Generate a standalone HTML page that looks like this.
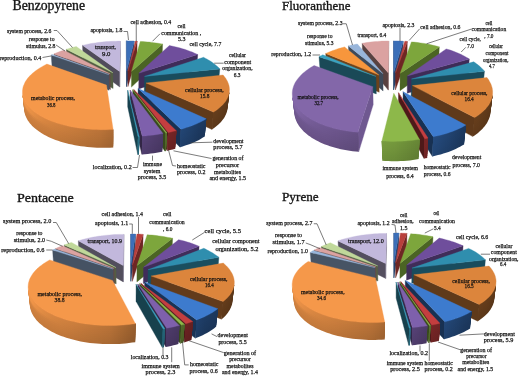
<!DOCTYPE html>
<html><head><meta charset="utf-8"><style>
html,body{margin:0;padding:0;background:#fff;width:520px;height:377px;overflow:hidden}
svg{display:block;filter:blur(0.4px)}
text{font-family:"Liberation Serif",serif;fill:#111}
.lbl text{stroke:#111;stroke-width:0.25px}
.t{font-family:"Liberation Sans",sans-serif}
</style></head><body>
<svg width="520" height="377" viewBox="0 0 520 377">
<rect width="520" height="377" fill="#fff"/>
<polygon points="126.5,71.0 126.4,40.8 126.4,55.0 126.5,86.6" fill="#182c4a" stroke="#182c4a" stroke-width="0.35"/>
<polygon points="126.5,71.0 134.2,41.0 134.0,55.2 126.5,86.6" fill="#24436e" stroke="#24436e" stroke-width="0.35"/>
<polygon points="126.5,71.0 126.4,40.8 128.3,40.9 130.3,40.9 132.2,40.9 134.2,41.0" fill="#3c6fb8" stroke="#3c6fb8" stroke-width="0.35"/>
<polygon points="127.9,71.1 137.1,41.1 137.0,55.3 127.9,86.7" fill="#6e2624" stroke="#6e2624" stroke-width="0.35"/>
<polygon points="127.9,71.1 135.4,41.1 136.3,41.1 137.1,41.1" fill="#b8403c" stroke="#b8403c" stroke-width="0.35"/>
<polygon points="119.6,71.4 82.5,45.3 83.1,59.7 119.7,87.0" fill="#504c5b" stroke="#504c5b" stroke-width="0.35"/>
<polygon points="119.6,71.4 120.3,41.1 120.4,55.3 119.7,87.0" fill="#746e84" stroke="#746e84" stroke-width="0.35"/>
<polygon points="119.6,71.4 82.5,45.3 84.6,44.9 86.7,44.4 88.8,44.0 91.0,43.6 93.2,43.2 95.4,42.9 97.6,42.6 99.8,42.3 102.0,42.1 104.3,41.8 106.6,41.6 108.8,41.5 111.1,41.3 113.4,41.2 115.7,41.2 118.0,41.1 120.3,41.1" fill="#c2b8dc" stroke="#c2b8dc" stroke-width="0.35"/>
<polygon points="131.5,71.4 162.6,44.1 162.1,58.4 131.4,87.1" fill="#4b6424" stroke="#4b6424" stroke-width="0.35"/>
<polygon points="131.5,71.4 140.3,41.4 142.6,41.5 144.9,41.7 147.1,41.9 149.4,42.1 151.7,42.4 153.9,42.7 156.1,43.0 158.3,43.3 160.5,43.7 162.6,44.1" fill="#7da63c" stroke="#7da63c" stroke-width="0.35"/>
<polygon points="112.9,72.8 66.3,49.3 67.2,63.9 113.1,88.5" fill="#525d42" stroke="#525d42" stroke-width="0.35"/>
<polygon points="112.9,72.8 66.3,49.3 68.3,48.7 70.2,48.1 72.2,47.5 74.2,47.0 76.3,46.5" fill="#c0d89a" stroke="#c0d89a" stroke-width="0.35"/>
<polygon points="138.9,73.2 197.7,54.5 196.7,69.4 138.7,88.9" fill="#3f2c59" stroke="#3f2c59" stroke-width="0.35"/>
<polygon points="138.9,73.2 169.4,45.5 171.6,46.0 173.9,46.5 176.0,47.0 178.2,47.5 180.3,48.1 182.4,48.7 184.5,49.3 186.5,50.0 188.5,50.7 190.4,51.4 192.3,52.1 194.1,52.9 195.9,53.7 197.7,54.5" fill="#6f4e9c" stroke="#6f4e9c" stroke-width="0.35"/>
<polygon points="110.2,73.9 54.0,53.9 55.0,68.7 110.5,89.6" fill="#624848" stroke="#624848" stroke-width="0.35"/>
<polygon points="110.2,73.9 54.0,53.9 55.5,53.2 57.1,52.6 58.7,51.9 60.4,51.3 62.1,50.7 63.8,50.2" fill="#dba2a1" stroke="#dba2a1" stroke-width="0.35"/>
<polygon points="108.8,74.6 51.2,55.1 52.3,70.0 109.1,90.3" fill="#445162" stroke="#445162" stroke-width="0.35"/>
<polygon points="108.8,74.6 51.2,55.1 51.9,54.8 52.5,54.5" fill="#98b5da" stroke="#98b5da" stroke-width="0.35"/>
<polygon points="144.5,76.4 219.8,68.9 218.3,84.4 144.2,92.3" fill="#194c5d" stroke="#194c5d" stroke-width="0.35"/>
<polygon points="144.5,76.4 203.6,57.3 205.2,58.2 206.8,59.0 208.4,59.9 209.9,60.8 211.4,61.8 212.7,62.7 214.1,63.7 215.3,64.7 216.5,65.7 217.7,66.7 218.8,67.8 219.8,68.9" fill="#2f8eae" stroke="#2f8eae" stroke-width="0.35"/>
<polygon points="146.0,83.0 213.5,112.1 212.0,129.5 145.7,99.1" fill="#603a1a" stroke="#603a1a" stroke-width="0.35"/>
<linearGradient id="benzo1" gradientUnits="userSpaceOnUse" x1="213.5" y1="0" x2="229.3" y2="0"><stop offset="0.00" stop-color="#5d3819"/><stop offset="0.41" stop-color="#5b3719"/><stop offset="0.72" stop-color="#583518"/><stop offset="0.91" stop-color="#563417"/><stop offset="1.00" stop-color="#543317"/></linearGradient>
<polygon points="229.3,91.6 229.1,93.0 228.8,94.3 228.4,95.6 227.9,97.0 227.3,98.3 226.6,99.6 225.8,101.0 224.9,102.3 223.8,103.6 222.7,104.8 221.4,106.1 220.0,107.3 218.6,108.6 217.0,109.8 215.3,110.9 213.5,112.1 212.0,129.5 213.7,128.3 215.4,127.1 216.9,125.8 218.4,124.5 219.7,123.2 221.0,121.9 222.1,120.6 223.1,119.2 224.1,117.9 224.9,116.5 225.6,115.1 226.2,113.7 226.7,112.3 227.1,110.9 227.4,109.6 227.6,108.2" fill="url(#benzo1)"/>
<linearGradient id="benzo2" gradientUnits="userSpaceOnUse" x1="213.5" y1="0" x2="229.3" y2="0"><stop offset="0.00" stop-color="#5e391a"/><stop offset="0.41" stop-color="#5c3719"/><stop offset="0.72" stop-color="#593618"/><stop offset="0.91" stop-color="#573418"/><stop offset="1.00" stop-color="#553317"/></linearGradient>
<polygon points="229.3,91.6 229.1,93.0 228.8,94.3 228.4,95.6 227.9,97.0 227.3,98.3 226.6,99.6 225.8,101.0 224.9,102.3 223.8,103.6 222.7,104.8 221.4,106.1 220.0,107.3 218.6,108.6 217.0,109.8 215.3,110.9 213.5,112.1 212.1,127.8 213.9,126.6 215.5,125.4 217.1,124.1 218.6,122.8 219.9,121.6 221.1,120.2 222.3,118.9 223.3,117.6 224.2,116.2 225.1,114.8 225.8,113.5 226.4,112.1 226.9,110.7 227.3,109.3 227.6,107.9 227.8,106.5" fill="url(#benzo2)"/>
<linearGradient id="benzo3" gradientUnits="userSpaceOnUse" x1="213.5" y1="0" x2="229.3" y2="0"><stop offset="0.00" stop-color="#5f391a"/><stop offset="0.41" stop-color="#5c3819"/><stop offset="0.72" stop-color="#5a3619"/><stop offset="0.91" stop-color="#583518"/><stop offset="1.00" stop-color="#553417"/></linearGradient>
<polygon points="229.3,91.6 229.1,93.0 228.8,94.3 228.4,95.6 227.9,97.0 227.3,98.3 226.6,99.6 225.8,101.0 224.9,102.3 223.8,103.6 222.7,104.8 221.4,106.1 220.0,107.3 218.6,108.6 217.0,109.8 215.3,110.9 213.5,112.1 212.3,126.1 214.0,124.9 215.7,123.7 217.3,122.4 218.7,121.1 220.1,119.9 221.3,118.6 222.5,117.2 223.5,115.9 224.4,114.5 225.2,113.2 225.9,111.8 226.5,110.4 227.1,109.0 227.5,107.7 227.7,106.3 227.9,104.9" fill="url(#benzo3)"/>
<linearGradient id="benzo4" gradientUnits="userSpaceOnUse" x1="213.5" y1="0" x2="229.3" y2="0"><stop offset="0.00" stop-color="#603a1a"/><stop offset="0.41" stop-color="#5d3819"/><stop offset="0.72" stop-color="#5b3719"/><stop offset="0.91" stop-color="#593618"/><stop offset="1.00" stop-color="#563418"/></linearGradient>
<polygon points="229.3,91.6 229.1,93.0 228.8,94.3 228.4,95.6 227.9,97.0 227.3,98.3 226.6,99.6 225.8,101.0 224.9,102.3 223.8,103.6 222.7,104.8 221.4,106.1 220.0,107.3 218.6,108.6 217.0,109.8 215.3,110.9 213.5,112.1 212.4,124.3 214.2,123.1 215.9,121.9 217.4,120.7 218.9,119.4 220.2,118.2 221.5,116.9 222.6,115.5 223.7,114.2 224.6,112.9 225.4,111.5 226.1,110.1 226.7,108.8 227.2,107.4 227.6,106.0 227.9,104.6 228.1,103.3" fill="url(#benzo4)"/>
<linearGradient id="benzo5" gradientUnits="userSpaceOnUse" x1="213.5" y1="0" x2="229.3" y2="0"><stop offset="0.00" stop-color="#613a1a"/><stop offset="0.41" stop-color="#5e391a"/><stop offset="0.72" stop-color="#5c3819"/><stop offset="0.91" stop-color="#5a3618"/><stop offset="1.00" stop-color="#573518"/></linearGradient>
<polygon points="229.3,91.6 229.1,93.0 228.8,94.3 228.4,95.6 227.9,97.0 227.3,98.3 226.6,99.6 225.8,101.0 224.9,102.3 223.8,103.6 222.7,104.8 221.4,106.1 220.0,107.3 218.6,108.6 217.0,109.8 215.3,110.9 213.5,112.1 212.6,122.6 214.4,121.4 216.0,120.2 217.6,119.0 219.0,117.7 220.4,116.5 221.6,115.2 222.8,113.8 223.8,112.5 224.7,111.2 225.6,109.8 226.3,108.5 226.9,107.1 227.4,105.7 227.8,104.4 228.1,103.0 228.3,101.6" fill="url(#benzo5)"/>
<linearGradient id="benzo6" gradientUnits="userSpaceOnUse" x1="213.5" y1="0" x2="229.3" y2="0"><stop offset="0.00" stop-color="#623b1b"/><stop offset="0.41" stop-color="#5f3a1a"/><stop offset="0.72" stop-color="#5d3819"/><stop offset="0.91" stop-color="#5a3719"/><stop offset="1.00" stop-color="#583518"/></linearGradient>
<polygon points="229.3,91.6 229.1,93.0 228.8,94.3 228.4,95.6 227.9,97.0 227.3,98.3 226.6,99.6 225.8,101.0 224.9,102.3 223.8,103.6 222.7,104.8 221.4,106.1 220.0,107.3 218.6,108.6 217.0,109.8 215.3,110.9 213.5,112.1 212.7,120.9 214.5,119.7 216.2,118.5 217.8,117.3 219.2,116.0 220.6,114.7 221.8,113.5 223.0,112.1 224.0,110.8 224.9,109.5 225.7,108.1 226.5,106.8 227.1,105.4 227.6,104.1 228.0,102.7 228.3,101.3 228.5,100.0" fill="url(#benzo6)"/>
<linearGradient id="benzo7" gradientUnits="userSpaceOnUse" x1="213.5" y1="0" x2="229.3" y2="0"><stop offset="0.00" stop-color="#633c1b"/><stop offset="0.41" stop-color="#603a1a"/><stop offset="0.72" stop-color="#5e391a"/><stop offset="0.91" stop-color="#5b3719"/><stop offset="1.00" stop-color="#593618"/></linearGradient>
<polygon points="229.3,91.6 229.1,93.0 228.8,94.3 228.4,95.6 227.9,97.0 227.3,98.3 226.6,99.6 225.8,101.0 224.9,102.3 223.8,103.6 222.7,104.8 221.4,106.1 220.0,107.3 218.6,108.6 217.0,109.8 215.3,110.9 213.5,112.1 212.9,119.1 214.7,118.0 216.3,116.8 217.9,115.5 219.4,114.3 220.7,113.0 222.0,111.7 223.1,110.4 224.2,109.1 225.1,107.8 225.9,106.5 226.6,105.1 227.2,103.8 227.7,102.4 228.1,101.0 228.4,99.7 228.6,98.3" fill="url(#benzo7)"/>
<linearGradient id="benzo8" gradientUnits="userSpaceOnUse" x1="213.5" y1="0" x2="229.3" y2="0"><stop offset="0.00" stop-color="#643c1b"/><stop offset="0.41" stop-color="#613b1b"/><stop offset="0.72" stop-color="#5f391a"/><stop offset="0.91" stop-color="#5c3819"/><stop offset="1.00" stop-color="#5a3618"/></linearGradient>
<polygon points="229.3,91.6 229.1,93.0 228.8,94.3 228.4,95.6 227.9,97.0 227.3,98.3 226.6,99.6 225.8,101.0 224.9,102.3 223.8,103.6 222.7,104.8 221.4,106.1 220.0,107.3 218.6,108.6 217.0,109.8 215.3,110.9 213.5,112.1 213.1,117.4 214.8,116.2 216.5,115.0 218.1,113.8 219.5,112.6 220.9,111.3 222.2,110.0 223.3,108.7 224.3,107.4 225.3,106.1 226.1,104.8 226.8,103.4 227.4,102.1 227.9,100.7 228.3,99.4 228.6,98.0 228.8,96.6" fill="url(#benzo8)"/>
<linearGradient id="benzo9" gradientUnits="userSpaceOnUse" x1="213.5" y1="0" x2="229.3" y2="0"><stop offset="0.00" stop-color="#653d1b"/><stop offset="0.41" stop-color="#623b1b"/><stop offset="0.72" stop-color="#603a1a"/><stop offset="0.91" stop-color="#5d3819"/><stop offset="1.00" stop-color="#5b3719"/></linearGradient>
<polygon points="229.3,91.6 229.1,93.0 228.8,94.3 228.4,95.6 227.9,97.0 227.3,98.3 226.6,99.6 225.8,101.0 224.9,102.3 223.8,103.6 222.7,104.8 221.4,106.1 220.0,107.3 218.6,108.6 217.0,109.8 215.3,110.9 213.5,112.1 213.2,115.6 215.0,114.5 216.7,113.3 218.2,112.1 219.7,110.8 221.1,109.6 222.3,108.3 223.5,107.0 224.5,105.7 225.4,104.4 226.3,103.1 227.0,101.7 227.6,100.4 228.1,99.0 228.5,97.7 228.8,96.3 229.0,95.0" fill="url(#benzo9)"/>
<linearGradient id="benzo10" gradientUnits="userSpaceOnUse" x1="213.5" y1="0" x2="229.3" y2="0"><stop offset="0.00" stop-color="#663d1c"/><stop offset="0.41" stop-color="#633c1b"/><stop offset="0.72" stop-color="#613a1a"/><stop offset="0.91" stop-color="#5e391a"/><stop offset="1.00" stop-color="#5c3719"/></linearGradient>
<polygon points="229.3,91.6 229.1,93.0 228.8,94.3 228.4,95.6 227.9,97.0 227.3,98.3 226.6,99.6 225.8,101.0 224.9,102.3 223.8,103.6 222.7,104.8 221.4,106.1 220.0,107.3 218.6,108.6 217.0,109.8 215.3,110.9 213.5,112.1 213.4,113.9 215.2,112.7 216.8,111.5 218.4,110.3 219.9,109.1 221.2,107.8 222.5,106.6 223.6,105.3 224.7,104.0 225.6,102.7 226.4,101.3 227.2,100.0 227.8,98.7 228.3,97.3 228.7,96.0 229.0,94.6 229.1,93.3" fill="url(#benzo10)"/>
<polygon points="146.0,83.0 223.1,75.0 224.1,76.2 225.0,77.4 225.9,78.6 226.6,79.9 227.3,81.1 227.9,82.4 228.4,83.7 228.8,85.0 229.1,86.3 229.3,87.6 229.4,89.0 229.4,90.3 229.3,91.6 229.1,93.0 228.8,94.3 228.4,95.6 227.9,97.0 227.3,98.3 226.6,99.6 225.8,101.0 224.9,102.3 223.8,103.6 222.7,104.8 221.4,106.1 220.0,107.3 218.6,108.6 217.0,109.8 215.3,110.9 213.5,112.1" fill="#dc853c" stroke="#dc853c" stroke-width="0.35"/>
<linearGradient id="benzo11" gradientUnits="userSpaceOnUse" x1="22.5" y1="0" x2="113.1" y2="0"><stop offset="0.00" stop-color="#cb7e3d"/><stop offset="0.01" stop-color="#c97d3d"/><stop offset="0.05" stop-color="#c77c3c"/><stop offset="0.10" stop-color="#c67b3c"/><stop offset="0.16" stop-color="#c47a3b"/><stop offset="0.25" stop-color="#c2783b"/><stop offset="0.35" stop-color="#c0773a"/><stop offset="0.46" stop-color="#bc7439"/><stop offset="0.59" stop-color="#b67137"/><stop offset="0.72" stop-color="#b06d35"/><stop offset="0.86" stop-color="#aa6933"/><stop offset="1.00" stop-color="#9e6230"/></linearGradient>
<polygon points="113.1,129.5 109.7,129.6 106.4,129.7 103.1,129.7 99.7,129.7 96.4,129.6 93.1,129.5 89.8,129.2 86.6,128.9 83.4,128.6 80.2,128.2 77.0,127.7 74.0,127.2 70.9,126.7 68.0,126.0 65.1,125.3 62.2,124.6 59.5,123.8 56.8,123.0 54.2,122.1 51.7,121.2 49.3,120.2 47.0,119.2 44.7,118.2 42.6,117.1 40.6,116.0 38.6,114.8 36.8,113.6 35.1,112.4 33.5,111.2 32.0,109.9 30.6,108.7 29.3,107.4 28.1,106.1 27.1,104.7 26.1,103.4 25.3,102.0 24.6,100.7 23.9,99.3 23.4,97.9 23.0,96.6 22.7,95.2 22.5,93.8 24.2,110.4 24.4,111.9 24.7,113.3 25.1,114.7 25.7,116.2 26.3,117.6 27.0,119.0 27.8,120.4 28.8,121.8 29.8,123.2 31.0,124.6 32.2,125.9 33.6,127.2 35.1,128.6 36.7,129.8 38.4,131.1 40.2,132.3 42.1,133.5 44.1,134.7 46.2,135.8 48.4,136.9 50.7,137.9 53.1,138.9 55.5,139.9 58.1,140.8 60.7,141.7 63.4,142.5 66.2,143.3 69.0,144.0 72.0,144.6 74.9,145.2 78.0,145.7 81.0,146.2 84.1,146.6 87.3,147.0 90.5,147.3 93.7,147.5 97.0,147.7 100.2,147.8 103.5,147.8 106.8,147.8 110.0,147.7 113.3,147.6" fill="url(#benzo11)"/>
<linearGradient id="benzo12" gradientUnits="userSpaceOnUse" x1="22.5" y1="0" x2="113.1" y2="0"><stop offset="0.00" stop-color="#cd7f3e"/><stop offset="0.01" stop-color="#cb7e3d"/><stop offset="0.05" stop-color="#c97d3d"/><stop offset="0.10" stop-color="#c87c3c"/><stop offset="0.16" stop-color="#c67b3c"/><stop offset="0.25" stop-color="#c47a3b"/><stop offset="0.35" stop-color="#c2793b"/><stop offset="0.46" stop-color="#bd7639"/><stop offset="0.59" stop-color="#b87237"/><stop offset="0.72" stop-color="#b26e36"/><stop offset="0.86" stop-color="#ac6a34"/><stop offset="1.00" stop-color="#9f6330"/></linearGradient>
<polygon points="113.1,129.5 109.7,129.6 106.4,129.7 103.1,129.7 99.7,129.7 96.4,129.6 93.1,129.5 89.8,129.2 86.6,128.9 83.4,128.6 80.2,128.2 77.0,127.7 74.0,127.2 70.9,126.7 68.0,126.0 65.1,125.3 62.2,124.6 59.5,123.8 56.8,123.0 54.2,122.1 51.7,121.2 49.3,120.2 47.0,119.2 44.7,118.2 42.6,117.1 40.6,116.0 38.6,114.8 36.8,113.6 35.1,112.4 33.5,111.2 32.0,109.9 30.6,108.7 29.3,107.4 28.1,106.1 27.1,104.7 26.1,103.4 25.3,102.0 24.6,100.7 23.9,99.3 23.4,97.9 23.0,96.6 22.7,95.2 22.5,93.8 24.1,108.8 24.3,110.2 24.6,111.7 25.0,113.1 25.5,114.5 26.1,115.9 26.8,117.3 27.7,118.7 28.6,120.1 29.7,121.5 30.8,122.9 32.1,124.2 33.5,125.5 34.9,126.8 36.5,128.1 38.2,129.4 40.0,130.6 41.9,131.8 43.9,132.9 46.0,134.1 48.2,135.2 50.5,136.2 52.9,137.2 55.4,138.2 57.9,139.1 60.6,139.9 63.3,140.7 66.1,141.5 68.9,142.2 71.9,142.8 74.8,143.4 77.9,144.0 80.9,144.5 84.1,144.9 87.2,145.2 90.4,145.5 93.7,145.7 96.9,145.9 100.2,146.0 103.4,146.0 106.7,146.0 110.0,145.9 113.3,145.8" fill="url(#benzo12)"/>
<linearGradient id="benzo13" gradientUnits="userSpaceOnUse" x1="22.5" y1="0" x2="113.1" y2="0"><stop offset="0.00" stop-color="#cf813f"/><stop offset="0.01" stop-color="#cd7f3e"/><stop offset="0.05" stop-color="#cc7e3d"/><stop offset="0.10" stop-color="#ca7d3d"/><stop offset="0.16" stop-color="#c87c3c"/><stop offset="0.25" stop-color="#c67b3c"/><stop offset="0.35" stop-color="#c47a3b"/><stop offset="0.46" stop-color="#bf773a"/><stop offset="0.59" stop-color="#b97338"/><stop offset="0.72" stop-color="#b36f36"/><stop offset="0.86" stop-color="#ad6c34"/><stop offset="1.00" stop-color="#a16431"/></linearGradient>
<polygon points="113.1,129.5 109.7,129.6 106.4,129.7 103.1,129.7 99.7,129.7 96.4,129.6 93.1,129.5 89.8,129.2 86.6,128.9 83.4,128.6 80.2,128.2 77.0,127.7 74.0,127.2 70.9,126.7 68.0,126.0 65.1,125.3 62.2,124.6 59.5,123.8 56.8,123.0 54.2,122.1 51.7,121.2 49.3,120.2 47.0,119.2 44.7,118.2 42.6,117.1 40.6,116.0 38.6,114.8 36.8,113.6 35.1,112.4 33.5,111.2 32.0,109.9 30.6,108.7 29.3,107.4 28.1,106.1 27.1,104.7 26.1,103.4 25.3,102.0 24.6,100.7 23.9,99.3 23.4,97.9 23.0,96.6 22.7,95.2 22.5,93.8 23.9,107.2 24.1,108.6 24.4,110.0 24.8,111.4 25.3,112.8 25.9,114.3 26.7,115.7 27.5,117.1 28.4,118.4 29.5,119.8 30.7,121.2 31.9,122.5 33.3,123.8 34.8,125.1 36.4,126.4 38.1,127.7 39.9,128.9 41.8,130.1 43.8,131.2 45.9,132.3 48.1,133.4 50.4,134.4 52.8,135.4 55.3,136.4 57.8,137.3 60.5,138.2 63.2,139.0 66.0,139.7 68.8,140.4 71.8,141.1 74.7,141.7 77.8,142.2 80.9,142.7 84.0,143.1 87.2,143.4 90.4,143.7 93.6,144.0 96.8,144.1 100.1,144.2 103.4,144.3 106.7,144.2 110.0,144.1 113.2,144.0" fill="url(#benzo13)"/>
<linearGradient id="benzo14" gradientUnits="userSpaceOnUse" x1="22.5" y1="0" x2="113.1" y2="0"><stop offset="0.00" stop-color="#d1823f"/><stop offset="0.01" stop-color="#cf813f"/><stop offset="0.05" stop-color="#ce803e"/><stop offset="0.10" stop-color="#cc7e3e"/><stop offset="0.16" stop-color="#ca7d3d"/><stop offset="0.25" stop-color="#c87c3c"/><stop offset="0.35" stop-color="#c67b3c"/><stop offset="0.46" stop-color="#c1783a"/><stop offset="0.59" stop-color="#bb7439"/><stop offset="0.72" stop-color="#b57037"/><stop offset="0.86" stop-color="#af6d35"/><stop offset="1.00" stop-color="#a36531"/></linearGradient>
<polygon points="113.1,129.5 109.7,129.6 106.4,129.7 103.1,129.7 99.7,129.7 96.4,129.6 93.1,129.5 89.8,129.2 86.6,128.9 83.4,128.6 80.2,128.2 77.0,127.7 74.0,127.2 70.9,126.7 68.0,126.0 65.1,125.3 62.2,124.6 59.5,123.8 56.8,123.0 54.2,122.1 51.7,121.2 49.3,120.2 47.0,119.2 44.7,118.2 42.6,117.1 40.6,116.0 38.6,114.8 36.8,113.6 35.1,112.4 33.5,111.2 32.0,109.9 30.6,108.7 29.3,107.4 28.1,106.1 27.1,104.7 26.1,103.4 25.3,102.0 24.6,100.7 23.9,99.3 23.4,97.9 23.0,96.6 22.7,95.2 22.5,93.8 23.7,105.5 23.9,106.9 24.2,108.3 24.6,109.8 25.1,111.2 25.8,112.6 26.5,114.0 27.3,115.4 28.3,116.8 29.3,118.1 30.5,119.5 31.8,120.8 33.1,122.1 34.6,123.4 36.2,124.7 37.9,125.9 39.7,127.1 41.6,128.3 43.7,129.5 45.8,130.6 48.0,131.7 50.3,132.7 52.7,133.7 55.1,134.6 57.7,135.5 60.3,136.4 63.1,137.2 65.9,138.0 68.7,138.7 71.7,139.3 74.6,139.9 77.7,140.4 80.8,140.9 83.9,141.3 87.1,141.7 90.3,141.9 93.5,142.2 96.8,142.3 100.1,142.4 103.4,142.5 106.6,142.4 109.9,142.4 113.2,142.2" fill="url(#benzo14)"/>
<linearGradient id="benzo15" gradientUnits="userSpaceOnUse" x1="22.5" y1="0" x2="113.1" y2="0"><stop offset="0.00" stop-color="#d38340"/><stop offset="0.01" stop-color="#d2823f"/><stop offset="0.05" stop-color="#d0813f"/><stop offset="0.10" stop-color="#ce803e"/><stop offset="0.16" stop-color="#cc7f3e"/><stop offset="0.25" stop-color="#ca7d3d"/><stop offset="0.35" stop-color="#c87c3d"/><stop offset="0.46" stop-color="#c3793b"/><stop offset="0.59" stop-color="#bd7539"/><stop offset="0.72" stop-color="#b77237"/><stop offset="0.86" stop-color="#b16e35"/><stop offset="1.00" stop-color="#a46632"/></linearGradient>
<polygon points="113.1,129.5 109.7,129.6 106.4,129.7 103.1,129.7 99.7,129.7 96.4,129.6 93.1,129.5 89.8,129.2 86.6,128.9 83.4,128.6 80.2,128.2 77.0,127.7 74.0,127.2 70.9,126.7 68.0,126.0 65.1,125.3 62.2,124.6 59.5,123.8 56.8,123.0 54.2,122.1 51.7,121.2 49.3,120.2 47.0,119.2 44.7,118.2 42.6,117.1 40.6,116.0 38.6,114.8 36.8,113.6 35.1,112.4 33.5,111.2 32.0,109.9 30.6,108.7 29.3,107.4 28.1,106.1 27.1,104.7 26.1,103.4 25.3,102.0 24.6,100.7 23.9,99.3 23.4,97.9 23.0,96.6 22.7,95.2 22.5,93.8 23.6,103.9 23.8,105.3 24.1,106.7 24.5,108.1 25.0,109.5 25.6,110.9 26.3,112.3 27.2,113.7 28.1,115.1 29.2,116.4 30.3,117.8 31.6,119.1 33.0,120.4 34.5,121.7 36.1,123.0 37.8,124.2 39.6,125.4 41.5,126.6 43.5,127.7 45.6,128.8 47.8,129.9 50.1,130.9 52.5,131.9 55.0,132.9 57.6,133.8 60.2,134.6 63.0,135.4 65.8,136.2 68.6,136.9 71.6,137.5 74.5,138.1 77.6,138.6 80.7,139.1 83.8,139.5 87.0,139.9 90.2,140.1 93.5,140.4 96.7,140.5 100.0,140.6 103.3,140.7 106.6,140.7 109.9,140.6 113.2,140.4" fill="url(#benzo15)"/>
<linearGradient id="benzo16" gradientUnits="userSpaceOnUse" x1="22.5" y1="0" x2="113.1" y2="0"><stop offset="0.00" stop-color="#d88641"/><stop offset="0.01" stop-color="#d68541"/><stop offset="0.05" stop-color="#d48440"/><stop offset="0.10" stop-color="#d2823f"/><stop offset="0.16" stop-color="#cf813f"/><stop offset="0.25" stop-color="#cd7f3e"/><stop offset="0.35" stop-color="#ca7e3d"/><stop offset="0.46" stop-color="#c57a3c"/><stop offset="0.59" stop-color="#bf773a"/><stop offset="0.72" stop-color="#b97338"/><stop offset="0.86" stop-color="#b36f36"/><stop offset="1.00" stop-color="#a66732"/></linearGradient>
<polygon points="113.1,129.5 109.7,129.6 106.4,129.7 103.1,129.7 99.7,129.7 96.4,129.6 93.1,129.5 89.8,129.2 86.6,128.9 83.4,128.6 80.2,128.2 77.0,127.7 74.0,127.2 70.9,126.7 68.0,126.0 65.1,125.3 62.2,124.6 59.5,123.8 56.8,123.0 54.2,122.1 51.7,121.2 49.3,120.2 47.0,119.2 44.7,118.2 42.6,117.1 40.6,116.0 38.6,114.8 36.8,113.6 35.1,112.4 33.5,111.2 32.0,109.9 30.6,108.7 29.3,107.4 28.1,106.1 27.1,104.7 26.1,103.4 25.3,102.0 24.6,100.7 23.9,99.3 23.4,97.9 23.0,96.6 22.7,95.2 22.5,93.8 23.4,102.2 23.6,103.6 23.9,105.0 24.3,106.4 24.8,107.8 25.4,109.2 26.1,110.6 27.0,112.0 27.9,113.3 29.0,114.7 30.1,116.0 31.4,117.4 32.8,118.7 34.3,120.0 35.9,121.2 37.6,122.4 39.4,123.7 41.3,124.8 43.4,126.0 45.5,127.1 47.7,128.1 50.0,129.2 52.4,130.1 54.9,131.1 57.4,132.0 60.1,132.8 62.8,133.6 65.6,134.4 68.5,135.1 71.5,135.7 74.5,136.3 77.5,136.8 80.6,137.3 83.8,137.7 86.9,138.1 90.2,138.3 93.4,138.6 96.7,138.7 100.0,138.8 103.3,138.9 106.6,138.8 109.9,138.8 113.2,138.6" fill="url(#benzo16)"/>
<linearGradient id="benzo17" gradientUnits="userSpaceOnUse" x1="22.5" y1="0" x2="113.1" y2="0"><stop offset="0.00" stop-color="#e58e45"/><stop offset="0.01" stop-color="#e48e45"/><stop offset="0.05" stop-color="#e28c44"/><stop offset="0.10" stop-color="#dd8943"/><stop offset="0.16" stop-color="#d78541"/><stop offset="0.25" stop-color="#d1823f"/><stop offset="0.35" stop-color="#cc7f3e"/><stop offset="0.46" stop-color="#c77c3c"/><stop offset="0.59" stop-color="#c1783a"/><stop offset="0.72" stop-color="#bb7438"/><stop offset="0.86" stop-color="#b57037"/><stop offset="1.00" stop-color="#a86833"/></linearGradient>
<polygon points="113.1,129.5 109.7,129.6 106.4,129.7 103.1,129.7 99.7,129.7 96.4,129.6 93.1,129.5 89.8,129.2 86.6,128.9 83.4,128.6 80.2,128.2 77.0,127.7 74.0,127.2 70.9,126.7 68.0,126.0 65.1,125.3 62.2,124.6 59.5,123.8 56.8,123.0 54.2,122.1 51.7,121.2 49.3,120.2 47.0,119.2 44.7,118.2 42.6,117.1 40.6,116.0 38.6,114.8 36.8,113.6 35.1,112.4 33.5,111.2 32.0,109.9 30.6,108.7 29.3,107.4 28.1,106.1 27.1,104.7 26.1,103.4 25.3,102.0 24.6,100.7 23.9,99.3 23.4,97.9 23.0,96.6 22.7,95.2 22.5,93.8 23.2,100.5 23.4,101.9 23.7,103.3 24.1,104.7 24.6,106.1 25.2,107.5 26.0,108.9 26.8,110.3 27.8,111.6 28.8,113.0 30.0,114.3 31.3,115.6 32.6,116.9 34.1,118.2 35.7,119.5 37.5,120.7 39.3,121.9 41.2,123.1 43.2,124.2 45.3,125.3 47.5,126.4 49.9,127.4 52.3,128.4 54.7,129.3 57.3,130.2 60.0,131.0 62.7,131.8 65.5,132.6 68.4,133.3 71.4,133.9 74.4,134.5 77.4,135.0 80.5,135.5 83.7,135.9 86.9,136.3 90.1,136.5 93.4,136.8 96.6,136.9 99.9,137.0 103.2,137.1 106.5,137.0 109.8,136.9 113.1,136.8" fill="url(#benzo17)"/>
<linearGradient id="benzo18" gradientUnits="userSpaceOnUse" x1="22.5" y1="0" x2="113.1" y2="0"><stop offset="0.00" stop-color="#f09549"/><stop offset="0.01" stop-color="#f09548"/><stop offset="0.05" stop-color="#ed9348"/><stop offset="0.10" stop-color="#e68f45"/><stop offset="0.16" stop-color="#de8a43"/><stop offset="0.25" stop-color="#d58440"/><stop offset="0.35" stop-color="#ce803e"/><stop offset="0.46" stop-color="#c97d3d"/><stop offset="0.59" stop-color="#c3793b"/><stop offset="0.72" stop-color="#bd7539"/><stop offset="0.86" stop-color="#b67137"/><stop offset="1.00" stop-color="#a96933"/></linearGradient>
<polygon points="113.1,129.5 109.7,129.6 106.4,129.7 103.1,129.7 99.7,129.7 96.4,129.6 93.1,129.5 89.8,129.2 86.6,128.9 83.4,128.6 80.2,128.2 77.0,127.7 74.0,127.2 70.9,126.7 68.0,126.0 65.1,125.3 62.2,124.6 59.5,123.8 56.8,123.0 54.2,122.1 51.7,121.2 49.3,120.2 47.0,119.2 44.7,118.2 42.6,117.1 40.6,116.0 38.6,114.8 36.8,113.6 35.1,112.4 33.5,111.2 32.0,109.9 30.6,108.7 29.3,107.4 28.1,106.1 27.1,104.7 26.1,103.4 25.3,102.0 24.6,100.7 23.9,99.3 23.4,97.9 23.0,96.6 22.7,95.2 22.5,93.8 23.1,98.9 23.2,100.3 23.5,101.7 23.9,103.0 24.5,104.4 25.1,105.8 25.8,107.2 26.6,108.6 27.6,109.9 28.6,111.3 29.8,112.6 31.1,113.9 32.5,115.2 34.0,116.5 35.6,117.7 37.3,118.9 39.1,120.1 41.0,121.3 43.1,122.4 45.2,123.5 47.4,124.6 49.7,125.6 52.1,126.6 54.6,127.5 57.2,128.4 59.9,129.3 62.6,130.0 65.4,130.8 68.3,131.5 71.2,132.1 74.3,132.7 77.3,133.2 80.4,133.7 83.6,134.1 86.8,134.4 90.0,134.7 93.3,134.9 96.6,135.1 99.9,135.2 103.2,135.2 106.5,135.2 109.8,135.1 113.1,135.0" fill="url(#benzo18)"/>
<linearGradient id="benzo19" gradientUnits="userSpaceOnUse" x1="22.5" y1="0" x2="113.1" y2="0"><stop offset="0.00" stop-color="#f19649"/><stop offset="0.01" stop-color="#f19549"/><stop offset="0.05" stop-color="#ee9448"/><stop offset="0.10" stop-color="#e79046"/><stop offset="0.16" stop-color="#df8b43"/><stop offset="0.25" stop-color="#d78541"/><stop offset="0.35" stop-color="#d0813f"/><stop offset="0.46" stop-color="#cb7e3d"/><stop offset="0.59" stop-color="#c57a3b"/><stop offset="0.72" stop-color="#be763a"/><stop offset="0.86" stop-color="#b87238"/><stop offset="1.00" stop-color="#ab6a34"/></linearGradient>
<polygon points="113.1,129.5 109.7,129.6 106.4,129.7 103.1,129.7 99.7,129.7 96.4,129.6 93.1,129.5 89.8,129.2 86.6,128.9 83.4,128.6 80.2,128.2 77.0,127.7 74.0,127.2 70.9,126.7 68.0,126.0 65.1,125.3 62.2,124.6 59.5,123.8 56.8,123.0 54.2,122.1 51.7,121.2 49.3,120.2 47.0,119.2 44.7,118.2 42.6,117.1 40.6,116.0 38.6,114.8 36.8,113.6 35.1,112.4 33.5,111.2 32.0,109.9 30.6,108.7 29.3,107.4 28.1,106.1 27.1,104.7 26.1,103.4 25.3,102.0 24.6,100.7 23.9,99.3 23.4,97.9 23.0,96.6 22.7,95.2 22.5,93.8 22.9,97.2 23.1,98.6 23.4,100.0 23.8,101.3 24.3,102.7 24.9,104.1 25.6,105.5 26.5,106.8 27.4,108.2 28.5,109.5 29.6,110.9 30.9,112.2 32.3,113.5 33.8,114.7 35.4,116.0 37.1,117.2 39.0,118.4 40.9,119.5 42.9,120.7 45.0,121.8 47.3,122.8 49.6,123.8 52.0,124.8 54.5,125.7 57.1,126.6 59.7,127.5 62.5,128.2 65.3,129.0 68.2,129.7 71.1,130.3 74.2,130.9 77.2,131.4 80.4,131.9 83.5,132.3 86.7,132.6 90.0,132.9 93.2,133.1 96.5,133.3 99.8,133.4 103.1,133.4 106.5,133.4 109.8,133.3 113.1,133.2" fill="url(#benzo19)"/>
<linearGradient id="benzo20" gradientUnits="userSpaceOnUse" x1="22.5" y1="0" x2="113.1" y2="0"><stop offset="0.00" stop-color="#f29649"/><stop offset="0.01" stop-color="#f19649"/><stop offset="0.05" stop-color="#ef9448"/><stop offset="0.10" stop-color="#e89046"/><stop offset="0.16" stop-color="#e18b44"/><stop offset="0.25" stop-color="#d98641"/><stop offset="0.35" stop-color="#d28340"/><stop offset="0.46" stop-color="#cd7f3e"/><stop offset="0.59" stop-color="#c77b3c"/><stop offset="0.72" stop-color="#c0773a"/><stop offset="0.86" stop-color="#ba7338"/><stop offset="1.00" stop-color="#ad6b34"/></linearGradient>
<polygon points="113.1,129.5 109.7,129.6 106.4,129.7 103.1,129.7 99.7,129.7 96.4,129.6 93.1,129.5 89.8,129.2 86.6,128.9 83.4,128.6 80.2,128.2 77.0,127.7 74.0,127.2 70.9,126.7 68.0,126.0 65.1,125.3 62.2,124.6 59.5,123.8 56.8,123.0 54.2,122.1 51.7,121.2 49.3,120.2 47.0,119.2 44.7,118.2 42.6,117.1 40.6,116.0 38.6,114.8 36.8,113.6 35.1,112.4 33.5,111.2 32.0,109.9 30.6,108.7 29.3,107.4 28.1,106.1 27.1,104.7 26.1,103.4 25.3,102.0 24.6,100.7 23.9,99.3 23.4,97.9 23.0,96.6 22.7,95.2 22.5,93.8 22.7,95.5 22.9,96.9 23.2,98.3 23.6,99.6 24.1,101.0 24.7,102.4 25.5,103.8 26.3,105.1 27.2,106.5 28.3,107.8 29.5,109.1 30.8,110.4 32.1,111.7 33.6,113.0 35.3,114.2 37.0,115.4 38.8,116.6 40.7,117.8 42.8,118.9 44.9,120.0 47.1,121.0 49.4,122.0 51.8,123.0 54.4,123.9 56.9,124.8 59.6,125.6 62.4,126.4 65.2,127.2 68.1,127.8 71.0,128.5 74.1,129.1 77.1,129.6 80.3,130.0 83.4,130.4 86.7,130.8 89.9,131.1 93.2,131.3 96.5,131.5 99.8,131.5 103.1,131.6 106.4,131.6 109.8,131.5 113.1,131.3" fill="url(#benzo20)"/>
<polygon points="106.5,85.1 113.1,129.5 109.7,129.6 106.4,129.7 103.1,129.7 99.7,129.7 96.4,129.6 93.1,129.5 89.8,129.2 86.6,128.9 83.4,128.6 80.2,128.2 77.0,127.7 74.0,127.2 70.9,126.7 68.0,126.0 65.1,125.3 62.2,124.6 59.5,123.8 56.8,123.0 54.2,122.1 51.7,121.2 49.3,120.2 47.0,119.2 44.7,118.2 42.6,117.1 40.6,116.0 38.6,114.8 36.8,113.6 35.1,112.4 33.5,111.2 32.0,109.9 30.6,108.7 29.3,107.4 28.1,106.1 27.1,104.7 26.1,103.4 25.3,102.0 24.6,100.7 23.9,99.3 23.4,97.9 23.0,96.6 22.7,95.2 22.5,93.8 22.5,92.5 22.5,91.1 22.6,89.7 22.8,88.4 23.1,87.0 23.5,85.7 24.1,84.4 24.7,83.1 25.3,81.8 26.1,80.5 27.0,79.3 27.9,78.0 29.0,76.8 30.1,75.6 31.3,74.4 32.5,73.3 33.9,72.2 35.3,71.1 36.8,70.0 38.3,68.9 39.9,67.9 41.6,66.9 43.3,65.9 45.1,65.0 46.9,64.1" fill="#f5984a" stroke="#f5984a" stroke-width="0.35"/>
<polygon points="138.1,88.4 181.0,129.2 180.0,147.2 137.9,104.8" fill="#183152" stroke="#183152" stroke-width="0.35"/>
<linearGradient id="benzo21" gradientUnits="userSpaceOnUse" x1="181.0" y1="0" x2="206.2" y2="0"><stop offset="0.00" stop-color="#1f3f6a"/><stop offset="0.38" stop-color="#1d3a62"/><stop offset="0.71" stop-color="#1b365a"/><stop offset="1.00" stop-color="#1a3457"/></linearGradient>
<polygon points="206.2,118.8 204.4,119.9 202.4,121.0 200.4,122.1 198.2,123.1 196.0,124.1 193.7,125.0 191.3,125.9 188.9,126.8 186.3,127.6 183.7,128.4 181.0,129.2 180.0,147.2 182.6,146.5 185.2,145.6 187.7,144.8 190.1,143.9 192.5,142.9 194.7,141.9 196.9,140.9 199.0,139.9 201.0,138.8 202.9,137.6 204.8,136.5" fill="url(#benzo21)"/>
<linearGradient id="benzo22" gradientUnits="userSpaceOnUse" x1="181.0" y1="0" x2="206.2" y2="0"><stop offset="0.00" stop-color="#20406b"/><stop offset="0.38" stop-color="#1d3b63"/><stop offset="0.71" stop-color="#1b365b"/><stop offset="1.00" stop-color="#1a3458"/></linearGradient>
<polygon points="206.2,118.8 204.4,119.9 202.4,121.0 200.4,122.1 198.2,123.1 196.0,124.1 193.7,125.0 191.3,125.9 188.9,126.8 186.3,127.6 183.7,128.4 181.0,129.2 180.1,145.5 182.7,144.7 185.3,143.9 187.8,143.0 190.2,142.1 192.6,141.2 194.8,140.2 197.0,139.2 199.1,138.1 201.1,137.0 203.1,135.9 204.9,134.7" fill="url(#benzo22)"/>
<linearGradient id="benzo23" gradientUnits="userSpaceOnUse" x1="181.0" y1="0" x2="206.2" y2="0"><stop offset="0.00" stop-color="#20416c"/><stop offset="0.38" stop-color="#1e3c64"/><stop offset="0.71" stop-color="#1b375c"/><stop offset="1.00" stop-color="#1a3559"/></linearGradient>
<polygon points="206.2,118.8 204.4,119.9 202.4,121.0 200.4,122.1 198.2,123.1 196.0,124.1 193.7,125.0 191.3,125.9 188.9,126.8 186.3,127.6 183.7,128.4 181.0,129.2 180.2,143.7 182.8,142.9 185.4,142.1 187.9,141.2 190.4,140.3 192.7,139.4 195.0,138.4 197.2,137.4 199.3,136.3 201.3,135.3 203.2,134.1 205.1,133.0" fill="url(#benzo23)"/>
<linearGradient id="benzo24" gradientUnits="userSpaceOnUse" x1="181.0" y1="0" x2="206.2" y2="0"><stop offset="0.00" stop-color="#20416d"/><stop offset="0.38" stop-color="#1e3c65"/><stop offset="0.71" stop-color="#1b375d"/><stop offset="1.00" stop-color="#1b365a"/></linearGradient>
<polygon points="206.2,118.8 204.4,119.9 202.4,121.0 200.4,122.1 198.2,123.1 196.0,124.1 193.7,125.0 191.3,125.9 188.9,126.8 186.3,127.6 183.7,128.4 181.0,129.2 180.3,141.9 183.0,141.1 185.5,140.3 188.0,139.5 190.5,138.6 192.8,137.6 195.1,136.7 197.3,135.6 199.4,134.6 201.4,133.5 203.4,132.4 205.2,131.2" fill="url(#benzo24)"/>
<linearGradient id="benzo25" gradientUnits="userSpaceOnUse" x1="181.0" y1="0" x2="206.2" y2="0"><stop offset="0.00" stop-color="#21426e"/><stop offset="0.38" stop-color="#1e3d66"/><stop offset="0.71" stop-color="#1c385e"/><stop offset="1.00" stop-color="#1b365b"/></linearGradient>
<polygon points="206.2,118.8 204.4,119.9 202.4,121.0 200.4,122.1 198.2,123.1 196.0,124.1 193.7,125.0 191.3,125.9 188.9,126.8 186.3,127.6 183.7,128.4 181.0,129.2 180.4,140.1 183.1,139.3 185.6,138.5 188.2,137.7 190.6,136.8 193.0,135.9 195.2,134.9 197.4,133.9 199.5,132.8 201.6,131.7 203.5,130.6 205.3,129.5" fill="url(#benzo25)"/>
<linearGradient id="benzo26" gradientUnits="userSpaceOnUse" x1="181.0" y1="0" x2="206.2" y2="0"><stop offset="0.00" stop-color="#214370"/><stop offset="0.38" stop-color="#1f3e67"/><stop offset="0.71" stop-color="#1c385f"/><stop offset="1.00" stop-color="#1b375c"/></linearGradient>
<polygon points="206.2,118.8 204.4,119.9 202.4,121.0 200.4,122.1 198.2,123.1 196.0,124.1 193.7,125.0 191.3,125.9 188.9,126.8 186.3,127.6 183.7,128.4 181.0,129.2 180.5,138.3 183.2,137.5 185.8,136.7 188.3,135.9 190.7,135.0 193.1,134.1 195.4,133.1 197.6,132.1 199.7,131.0 201.7,130.0 203.6,128.9 205.5,127.7" fill="url(#benzo26)"/>
<linearGradient id="benzo27" gradientUnits="userSpaceOnUse" x1="181.0" y1="0" x2="206.2" y2="0"><stop offset="0.00" stop-color="#214371"/><stop offset="0.38" stop-color="#1f3e68"/><stop offset="0.71" stop-color="#1c395f"/><stop offset="1.00" stop-color="#1b375c"/></linearGradient>
<polygon points="206.2,118.8 204.4,119.9 202.4,121.0 200.4,122.1 198.2,123.1 196.0,124.1 193.7,125.0 191.3,125.9 188.9,126.8 186.3,127.6 183.7,128.4 181.0,129.2 180.6,136.5 183.3,135.7 185.9,134.9 188.4,134.1 190.8,133.2 193.2,132.3 195.5,131.3 197.7,130.3 199.8,129.3 201.9,128.2 203.8,127.1 205.6,126.0" fill="url(#benzo27)"/>
<linearGradient id="benzo28" gradientUnits="userSpaceOnUse" x1="181.0" y1="0" x2="206.2" y2="0"><stop offset="0.00" stop-color="#224472"/><stop offset="0.38" stop-color="#1f3f69"/><stop offset="0.71" stop-color="#1d3a60"/><stop offset="1.00" stop-color="#1c385d"/></linearGradient>
<polygon points="206.2,118.8 204.4,119.9 202.4,121.0 200.4,122.1 198.2,123.1 196.0,124.1 193.7,125.0 191.3,125.9 188.9,126.8 186.3,127.6 183.7,128.4 181.0,129.2 180.7,134.7 183.4,133.9 186.0,133.1 188.5,132.3 191.0,131.4 193.3,130.5 195.6,129.5 197.8,128.5 200.0,127.5 202.0,126.4 203.9,125.3 205.8,124.2" fill="url(#benzo28)"/>
<linearGradient id="benzo29" gradientUnits="userSpaceOnUse" x1="181.0" y1="0" x2="206.2" y2="0"><stop offset="0.00" stop-color="#224573"/><stop offset="0.38" stop-color="#1f3f6a"/><stop offset="0.71" stop-color="#1d3a61"/><stop offset="1.00" stop-color="#1c385e"/></linearGradient>
<polygon points="206.2,118.8 204.4,119.9 202.4,121.0 200.4,122.1 198.2,123.1 196.0,124.1 193.7,125.0 191.3,125.9 188.9,126.8 186.3,127.6 183.7,128.4 181.0,129.2 180.8,132.8 183.5,132.1 186.1,131.3 188.6,130.5 191.1,129.6 193.5,128.7 195.8,127.7 198.0,126.7 200.1,125.7 202.1,124.6 204.1,123.5 205.9,122.4" fill="url(#benzo29)"/>
<linearGradient id="benzo30" gradientUnits="userSpaceOnUse" x1="181.0" y1="0" x2="206.2" y2="0"><stop offset="0.00" stop-color="#224574"/><stop offset="0.38" stop-color="#20406b"/><stop offset="0.71" stop-color="#1d3b62"/><stop offset="1.00" stop-color="#1c395f"/></linearGradient>
<polygon points="206.2,118.8 204.4,119.9 202.4,121.0 200.4,122.1 198.2,123.1 196.0,124.1 193.7,125.0 191.3,125.9 188.9,126.8 186.3,127.6 183.7,128.4 181.0,129.2 180.9,131.0 183.6,130.3 186.2,129.5 188.8,128.6 191.2,127.8 193.6,126.9 195.9,125.9 198.1,124.9 200.2,123.9 202.3,122.8 204.2,121.7 206.1,120.6" fill="url(#benzo30)"/>
<polygon points="138.1,88.4 206.2,118.8 204.4,119.9 202.4,121.0 200.4,122.1 198.2,123.1 196.0,124.1 193.7,125.0 191.3,125.9 188.9,126.8 186.3,127.6 183.7,128.4 181.0,129.2" fill="#3d7bce" stroke="#3d7bce" stroke-width="0.35"/>
<polygon points="133.8,89.5 168.1,132.6 167.3,150.8 133.6,106.0" fill="#4e1919" stroke="#4e1919" stroke-width="0.35"/>
<linearGradient id="benzo31" gradientUnits="userSpaceOnUse" x1="168.1" y1="0" x2="176.3" y2="0"><stop offset="0.00" stop-color="#6b2222"/><stop offset="1.00" stop-color="#652020"/></linearGradient>
<polygon points="176.3,130.7 173.6,131.3 170.9,132.0 168.1,132.6 167.3,150.8 170.1,150.1 172.7,149.5 175.3,148.8" fill="url(#benzo31)"/>
<linearGradient id="benzo32" gradientUnits="userSpaceOnUse" x1="168.1" y1="0" x2="176.3" y2="0"><stop offset="0.00" stop-color="#6c2223"/><stop offset="1.00" stop-color="#662021"/></linearGradient>
<polygon points="176.3,130.7 173.6,131.3 170.9,132.0 168.1,132.6 167.4,149.0 170.1,148.4 172.8,147.7 175.4,147.0" fill="url(#benzo32)"/>
<linearGradient id="benzo33" gradientUnits="userSpaceOnUse" x1="168.1" y1="0" x2="176.3" y2="0"><stop offset="0.00" stop-color="#6d2323"/><stop offset="1.00" stop-color="#672121"/></linearGradient>
<polygon points="176.3,130.7 173.6,131.3 170.9,132.0 168.1,132.6 167.5,147.2 170.2,146.6 172.9,145.9 175.5,145.2" fill="url(#benzo33)"/>
<linearGradient id="benzo34" gradientUnits="userSpaceOnUse" x1="168.1" y1="0" x2="176.3" y2="0"><stop offset="0.00" stop-color="#6e2323"/><stop offset="1.00" stop-color="#682121"/></linearGradient>
<polygon points="176.3,130.7 173.6,131.3 170.9,132.0 168.1,132.6 167.6,145.4 170.3,144.8 173.0,144.1 175.6,143.4" fill="url(#benzo34)"/>
<linearGradient id="benzo35" gradientUnits="userSpaceOnUse" x1="168.1" y1="0" x2="176.3" y2="0"><stop offset="0.00" stop-color="#6f2324"/><stop offset="1.00" stop-color="#692122"/></linearGradient>
<polygon points="176.3,130.7 173.6,131.3 170.9,132.0 168.1,132.6 167.6,143.6 170.4,143.0 173.1,142.3 175.7,141.6" fill="url(#benzo35)"/>
<linearGradient id="benzo36" gradientUnits="userSpaceOnUse" x1="168.1" y1="0" x2="176.3" y2="0"><stop offset="0.00" stop-color="#712424"/><stop offset="1.00" stop-color="#6a2222"/></linearGradient>
<polygon points="176.3,130.7 173.6,131.3 170.9,132.0 168.1,132.6 167.7,141.8 170.5,141.2 173.2,140.5 175.8,139.8" fill="url(#benzo36)"/>
<linearGradient id="benzo37" gradientUnits="userSpaceOnUse" x1="168.1" y1="0" x2="176.3" y2="0"><stop offset="0.00" stop-color="#722425"/><stop offset="1.00" stop-color="#6b2222"/></linearGradient>
<polygon points="176.3,130.7 173.6,131.3 170.9,132.0 168.1,132.6 167.8,139.9 170.6,139.3 173.3,138.7 175.9,138.0" fill="url(#benzo37)"/>
<linearGradient id="benzo38" gradientUnits="userSpaceOnUse" x1="168.1" y1="0" x2="176.3" y2="0"><stop offset="0.00" stop-color="#732425"/><stop offset="1.00" stop-color="#6c2223"/></linearGradient>
<polygon points="176.3,130.7 173.6,131.3 170.9,132.0 168.1,132.6 167.9,138.1 170.7,137.5 173.4,136.9 176.0,136.2" fill="url(#benzo38)"/>
<linearGradient id="benzo39" gradientUnits="userSpaceOnUse" x1="168.1" y1="0" x2="176.3" y2="0"><stop offset="0.00" stop-color="#742525"/><stop offset="1.00" stop-color="#6d2323"/></linearGradient>
<polygon points="176.3,130.7 173.6,131.3 170.9,132.0 168.1,132.6 168.0,136.3 170.7,135.7 173.5,135.0 176.1,134.3" fill="url(#benzo39)"/>
<linearGradient id="benzo40" gradientUnits="userSpaceOnUse" x1="168.1" y1="0" x2="176.3" y2="0"><stop offset="0.00" stop-color="#752526"/><stop offset="1.00" stop-color="#6e2323"/></linearGradient>
<polygon points="176.3,130.7 173.6,131.3 170.9,132.0 168.1,132.6 168.1,134.4 170.8,133.8 173.5,133.2 176.2,132.5" fill="url(#benzo40)"/>
<polygon points="133.8,89.5 176.3,130.7 173.6,131.3 170.9,132.0 168.1,132.6" fill="#c43e3f" stroke="#c43e3f" stroke-width="0.35"/>
<polygon points="132.7,89.7 165.8,133.1 165.0,151.3 132.6,106.2" fill="#384a1e" stroke="#384a1e" stroke-width="0.35"/>
<linearGradient id="benzo41" gradientUnits="userSpaceOnUse" x1="165.8" y1="0" x2="166.9" y2="0"><stop offset="0.00" stop-color="#4d6529"/><stop offset="1.00" stop-color="#4d6428"/></linearGradient>
<polygon points="166.9,132.8 166.3,132.9 165.8,133.1 165.0,151.3 165.6,151.1 166.1,151.0" fill="url(#benzo41)"/>
<linearGradient id="benzo42" gradientUnits="userSpaceOnUse" x1="165.8" y1="0" x2="166.9" y2="0"><stop offset="0.00" stop-color="#4e6629"/><stop offset="1.00" stop-color="#4e6529"/></linearGradient>
<polygon points="166.9,132.8 166.3,132.9 165.8,133.1 165.1,149.5 165.6,149.4 166.2,149.2" fill="url(#benzo42)"/>
<linearGradient id="benzo43" gradientUnits="userSpaceOnUse" x1="165.8" y1="0" x2="166.9" y2="0"><stop offset="0.00" stop-color="#4f672a"/><stop offset="1.00" stop-color="#4f6629"/></linearGradient>
<polygon points="166.9,132.8 166.3,132.9 165.8,133.1 165.2,147.7 165.7,147.6 166.3,147.4" fill="url(#benzo43)"/>
<linearGradient id="benzo44" gradientUnits="userSpaceOnUse" x1="165.8" y1="0" x2="166.9" y2="0"><stop offset="0.00" stop-color="#50682a"/><stop offset="1.00" stop-color="#4f682a"/></linearGradient>
<polygon points="166.9,132.8 166.3,132.9 165.8,133.1 165.2,145.9 165.8,145.8 166.3,145.6" fill="url(#benzo44)"/>
<linearGradient id="benzo45" gradientUnits="userSpaceOnUse" x1="165.8" y1="0" x2="166.9" y2="0"><stop offset="0.00" stop-color="#51692a"/><stop offset="1.00" stop-color="#50692a"/></linearGradient>
<polygon points="166.9,132.8 166.3,132.9 165.8,133.1 165.3,144.1 165.9,144.0 166.4,143.8" fill="url(#benzo45)"/>
<linearGradient id="benzo46" gradientUnits="userSpaceOnUse" x1="165.8" y1="0" x2="166.9" y2="0"><stop offset="0.00" stop-color="#526a2b"/><stop offset="1.00" stop-color="#516a2a"/></linearGradient>
<polygon points="166.9,132.8 166.3,132.9 165.8,133.1 165.4,142.2 165.9,142.1 166.5,142.0" fill="url(#benzo46)"/>
<linearGradient id="benzo47" gradientUnits="userSpaceOnUse" x1="165.8" y1="0" x2="166.9" y2="0"><stop offset="0.00" stop-color="#526b2b"/><stop offset="1.00" stop-color="#526b2b"/></linearGradient>
<polygon points="166.9,132.8 166.3,132.9 165.8,133.1 165.5,140.4 166.0,140.3 166.6,140.2" fill="url(#benzo47)"/>
<linearGradient id="benzo48" gradientUnits="userSpaceOnUse" x1="165.8" y1="0" x2="166.9" y2="0"><stop offset="0.00" stop-color="#536d2c"/><stop offset="1.00" stop-color="#536c2b"/></linearGradient>
<polygon points="166.9,132.8 166.3,132.9 165.8,133.1 165.5,138.6 166.1,138.5 166.7,138.4" fill="url(#benzo48)"/>
<linearGradient id="benzo49" gradientUnits="userSpaceOnUse" x1="165.8" y1="0" x2="166.9" y2="0"><stop offset="0.00" stop-color="#546e2c"/><stop offset="1.00" stop-color="#536d2c"/></linearGradient>
<polygon points="166.9,132.8 166.3,132.9 165.8,133.1 165.6,136.8 166.2,136.6 166.7,136.5" fill="url(#benzo49)"/>
<linearGradient id="benzo50" gradientUnits="userSpaceOnUse" x1="165.8" y1="0" x2="166.9" y2="0"><stop offset="0.00" stop-color="#556f2d"/><stop offset="1.00" stop-color="#546e2c"/></linearGradient>
<polygon points="166.9,132.8 166.3,132.9 165.8,133.1 165.7,134.9 166.3,134.8 166.8,134.7" fill="url(#benzo50)"/>
<polygon points="132.7,89.7 166.9,132.8 166.3,132.9 165.8,133.1" fill="#8db84a" stroke="#8db84a" stroke-width="0.35"/>
<polygon points="130.2,90.1 142.2,136.1 141.9,154.4 130.1,106.5" fill="#322645" stroke="#322645" stroke-width="0.35"/>
<linearGradient id="benzo51" gradientUnits="userSpaceOnUse" x1="142.2" y1="0" x2="163.0" y2="0"><stop offset="0.00" stop-color="#503d6e"/><stop offset="0.51" stop-color="#4a3965"/><stop offset="1.00" stop-color="#45355f"/></linearGradient>
<polygon points="163.0,133.5 160.1,134.0 157.2,134.5 154.3,134.9 151.3,135.3 148.3,135.6 145.2,135.9 142.2,136.1 141.9,154.4 144.9,154.2 147.8,153.9 150.8,153.6 153.7,153.2 156.6,152.8 159.4,152.3 162.3,151.7" fill="url(#benzo51)"/>
<linearGradient id="benzo52" gradientUnits="userSpaceOnUse" x1="142.2" y1="0" x2="163.0" y2="0"><stop offset="0.00" stop-color="#513e6f"/><stop offset="0.51" stop-color="#4b3967"/><stop offset="1.00" stop-color="#463560"/></linearGradient>
<polygon points="163.0,133.5 160.1,134.0 157.2,134.5 154.3,134.9 151.3,135.3 148.3,135.6 145.2,135.9 142.2,136.1 141.9,152.6 144.9,152.4 147.9,152.1 150.8,151.8 153.8,151.4 156.7,151.0 159.5,150.5 162.3,149.9" fill="url(#benzo52)"/>
<linearGradient id="benzo53" gradientUnits="userSpaceOnUse" x1="142.2" y1="0" x2="163.0" y2="0"><stop offset="0.00" stop-color="#523f70"/><stop offset="0.51" stop-color="#4c3a68"/><stop offset="1.00" stop-color="#473661"/></linearGradient>
<polygon points="163.0,133.5 160.1,134.0 157.2,134.5 154.3,134.9 151.3,135.3 148.3,135.6 145.2,135.9 142.2,136.1 141.9,150.8 144.9,150.6 147.9,150.3 150.9,150.0 153.8,149.6 156.7,149.2 159.6,148.7 162.4,148.1" fill="url(#benzo53)"/>
<linearGradient id="benzo54" gradientUnits="userSpaceOnUse" x1="142.2" y1="0" x2="163.0" y2="0"><stop offset="0.00" stop-color="#533f71"/><stop offset="0.51" stop-color="#4d3a69"/><stop offset="1.00" stop-color="#473662"/></linearGradient>
<polygon points="163.0,133.5 160.1,134.0 157.2,134.5 154.3,134.9 151.3,135.3 148.3,135.6 145.2,135.9 142.2,136.1 142.0,149.0 145.0,148.8 148.0,148.5 150.9,148.2 153.9,147.8 156.8,147.4 159.6,146.9 162.5,146.3" fill="url(#benzo54)"/>
<linearGradient id="benzo55" gradientUnits="userSpaceOnUse" x1="142.2" y1="0" x2="163.0" y2="0"><stop offset="0.00" stop-color="#544072"/><stop offset="0.51" stop-color="#4d3b6a"/><stop offset="1.00" stop-color="#483762"/></linearGradient>
<polygon points="163.0,133.5 160.1,134.0 157.2,134.5 154.3,134.9 151.3,135.3 148.3,135.6 145.2,135.9 142.2,136.1 142.0,147.2 145.0,147.0 148.0,146.7 151.0,146.4 153.9,146.0 156.8,145.5 159.7,145.1 162.5,144.5" fill="url(#benzo55)"/>
<linearGradient id="benzo56" gradientUnits="userSpaceOnUse" x1="142.2" y1="0" x2="163.0" y2="0"><stop offset="0.00" stop-color="#554073"/><stop offset="0.51" stop-color="#4e3c6b"/><stop offset="1.00" stop-color="#493863"/></linearGradient>
<polygon points="163.0,133.5 160.1,134.0 157.2,134.5 154.3,134.9 151.3,135.3 148.3,135.6 145.2,135.9 142.2,136.1 142.0,145.4 145.0,145.1 148.1,144.9 151.0,144.5 154.0,144.2 156.9,143.7 159.8,143.2 162.6,142.7" fill="url(#benzo56)"/>
<linearGradient id="benzo57" gradientUnits="userSpaceOnUse" x1="142.2" y1="0" x2="163.0" y2="0"><stop offset="0.00" stop-color="#554175"/><stop offset="0.51" stop-color="#4f3c6c"/><stop offset="1.00" stop-color="#4a3864"/></linearGradient>
<polygon points="163.0,133.5 160.1,134.0 157.2,134.5 154.3,134.9 151.3,135.3 148.3,135.6 145.2,135.9 142.2,136.1 142.1,143.5 145.1,143.3 148.1,143.0 151.1,142.7 154.0,142.3 157.0,141.9 159.8,141.4 162.7,140.9" fill="url(#benzo57)"/>
<linearGradient id="benzo58" gradientUnits="userSpaceOnUse" x1="142.2" y1="0" x2="163.0" y2="0"><stop offset="0.00" stop-color="#564276"/><stop offset="0.51" stop-color="#503d6d"/><stop offset="1.00" stop-color="#4a3965"/></linearGradient>
<polygon points="163.0,133.5 160.1,134.0 157.2,134.5 154.3,134.9 151.3,135.3 148.3,135.6 145.2,135.9 142.2,136.1 142.1,141.7 145.1,141.5 148.1,141.2 151.1,140.9 154.1,140.5 157.0,140.1 159.9,139.6 162.8,139.0" fill="url(#benzo58)"/>
<linearGradient id="benzo59" gradientUnits="userSpaceOnUse" x1="142.2" y1="0" x2="163.0" y2="0"><stop offset="0.00" stop-color="#574277"/><stop offset="0.51" stop-color="#513d6e"/><stop offset="1.00" stop-color="#4b3966"/></linearGradient>
<polygon points="163.0,133.5 160.1,134.0 157.2,134.5 154.3,134.9 151.3,135.3 148.3,135.6 145.2,135.9 142.2,136.1 142.1,139.8 145.2,139.6 148.2,139.3 151.2,139.0 154.2,138.6 157.1,138.2 160.0,137.7 162.8,137.2" fill="url(#benzo59)"/>
<linearGradient id="benzo60" gradientUnits="userSpaceOnUse" x1="142.2" y1="0" x2="163.0" y2="0"><stop offset="0.00" stop-color="#584378"/><stop offset="0.51" stop-color="#513e6f"/><stop offset="1.00" stop-color="#4c3a67"/></linearGradient>
<polygon points="163.0,133.5 160.1,134.0 157.2,134.5 154.3,134.9 151.3,135.3 148.3,135.6 145.2,135.9 142.2,136.1 142.2,138.0 145.2,137.8 148.2,137.5 151.2,137.2 154.2,136.8 157.1,136.4 160.0,135.9 162.9,135.4" fill="url(#benzo60)"/>
<polygon points="130.2,90.1 163.0,133.5 160.1,134.0 157.2,134.5 154.3,134.9 151.3,135.3 148.3,135.6 145.2,135.9 142.2,136.1" fill="#7e60ac" stroke="#7e60ac" stroke-width="0.35"/>
<polygon points="127.7,90.2 138.0,136.5 137.8,154.8 127.7,106.7" fill="#17414d" stroke="#17414d" stroke-width="0.35"/>
<linearGradient id="benzo61" gradientUnits="userSpaceOnUse" x1="138.0" y1="0" x2="139.2" y2="0"><stop offset="0.00" stop-color="#25687c"/><stop offset="1.00" stop-color="#25677b"/></linearGradient>
<polygon points="139.2,136.4 138.6,136.4 138.0,136.5 137.8,154.8 138.4,154.8 139.0,154.7" fill="url(#benzo61)"/>
<linearGradient id="benzo62" gradientUnits="userSpaceOnUse" x1="138.0" y1="0" x2="139.2" y2="0"><stop offset="0.00" stop-color="#26697d"/><stop offset="1.00" stop-color="#25687c"/></linearGradient>
<polygon points="139.2,136.4 138.6,136.4 138.0,136.5 137.8,153.0 138.4,153.0 139.0,152.9" fill="url(#benzo62)"/>
<linearGradient id="benzo63" gradientUnits="userSpaceOnUse" x1="138.0" y1="0" x2="139.2" y2="0"><stop offset="0.00" stop-color="#266a7e"/><stop offset="1.00" stop-color="#266a7d"/></linearGradient>
<polygon points="139.2,136.4 138.6,136.4 138.0,136.5 137.8,151.2 138.4,151.1 139.0,151.1" fill="url(#benzo63)"/>
<linearGradient id="benzo64" gradientUnits="userSpaceOnUse" x1="138.0" y1="0" x2="139.2" y2="0"><stop offset="0.00" stop-color="#276c7f"/><stop offset="1.00" stop-color="#266b7e"/></linearGradient>
<polygon points="139.2,136.4 138.6,136.4 138.0,136.5 137.8,149.4 138.4,149.3 139.1,149.3" fill="url(#benzo64)"/>
<linearGradient id="benzo65" gradientUnits="userSpaceOnUse" x1="138.0" y1="0" x2="139.2" y2="0"><stop offset="0.00" stop-color="#276d81"/><stop offset="1.00" stop-color="#276c80"/></linearGradient>
<polygon points="139.2,136.4 138.6,136.4 138.0,136.5 137.9,147.5 138.5,147.5 139.1,147.5" fill="url(#benzo65)"/>
<linearGradient id="benzo66" gradientUnits="userSpaceOnUse" x1="138.0" y1="0" x2="139.2" y2="0"><stop offset="0.00" stop-color="#276e82"/><stop offset="1.00" stop-color="#276d81"/></linearGradient>
<polygon points="139.2,136.4 138.6,136.4 138.0,136.5 137.9,145.7 138.5,145.7 139.1,145.6" fill="url(#benzo66)"/>
<linearGradient id="benzo67" gradientUnits="userSpaceOnUse" x1="138.0" y1="0" x2="139.2" y2="0"><stop offset="0.00" stop-color="#286f83"/><stop offset="1.00" stop-color="#276e82"/></linearGradient>
<polygon points="139.2,136.4 138.6,136.4 138.0,136.5 137.9,143.9 138.5,143.8 139.1,143.8" fill="url(#benzo67)"/>
<linearGradient id="benzo68" gradientUnits="userSpaceOnUse" x1="138.0" y1="0" x2="139.2" y2="0"><stop offset="0.00" stop-color="#287085"/><stop offset="1.00" stop-color="#286f83"/></linearGradient>
<polygon points="139.2,136.4 138.6,136.4 138.0,136.5 137.9,142.0 138.5,142.0 139.2,142.0" fill="url(#benzo68)"/>
<linearGradient id="benzo69" gradientUnits="userSpaceOnUse" x1="138.0" y1="0" x2="139.2" y2="0"><stop offset="0.00" stop-color="#287186"/><stop offset="1.00" stop-color="#287085"/></linearGradient>
<polygon points="139.2,136.4 138.6,136.4 138.0,136.5 138.0,140.2 138.6,140.1 139.2,140.1" fill="url(#benzo69)"/>
<linearGradient id="benzo70" gradientUnits="userSpaceOnUse" x1="138.0" y1="0" x2="139.2" y2="0"><stop offset="0.00" stop-color="#297287"/><stop offset="1.00" stop-color="#287186"/></linearGradient>
<polygon points="139.2,136.4 138.6,136.4 138.0,136.5 138.0,138.3 138.6,138.3 139.2,138.3" fill="url(#benzo70)"/>
<polygon points="127.7,90.2 139.2,136.4 138.6,136.4 138.0,136.5" fill="#3aa2c0" stroke="#3aa2c0" stroke-width="0.35"/>
<polygon points="393.7,72.6 393.5,40.9 393.5,56.7 393.6,89.9" fill="#182c4a" stroke="#182c4a" stroke-width="0.35"/>
<polygon points="393.7,72.6 403.2,41.2 403.0,57.0 393.6,89.9" fill="#24436e" stroke="#24436e" stroke-width="0.35"/>
<polygon points="393.7,72.6 393.5,40.9 395.4,40.9 397.4,40.9 399.3,41.0 401.2,41.1 403.2,41.2" fill="#3c6fb8" stroke="#3c6fb8" stroke-width="0.35"/>
<polygon points="395.5,72.7 407.3,41.4 407.0,57.3 395.4,90.0" fill="#6e2624" stroke="#6e2624" stroke-width="0.35"/>
<polygon points="395.5,72.7 404.8,41.2 406.0,41.3 407.3,41.4" fill="#b8403c" stroke="#b8403c" stroke-width="0.35"/>
<polygon points="388.2,72.8 362.2,43.3 362.7,59.2 388.3,90.1" fill="#584140" stroke="#584140" stroke-width="0.35"/>
<polygon points="388.2,72.8 388.7,41.0 388.7,56.9 388.3,90.1" fill="#836161" stroke="#836161" stroke-width="0.35"/>
<polygon points="388.2,72.8 362.2,43.3 364.3,42.9 366.5,42.6 368.6,42.3 370.8,42.0 373.0,41.8 375.2,41.6 377.5,41.4 379.7,41.3 381.9,41.1 384.2,41.1 386.4,41.0 388.7,41.0" fill="#dba2a1" stroke="#dba2a1" stroke-width="0.35"/>
<polygon points="400.1,73.4 439.3,46.9 438.5,63.0 400.0,90.7" fill="#4b6424" stroke="#4b6424" stroke-width="0.35"/>
<polygon points="400.1,73.4 411.4,41.9 413.7,42.1 415.9,42.3 418.1,42.6 420.3,42.9 422.5,43.2 424.7,43.5 426.9,43.9 429.0,44.3 431.1,44.8 433.2,45.3 435.3,45.8 437.3,46.3 439.3,46.9" fill="#7da63c" stroke="#7da63c" stroke-width="0.35"/>
<polygon points="383.0,73.7 348.4,45.9 349.2,62.0 383.1,91.0" fill="#3e4a5a" stroke="#3e4a5a" stroke-width="0.35"/>
<polygon points="383.0,73.7 348.4,45.9 350.2,45.5 352.0,45.1 353.8,44.7 355.6,44.3 357.4,44.0" fill="#98b5da" stroke="#98b5da" stroke-width="0.35"/>
<polygon points="378.9,75.0 325.7,53.5 326.9,70.0 379.2,92.3" fill="#6d421b" stroke="#6d421b" stroke-width="0.35"/>
<polygon points="378.9,75.0 325.7,53.5 327.5,52.7 329.2,52.0 331.0,51.2 332.9,50.5 334.7,49.9 336.7,49.2 338.6,48.6 340.6,48.0 342.6,47.5 344.6,46.9" fill="#f7963c" stroke="#f7963c" stroke-width="0.35"/>
<polygon points="407.4,75.9 469.3,59.1 467.9,75.8 407.2,93.3" fill="#3e2c57" stroke="#3e2c57" stroke-width="0.35"/>
<polygon points="407.4,75.9 446.2,48.9 448.2,49.5 450.2,50.1 452.2,50.8 454.1,51.5 455.9,52.2 457.8,53.0 459.6,53.8 461.3,54.6 463.0,55.4 464.6,56.3 466.2,57.2 467.8,58.1 469.3,59.1" fill="#6f4e9c" stroke="#6f4e9c" stroke-width="0.35"/>
<polygon points="376.0,76.4 319.0,56.7 320.3,73.2 376.3,93.9" fill="#1a4957" stroke="#1a4957" stroke-width="0.35"/>
<polygon points="376.0,76.4 319.0,56.7 320.2,56.0 321.5,55.4 322.8,54.8" fill="#3aa2c0" stroke="#3aa2c0" stroke-width="0.35"/>
<polygon points="411.5,79.0 484.5,71.3 482.7,88.5 411.1,96.5" fill="#194b5c" stroke="#194b5c" stroke-width="0.35"/>
<polygon points="411.5,79.0 473.7,61.8 475.2,62.8 476.5,63.8 477.9,64.8 479.1,65.8 480.3,66.8 481.4,67.9 482.5,69.0 483.5,70.1 484.5,71.3" fill="#2f8eae" stroke="#2f8eae" stroke-width="0.35"/>
<polygon points="412.4,85.6 474.6,117.6 472.8,136.6 412.0,103.5" fill="#5f391a" stroke="#5f391a" stroke-width="0.35"/>
<linearGradient id="fluor1" gradientUnits="userSpaceOnUse" x1="474.6" y1="0" x2="492.5" y2="0"><stop offset="0.00" stop-color="#5e391a"/><stop offset="0.33" stop-color="#5c3719"/><stop offset="0.60" stop-color="#5a3618"/><stop offset="0.80" stop-color="#583518"/><stop offset="0.93" stop-color="#563417"/><stop offset="1.00" stop-color="#543317"/></linearGradient>
<polygon points="492.5,95.1 492.2,96.5 491.9,97.9 491.5,99.3 490.9,100.7 490.3,102.1 489.6,103.5 488.7,104.9 487.8,106.2 486.7,107.6 485.6,108.9 484.3,110.2 482.9,111.5 481.5,112.8 479.9,114.0 478.2,115.3 476.5,116.4 474.6,117.6 472.8,136.6 474.6,135.4 476.3,134.2 478.0,132.9 479.5,131.6 480.9,130.3 482.3,129.0 483.5,127.6 484.7,126.2 485.7,124.8 486.7,123.4 487.5,122.0 488.2,120.6 488.9,119.1 489.4,117.7 489.8,116.2 490.2,114.8 490.4,113.3" fill="url(#fluor1)"/>
<linearGradient id="fluor2" gradientUnits="userSpaceOnUse" x1="474.6" y1="0" x2="492.5" y2="0"><stop offset="0.00" stop-color="#5f391a"/><stop offset="0.33" stop-color="#5d3819"/><stop offset="0.60" stop-color="#5b3719"/><stop offset="0.80" stop-color="#593618"/><stop offset="0.93" stop-color="#573418"/><stop offset="1.00" stop-color="#553317"/></linearGradient>
<polygon points="492.5,95.1 492.2,96.5 491.9,97.9 491.5,99.3 490.9,100.7 490.3,102.1 489.6,103.5 488.7,104.9 487.8,106.2 486.7,107.6 485.6,108.9 484.3,110.2 482.9,111.5 481.5,112.8 479.9,114.0 478.2,115.3 476.5,116.4 474.6,117.6 472.9,134.8 474.8,133.6 476.5,132.3 478.2,131.1 479.7,129.8 481.1,128.5 482.5,127.1 483.7,125.8 484.9,124.4 485.9,123.0 486.9,121.6 487.7,120.2 488.4,118.8 489.1,117.3 489.6,115.9 490.0,114.4 490.4,113.0 490.6,111.5" fill="url(#fluor2)"/>
<linearGradient id="fluor3" gradientUnits="userSpaceOnUse" x1="474.6" y1="0" x2="492.5" y2="0"><stop offset="0.00" stop-color="#603a1a"/><stop offset="0.33" stop-color="#5e391a"/><stop offset="0.60" stop-color="#5c3719"/><stop offset="0.80" stop-color="#5a3618"/><stop offset="0.93" stop-color="#583518"/><stop offset="1.00" stop-color="#563417"/></linearGradient>
<polygon points="492.5,95.1 492.2,96.5 491.9,97.9 491.5,99.3 490.9,100.7 490.3,102.1 489.6,103.5 488.7,104.9 487.8,106.2 486.7,107.6 485.6,108.9 484.3,110.2 482.9,111.5 481.5,112.8 479.9,114.0 478.2,115.3 476.5,116.4 474.6,117.6 473.1,132.9 475.0,131.7 476.7,130.5 478.3,129.2 479.9,127.9 481.3,126.6 482.7,125.3 483.9,123.9 485.1,122.6 486.1,121.2 487.1,119.8 487.9,118.4 488.6,116.9 489.3,115.5 489.8,114.1 490.2,112.6 490.6,111.2 490.8,109.7" fill="url(#fluor3)"/>
<linearGradient id="fluor4" gradientUnits="userSpaceOnUse" x1="474.6" y1="0" x2="492.5" y2="0"><stop offset="0.00" stop-color="#613a1a"/><stop offset="0.33" stop-color="#5f391a"/><stop offset="0.60" stop-color="#5d3819"/><stop offset="0.80" stop-color="#5a3719"/><stop offset="0.93" stop-color="#583518"/><stop offset="1.00" stop-color="#563418"/></linearGradient>
<polygon points="492.5,95.1 492.2,96.5 491.9,97.9 491.5,99.3 490.9,100.7 490.3,102.1 489.6,103.5 488.7,104.9 487.8,106.2 486.7,107.6 485.6,108.9 484.3,110.2 482.9,111.5 481.5,112.8 479.9,114.0 478.2,115.3 476.5,116.4 474.6,117.6 473.3,131.0 475.1,129.8 476.9,128.6 478.5,127.4 480.1,126.1 481.5,124.8 482.9,123.4 484.1,122.1 485.3,120.7 486.3,119.3 487.3,117.9 488.1,116.5 488.8,115.1 489.5,113.7 490.0,112.2 490.4,110.8 490.8,109.4 491.0,107.9" fill="url(#fluor4)"/>
<linearGradient id="fluor5" gradientUnits="userSpaceOnUse" x1="474.6" y1="0" x2="492.5" y2="0"><stop offset="0.00" stop-color="#623b1b"/><stop offset="0.33" stop-color="#603a1a"/><stop offset="0.60" stop-color="#5d3919"/><stop offset="0.80" stop-color="#5b3719"/><stop offset="0.93" stop-color="#593618"/><stop offset="1.00" stop-color="#573518"/></linearGradient>
<polygon points="492.5,95.1 492.2,96.5 491.9,97.9 491.5,99.3 490.9,100.7 490.3,102.1 489.6,103.5 488.7,104.9 487.8,106.2 486.7,107.6 485.6,108.9 484.3,110.2 482.9,111.5 481.5,112.8 479.9,114.0 478.2,115.3 476.5,116.4 474.6,117.6 473.5,129.1 475.3,127.9 477.1,126.7 478.7,125.5 480.3,124.2 481.7,122.9 483.1,121.6 484.3,120.2 485.5,118.9 486.5,117.5 487.5,116.1 488.3,114.7 489.1,113.3 489.7,111.9 490.2,110.4 490.7,109.0 491.0,107.5 491.2,106.1" fill="url(#fluor5)"/>
<linearGradient id="fluor6" gradientUnits="userSpaceOnUse" x1="474.6" y1="0" x2="492.5" y2="0"><stop offset="0.00" stop-color="#633c1b"/><stop offset="0.33" stop-color="#603a1a"/><stop offset="0.60" stop-color="#5e391a"/><stop offset="0.80" stop-color="#5c3819"/><stop offset="0.93" stop-color="#5a3719"/><stop offset="1.00" stop-color="#583518"/></linearGradient>
<polygon points="492.5,95.1 492.2,96.5 491.9,97.9 491.5,99.3 490.9,100.7 490.3,102.1 489.6,103.5 488.7,104.9 487.8,106.2 486.7,107.6 485.6,108.9 484.3,110.2 482.9,111.5 481.5,112.8 479.9,114.0 478.2,115.3 476.5,116.4 474.6,117.6 473.7,127.2 475.5,126.0 477.3,124.8 478.9,123.6 480.5,122.3 481.9,121.0 483.3,119.7 484.5,118.4 485.7,117.0 486.7,115.6 487.7,114.2 488.5,112.8 489.3,111.4 489.9,110.0 490.4,108.6 490.9,107.2 491.2,105.7 491.4,104.3" fill="url(#fluor6)"/>
<linearGradient id="fluor7" gradientUnits="userSpaceOnUse" x1="474.6" y1="0" x2="492.5" y2="0"><stop offset="0.00" stop-color="#643c1b"/><stop offset="0.33" stop-color="#613b1b"/><stop offset="0.60" stop-color="#5f3a1a"/><stop offset="0.80" stop-color="#5d3819"/><stop offset="0.93" stop-color="#5b3719"/><stop offset="1.00" stop-color="#593618"/></linearGradient>
<polygon points="492.5,95.1 492.2,96.5 491.9,97.9 491.5,99.3 490.9,100.7 490.3,102.1 489.6,103.5 488.7,104.9 487.8,106.2 486.7,107.6 485.6,108.9 484.3,110.2 482.9,111.5 481.5,112.8 479.9,114.0 478.2,115.3 476.5,116.4 474.6,117.6 473.8,125.3 475.7,124.1 477.5,122.9 479.1,121.7 480.7,120.4 482.1,119.1 483.5,117.8 484.7,116.5 485.9,115.1 486.9,113.8 487.9,112.4 488.7,111.0 489.5,109.6 490.1,108.2 490.6,106.8 491.1,105.3 491.4,103.9 491.6,102.5" fill="url(#fluor7)"/>
<linearGradient id="fluor8" gradientUnits="userSpaceOnUse" x1="474.6" y1="0" x2="492.5" y2="0"><stop offset="0.00" stop-color="#653d1b"/><stop offset="0.33" stop-color="#623b1b"/><stop offset="0.60" stop-color="#603a1a"/><stop offset="0.80" stop-color="#5e391a"/><stop offset="0.93" stop-color="#5c3819"/><stop offset="1.00" stop-color="#5a3619"/></linearGradient>
<polygon points="492.5,95.1 492.2,96.5 491.9,97.9 491.5,99.3 490.9,100.7 490.3,102.1 489.6,103.5 488.7,104.9 487.8,106.2 486.7,107.6 485.6,108.9 484.3,110.2 482.9,111.5 481.5,112.8 479.9,114.0 478.2,115.3 476.5,116.4 474.6,117.6 474.0,123.4 475.9,122.2 477.6,121.0 479.3,119.8 480.9,118.5 482.3,117.2 483.7,115.9 484.9,114.6 486.1,113.3 487.1,111.9 488.1,110.5 488.9,109.1 489.7,107.7 490.3,106.3 490.8,104.9 491.3,103.5 491.6,102.1 491.8,100.6" fill="url(#fluor8)"/>
<linearGradient id="fluor9" gradientUnits="userSpaceOnUse" x1="474.6" y1="0" x2="492.5" y2="0"><stop offset="0.00" stop-color="#653d1c"/><stop offset="0.33" stop-color="#633c1b"/><stop offset="0.60" stop-color="#613b1b"/><stop offset="0.80" stop-color="#5f391a"/><stop offset="0.93" stop-color="#5d3819"/><stop offset="1.00" stop-color="#5b3719"/></linearGradient>
<polygon points="492.5,95.1 492.2,96.5 491.9,97.9 491.5,99.3 490.9,100.7 490.3,102.1 489.6,103.5 488.7,104.9 487.8,106.2 486.7,107.6 485.6,108.9 484.3,110.2 482.9,111.5 481.5,112.8 479.9,114.0 478.2,115.3 476.5,116.4 474.6,117.6 474.2,121.5 476.1,120.3 477.8,119.1 479.5,117.9 481.1,116.6 482.5,115.3 483.9,114.0 485.1,112.7 486.3,111.4 487.4,110.0 488.3,108.6 489.1,107.3 489.9,105.9 490.5,104.5 491.1,103.0 491.5,101.6 491.8,100.2 492.1,98.8" fill="url(#fluor9)"/>
<linearGradient id="fluor10" gradientUnits="userSpaceOnUse" x1="474.6" y1="0" x2="492.5" y2="0"><stop offset="0.00" stop-color="#663e1c"/><stop offset="0.33" stop-color="#643d1b"/><stop offset="0.60" stop-color="#623b1b"/><stop offset="0.80" stop-color="#603a1a"/><stop offset="0.93" stop-color="#5e391a"/><stop offset="1.00" stop-color="#5c3719"/></linearGradient>
<polygon points="492.5,95.1 492.2,96.5 491.9,97.9 491.5,99.3 490.9,100.7 490.3,102.1 489.6,103.5 488.7,104.9 487.8,106.2 486.7,107.6 485.6,108.9 484.3,110.2 482.9,111.5 481.5,112.8 479.9,114.0 478.2,115.3 476.5,116.4 474.6,117.6 474.4,119.5 476.3,118.4 478.0,117.2 479.7,116.0 481.3,114.7 482.7,113.4 484.1,112.1 485.3,110.8 486.5,109.5 487.6,108.1 488.5,106.8 489.4,105.4 490.1,104.0 490.7,102.6 491.3,101.2 491.7,99.8 492.0,98.4 492.3,97.0" fill="url(#fluor10)"/>
<polygon points="412.4,85.6 487.0,77.6 487.9,78.8 488.8,80.1 489.5,81.4 490.2,82.7 490.9,84.1 491.4,85.4 491.8,86.8 492.2,88.1 492.4,89.5 492.6,90.9 492.6,92.3 492.6,93.7 492.5,95.1 492.2,96.5 491.9,97.9 491.5,99.3 490.9,100.7 490.3,102.1 489.6,103.5 488.7,104.9 487.8,106.2 486.7,107.6 485.6,108.9 484.3,110.2 482.9,111.5 481.5,112.8 479.9,114.0 478.2,115.3 476.5,116.4 474.6,117.6" fill="#dc853c" stroke="#dc853c" stroke-width="0.35"/>
<polygon points="372.8,86.7 357.9,132.3 358.7,151.8 373.2,104.6" fill="#6f5890" stroke="#6f5890" stroke-width="0.35"/>
<linearGradient id="fluor11" gradientUnits="userSpaceOnUse" x1="292.4" y1="0" x2="357.9" y2="0"><stop offset="0.00" stop-color="#6d558c"/><stop offset="0.02" stop-color="#6c558b"/><stop offset="0.07" stop-color="#6b5489"/><stop offset="0.14" stop-color="#6a5388"/><stop offset="0.23" stop-color="#695287"/><stop offset="0.35" stop-color="#685186"/><stop offset="0.49" stop-color="#675184"/><stop offset="0.64" stop-color="#644e81"/><stop offset="0.82" stop-color="#604c7c"/><stop offset="1.00" stop-color="#5d4978"/></linearGradient>
<polygon points="357.9,132.3 354.8,132.0 351.7,131.7 348.6,131.3 345.6,130.8 342.6,130.3 339.7,129.7 336.8,129.1 334.0,128.4 331.3,127.6 328.6,126.8 326.0,126.0 323.5,125.1 321.0,124.1 318.7,123.2 316.4,122.1 314.2,121.0 312.1,119.9 310.2,118.8 308.3,117.6 306.5,116.4 304.8,115.1 303.2,113.8 301.7,112.5 300.4,111.2 299.1,109.9 297.9,108.5 296.9,107.1 296.0,105.7 295.1,104.3 294.4,102.9 293.8,101.5 293.3,100.0 292.9,98.6 292.6,97.2 292.4,95.7 294.4,113.9 294.6,115.4 294.9,116.9 295.3,118.4 295.9,119.9 296.5,121.4 297.2,122.9 298.0,124.3 298.9,125.8 300.0,127.2 301.1,128.6 302.4,130.0 303.7,131.4 305.2,132.7 306.7,134.1 308.4,135.4 310.1,136.6 312.0,137.9 313.9,139.0 316.0,140.2 318.1,141.3 320.3,142.4 322.6,143.4 325.0,144.4 327.5,145.3 330.0,146.2 332.7,147.0 335.3,147.8 338.1,148.5 340.9,149.2 343.8,149.8 346.7,150.3 349.6,150.8 352.6,151.2 355.7,151.5 358.7,151.8" fill="url(#fluor11)"/>
<linearGradient id="fluor12" gradientUnits="userSpaceOnUse" x1="292.4" y1="0" x2="357.9" y2="0"><stop offset="0.00" stop-color="#6e568d"/><stop offset="0.02" stop-color="#6d558c"/><stop offset="0.07" stop-color="#6c558b"/><stop offset="0.14" stop-color="#6b548a"/><stop offset="0.23" stop-color="#6a5388"/><stop offset="0.35" stop-color="#695287"/><stop offset="0.49" stop-color="#685286"/><stop offset="0.64" stop-color="#654f82"/><stop offset="0.82" stop-color="#614d7e"/><stop offset="1.00" stop-color="#5e4a79"/></linearGradient>
<polygon points="357.9,132.3 354.8,132.0 351.7,131.7 348.6,131.3 345.6,130.8 342.6,130.3 339.7,129.7 336.8,129.1 334.0,128.4 331.3,127.6 328.6,126.8 326.0,126.0 323.5,125.1 321.0,124.1 318.7,123.2 316.4,122.1 314.2,121.0 312.1,119.9 310.2,118.8 308.3,117.6 306.5,116.4 304.8,115.1 303.2,113.8 301.7,112.5 300.4,111.2 299.1,109.9 297.9,108.5 296.9,107.1 296.0,105.7 295.1,104.3 294.4,102.9 293.8,101.5 293.3,100.0 292.9,98.6 292.6,97.2 292.4,95.7 294.2,112.2 294.4,113.6 294.7,115.1 295.1,116.6 295.7,118.1 296.3,119.6 297.0,121.0 297.8,122.5 298.7,123.9 299.8,125.4 300.9,126.8 302.2,128.2 303.5,129.5 305.0,130.9 306.5,132.2 308.2,133.5 309.9,134.8 311.8,136.0 313.8,137.2 315.8,138.3 317.9,139.4 320.2,140.5 322.5,141.5 324.9,142.5 327.3,143.4 329.9,144.3 332.5,145.1 335.2,145.9 338.0,146.6 340.8,147.3 343.7,147.9 346.6,148.4 349.5,148.9 352.6,149.3 355.6,149.6 358.7,149.9" fill="url(#fluor12)"/>
<linearGradient id="fluor13" gradientUnits="userSpaceOnUse" x1="292.4" y1="0" x2="357.9" y2="0"><stop offset="0.00" stop-color="#6f578f"/><stop offset="0.02" stop-color="#6e568e"/><stop offset="0.07" stop-color="#6d568c"/><stop offset="0.14" stop-color="#6c558b"/><stop offset="0.23" stop-color="#6b548a"/><stop offset="0.35" stop-color="#6a5389"/><stop offset="0.49" stop-color="#695287"/><stop offset="0.64" stop-color="#665083"/><stop offset="0.82" stop-color="#624d7f"/><stop offset="1.00" stop-color="#5f4b7b"/></linearGradient>
<polygon points="357.9,132.3 354.8,132.0 351.7,131.7 348.6,131.3 345.6,130.8 342.6,130.3 339.7,129.7 336.8,129.1 334.0,128.4 331.3,127.6 328.6,126.8 326.0,126.0 323.5,125.1 321.0,124.1 318.7,123.2 316.4,122.1 314.2,121.0 312.1,119.9 310.2,118.8 308.3,117.6 306.5,116.4 304.8,115.1 303.2,113.8 301.7,112.5 300.4,111.2 299.1,109.9 297.9,108.5 296.9,107.1 296.0,105.7 295.1,104.3 294.4,102.9 293.8,101.5 293.3,100.0 292.9,98.6 292.6,97.2 292.4,95.7 294.0,110.4 294.2,111.8 294.5,113.3 294.9,114.8 295.5,116.3 296.1,117.7 296.8,119.2 297.6,120.7 298.5,122.1 299.6,123.5 300.7,124.9 302.0,126.3 303.3,127.7 304.8,129.0 306.3,130.3 308.0,131.6 309.8,132.9 311.6,134.1 313.6,135.3 315.6,136.4 317.8,137.5 320.0,138.6 322.3,139.6 324.7,140.6 327.2,141.5 329.8,142.4 332.4,143.2 335.1,144.0 337.8,144.7 340.7,145.3 343.5,145.9 346.5,146.5 349.4,146.9 352.5,147.3 355.5,147.7 358.6,148.0" fill="url(#fluor13)"/>
<linearGradient id="fluor14" gradientUnits="userSpaceOnUse" x1="292.4" y1="0" x2="357.9" y2="0"><stop offset="0.00" stop-color="#705890"/><stop offset="0.02" stop-color="#6f578f"/><stop offset="0.07" stop-color="#6e568e"/><stop offset="0.14" stop-color="#6d568c"/><stop offset="0.23" stop-color="#6c558b"/><stop offset="0.35" stop-color="#6b548a"/><stop offset="0.49" stop-color="#6a5389"/><stop offset="0.64" stop-color="#675185"/><stop offset="0.82" stop-color="#634e80"/><stop offset="1.00" stop-color="#604c7c"/></linearGradient>
<polygon points="357.9,132.3 354.8,132.0 351.7,131.7 348.6,131.3 345.6,130.8 342.6,130.3 339.7,129.7 336.8,129.1 334.0,128.4 331.3,127.6 328.6,126.8 326.0,126.0 323.5,125.1 321.0,124.1 318.7,123.2 316.4,122.1 314.2,121.0 312.1,119.9 310.2,118.8 308.3,117.6 306.5,116.4 304.8,115.1 303.2,113.8 301.7,112.5 300.4,111.2 299.1,109.9 297.9,108.5 296.9,107.1 296.0,105.7 295.1,104.3 294.4,102.9 293.8,101.5 293.3,100.0 292.9,98.6 292.6,97.2 292.4,95.7 293.8,108.6 294.0,110.0 294.3,111.5 294.7,113.0 295.2,114.5 295.9,115.9 296.6,117.4 297.4,118.8 298.3,120.3 299.4,121.7 300.5,123.1 301.8,124.5 303.1,125.8 304.6,127.2 306.2,128.5 307.8,129.7 309.6,131.0 311.4,132.2 313.4,133.4 315.5,134.5 317.6,135.6 319.8,136.7 322.2,137.7 324.6,138.7 327.0,139.6 329.6,140.5 332.2,141.3 334.9,142.1 337.7,142.8 340.5,143.4 343.4,144.0 346.4,144.5 349.3,145.0 352.4,145.4 355.4,145.8 358.5,146.0" fill="url(#fluor14)"/>
<linearGradient id="fluor15" gradientUnits="userSpaceOnUse" x1="292.4" y1="0" x2="357.9" y2="0"><stop offset="0.00" stop-color="#715992"/><stop offset="0.02" stop-color="#705891"/><stop offset="0.07" stop-color="#6f578f"/><stop offset="0.14" stop-color="#6e568e"/><stop offset="0.23" stop-color="#6d568d"/><stop offset="0.35" stop-color="#6c558b"/><stop offset="0.49" stop-color="#6b548a"/><stop offset="0.64" stop-color="#685286"/><stop offset="0.82" stop-color="#644f82"/><stop offset="1.00" stop-color="#614c7d"/></linearGradient>
<polygon points="357.9,132.3 354.8,132.0 351.7,131.7 348.6,131.3 345.6,130.8 342.6,130.3 339.7,129.7 336.8,129.1 334.0,128.4 331.3,127.6 328.6,126.8 326.0,126.0 323.5,125.1 321.0,124.1 318.7,123.2 316.4,122.1 314.2,121.0 312.1,119.9 310.2,118.8 308.3,117.6 306.5,116.4 304.8,115.1 303.2,113.8 301.7,112.5 300.4,111.2 299.1,109.9 297.9,108.5 296.9,107.1 296.0,105.7 295.1,104.3 294.4,102.9 293.8,101.5 293.3,100.0 292.9,98.6 292.6,97.2 292.4,95.7 293.6,106.8 293.8,108.2 294.1,109.7 294.5,111.2 295.0,112.6 295.7,114.1 296.4,115.5 297.2,117.0 298.1,118.4 299.2,119.8 300.3,121.2 301.6,122.6 302.9,123.9 304.4,125.3 306.0,126.6 307.6,127.9 309.4,129.1 311.3,130.3 313.2,131.5 315.3,132.6 317.4,133.7 319.7,134.8 322.0,135.8 324.4,136.8 326.9,137.7 329.5,138.6 332.1,139.4 334.8,140.1 337.6,140.8 340.4,141.5 343.3,142.1 346.3,142.6 349.2,143.1 352.3,143.5 355.3,143.8 358.4,144.1" fill="url(#fluor15)"/>
<linearGradient id="fluor16" gradientUnits="userSpaceOnUse" x1="292.4" y1="0" x2="357.9" y2="0"><stop offset="0.00" stop-color="#735b95"/><stop offset="0.02" stop-color="#725a94"/><stop offset="0.07" stop-color="#715992"/><stop offset="0.14" stop-color="#705891"/><stop offset="0.23" stop-color="#6f578f"/><stop offset="0.35" stop-color="#6d568d"/><stop offset="0.49" stop-color="#6c558b"/><stop offset="0.64" stop-color="#695287"/><stop offset="0.82" stop-color="#655083"/><stop offset="1.00" stop-color="#624d7e"/></linearGradient>
<polygon points="357.9,132.3 354.8,132.0 351.7,131.7 348.6,131.3 345.6,130.8 342.6,130.3 339.7,129.7 336.8,129.1 334.0,128.4 331.3,127.6 328.6,126.8 326.0,126.0 323.5,125.1 321.0,124.1 318.7,123.2 316.4,122.1 314.2,121.0 312.1,119.9 310.2,118.8 308.3,117.6 306.5,116.4 304.8,115.1 303.2,113.8 301.7,112.5 300.4,111.2 299.1,109.9 297.9,108.5 296.9,107.1 296.0,105.7 295.1,104.3 294.4,102.9 293.8,101.5 293.3,100.0 292.9,98.6 292.6,97.2 292.4,95.7 293.4,104.9 293.6,106.4 293.9,107.9 294.3,109.3 294.8,110.8 295.4,112.2 296.2,113.7 297.0,115.1 297.9,116.5 299.0,117.9 300.1,119.3 301.4,120.7 302.7,122.1 304.2,123.4 305.8,124.7 307.4,126.0 309.2,127.2 311.1,128.4 313.0,129.6 315.1,130.7 317.3,131.8 319.5,132.9 321.8,133.9 324.3,134.9 326.7,135.8 329.3,136.6 332.0,137.4 334.7,138.2 337.5,138.9 340.3,139.5 343.2,140.1 346.1,140.7 349.1,141.1 352.2,141.5 355.2,141.9 358.4,142.1" fill="url(#fluor16)"/>
<linearGradient id="fluor17" gradientUnits="userSpaceOnUse" x1="292.4" y1="0" x2="357.9" y2="0"><stop offset="0.00" stop-color="#7b609e"/><stop offset="0.02" stop-color="#7a609e"/><stop offset="0.07" stop-color="#795f9c"/><stop offset="0.14" stop-color="#765d98"/><stop offset="0.23" stop-color="#735a94"/><stop offset="0.35" stop-color="#6f5790"/><stop offset="0.49" stop-color="#6d568d"/><stop offset="0.64" stop-color="#6a5389"/><stop offset="0.82" stop-color="#665184"/><stop offset="1.00" stop-color="#634e80"/></linearGradient>
<polygon points="357.9,132.3 354.8,132.0 351.7,131.7 348.6,131.3 345.6,130.8 342.6,130.3 339.7,129.7 336.8,129.1 334.0,128.4 331.3,127.6 328.6,126.8 326.0,126.0 323.5,125.1 321.0,124.1 318.7,123.2 316.4,122.1 314.2,121.0 312.1,119.9 310.2,118.8 308.3,117.6 306.5,116.4 304.8,115.1 303.2,113.8 301.7,112.5 300.4,111.2 299.1,109.9 297.9,108.5 296.9,107.1 296.0,105.7 295.1,104.3 294.4,102.9 293.8,101.5 293.3,100.0 292.9,98.6 292.6,97.2 292.4,95.7 293.2,103.1 293.4,104.6 293.7,106.0 294.1,107.5 294.6,108.9 295.2,110.4 296.0,111.8 296.8,113.3 297.7,114.7 298.8,116.1 299.9,117.5 301.2,118.8 302.5,120.2 304.0,121.5 305.6,122.8 307.2,124.1 309.0,125.3 310.9,126.5 312.9,127.7 314.9,128.8 317.1,129.9 319.3,131.0 321.7,132.0 324.1,132.9 326.6,133.8 329.2,134.7 331.8,135.5 334.5,136.3 337.3,137.0 340.2,137.6 343.1,138.2 346.0,138.7 349.0,139.2 352.1,139.6 355.2,139.9 358.3,140.2" fill="url(#fluor17)"/>
<linearGradient id="fluor18" gradientUnits="userSpaceOnUse" x1="292.4" y1="0" x2="357.9" y2="0"><stop offset="0.00" stop-color="#8065a6"/><stop offset="0.02" stop-color="#8065a5"/><stop offset="0.07" stop-color="#7f64a3"/><stop offset="0.14" stop-color="#7b609e"/><stop offset="0.23" stop-color="#765d98"/><stop offset="0.35" stop-color="#715992"/><stop offset="0.49" stop-color="#6e578e"/><stop offset="0.64" stop-color="#6b548a"/><stop offset="0.82" stop-color="#675185"/><stop offset="1.00" stop-color="#644f81"/></linearGradient>
<polygon points="357.9,132.3 354.8,132.0 351.7,131.7 348.6,131.3 345.6,130.8 342.6,130.3 339.7,129.7 336.8,129.1 334.0,128.4 331.3,127.6 328.6,126.8 326.0,126.0 323.5,125.1 321.0,124.1 318.7,123.2 316.4,122.1 314.2,121.0 312.1,119.9 310.2,118.8 308.3,117.6 306.5,116.4 304.8,115.1 303.2,113.8 301.7,112.5 300.4,111.2 299.1,109.9 297.9,108.5 296.9,107.1 296.0,105.7 295.1,104.3 294.4,102.9 293.8,101.5 293.3,100.0 292.9,98.6 292.6,97.2 292.4,95.7 293.0,101.3 293.2,102.7 293.5,104.2 293.9,105.6 294.4,107.1 295.0,108.5 295.8,110.0 296.6,111.4 297.5,112.8 298.6,114.2 299.7,115.6 301.0,116.9 302.3,118.3 303.8,119.6 305.4,120.9 307.1,122.2 308.8,123.4 310.7,124.6 312.7,125.8 314.8,126.9 316.9,128.0 319.2,129.0 321.5,130.0 323.9,131.0 326.4,131.9 329.0,132.7 331.7,133.5 334.4,134.3 337.2,135.0 340.1,135.6 343.0,136.2 345.9,136.7 348.9,137.2 352.0,137.6 355.1,137.9 358.2,138.2" fill="url(#fluor18)"/>
<linearGradient id="fluor19" gradientUnits="userSpaceOnUse" x1="292.4" y1="0" x2="357.9" y2="0"><stop offset="0.00" stop-color="#8165a6"/><stop offset="0.02" stop-color="#8165a6"/><stop offset="0.07" stop-color="#7f64a4"/><stop offset="0.14" stop-color="#7b619f"/><stop offset="0.23" stop-color="#775e99"/><stop offset="0.35" stop-color="#725a93"/><stop offset="0.49" stop-color="#6f5790"/><stop offset="0.64" stop-color="#6c558b"/><stop offset="0.82" stop-color="#685287"/><stop offset="1.00" stop-color="#654f82"/></linearGradient>
<polygon points="357.9,132.3 354.8,132.0 351.7,131.7 348.6,131.3 345.6,130.8 342.6,130.3 339.7,129.7 336.8,129.1 334.0,128.4 331.3,127.6 328.6,126.8 326.0,126.0 323.5,125.1 321.0,124.1 318.7,123.2 316.4,122.1 314.2,121.0 312.1,119.9 310.2,118.8 308.3,117.6 306.5,116.4 304.8,115.1 303.2,113.8 301.7,112.5 300.4,111.2 299.1,109.9 297.9,108.5 296.9,107.1 296.0,105.7 295.1,104.3 294.4,102.9 293.8,101.5 293.3,100.0 292.9,98.6 292.6,97.2 292.4,95.7 292.8,99.4 293.0,100.9 293.3,102.3 293.7,103.8 294.2,105.2 294.8,106.7 295.5,108.1 296.4,109.5 297.3,110.9 298.4,112.3 299.5,113.7 300.8,115.0 302.1,116.4 303.6,117.7 305.2,119.0 306.9,120.2 308.6,121.5 310.5,122.7 312.5,123.8 314.6,124.9 316.7,126.0 319.0,127.1 321.3,128.1 323.8,129.0 326.3,129.9 328.9,130.8 331.5,131.6 334.3,132.3 337.1,133.0 339.9,133.7 342.9,134.3 345.8,134.8 348.8,135.2 351.9,135.6 355.0,136.0 358.1,136.2" fill="url(#fluor19)"/>
<linearGradient id="fluor20" gradientUnits="userSpaceOnUse" x1="292.4" y1="0" x2="357.9" y2="0"><stop offset="0.00" stop-color="#8166a7"/><stop offset="0.02" stop-color="#8165a6"/><stop offset="0.07" stop-color="#8064a5"/><stop offset="0.14" stop-color="#7c61a0"/><stop offset="0.23" stop-color="#785e9a"/><stop offset="0.35" stop-color="#735b95"/><stop offset="0.49" stop-color="#705891"/><stop offset="0.64" stop-color="#6d568d"/><stop offset="0.82" stop-color="#695388"/><stop offset="1.00" stop-color="#665084"/></linearGradient>
<polygon points="357.9,132.3 354.8,132.0 351.7,131.7 348.6,131.3 345.6,130.8 342.6,130.3 339.7,129.7 336.8,129.1 334.0,128.4 331.3,127.6 328.6,126.8 326.0,126.0 323.5,125.1 321.0,124.1 318.7,123.2 316.4,122.1 314.2,121.0 312.1,119.9 310.2,118.8 308.3,117.6 306.5,116.4 304.8,115.1 303.2,113.8 301.7,112.5 300.4,111.2 299.1,109.9 297.9,108.5 296.9,107.1 296.0,105.7 295.1,104.3 294.4,102.9 293.8,101.5 293.3,100.0 292.9,98.6 292.6,97.2 292.4,95.7 292.6,97.6 292.8,99.0 293.1,100.5 293.5,101.9 294.0,103.3 294.6,104.8 295.3,106.2 296.2,107.6 297.1,109.0 298.2,110.4 299.3,111.8 300.6,113.1 301.9,114.5 303.4,115.8 305.0,117.1 306.7,118.3 308.5,119.5 310.3,120.7 312.3,121.9 314.4,123.0 316.6,124.1 318.8,125.1 321.2,126.1 323.6,127.1 326.1,128.0 328.7,128.8 331.4,129.6 334.1,130.4 336.9,131.1 339.8,131.7 342.7,132.3 345.7,132.8 348.7,133.2 351.8,133.6 354.9,134.0 358.0,134.2" fill="url(#fluor20)"/>
<polygon points="372.8,86.7 357.9,132.3 354.8,132.0 351.7,131.7 348.6,131.3 345.6,130.8 342.6,130.3 339.7,129.7 336.8,129.1 334.0,128.4 331.3,127.6 328.6,126.8 326.0,126.0 323.5,125.1 321.0,124.1 318.7,123.2 316.4,122.1 314.2,121.0 312.1,119.9 310.2,118.8 308.3,117.6 306.5,116.4 304.8,115.1 303.2,113.8 301.7,112.5 300.4,111.2 299.1,109.9 297.9,108.5 296.9,107.1 296.0,105.7 295.1,104.3 294.4,102.9 293.8,101.5 293.3,100.0 292.9,98.6 292.6,97.2 292.4,95.7 292.3,94.3 292.3,92.9 292.4,91.4 292.6,90.0 292.9,88.6 293.3,87.2 293.7,85.9 294.3,84.5 295.0,83.1 295.7,81.8 296.6,80.5 297.5,79.2 298.5,77.9 299.6,76.7 300.7,75.4 301.9,74.2 303.2,73.0 304.6,71.9 306.0,70.8 307.5,69.7 309.1,68.6 310.7,67.5 312.4,66.5 314.1,65.5" fill="#8367a9" stroke="#8367a9" stroke-width="0.35"/>
<polygon points="403.1,91.7 433.3,136.7 432.4,156.4 402.9,109.7" fill="#183152" stroke="#183152" stroke-width="0.35"/>
<linearGradient id="fluor21" gradientUnits="userSpaceOnUse" x1="433.3" y1="0" x2="465.8" y2="0"><stop offset="0.00" stop-color="#224473"/><stop offset="0.28" stop-color="#20406b"/><stop offset="0.55" stop-color="#1e3c64"/><stop offset="0.79" stop-color="#1b375c"/><stop offset="1.00" stop-color="#1a3458"/></linearGradient>
<polygon points="465.8,125.1 463.8,126.2 461.7,127.4 459.5,128.4 457.2,129.5 454.8,130.5 452.4,131.4 449.9,132.3 447.3,133.2 444.6,134.0 441.9,134.8 439.1,135.5 436.2,136.1 433.3,136.7 432.4,156.4 435.2,155.8 438.0,155.1 440.7,154.4 443.4,153.6 446.0,152.8 448.5,151.9 451.0,150.9 453.4,150.0 455.7,148.9 457.9,147.8 460.1,146.7 462.1,145.6 464.1,144.4" fill="url(#fluor21)"/>
<linearGradient id="fluor22" gradientUnits="userSpaceOnUse" x1="433.3" y1="0" x2="465.8" y2="0"><stop offset="0.00" stop-color="#224574"/><stop offset="0.28" stop-color="#20416c"/><stop offset="0.55" stop-color="#1e3c65"/><stop offset="0.79" stop-color="#1c385d"/><stop offset="1.00" stop-color="#1a3559"/></linearGradient>
<polygon points="465.8,125.1 463.8,126.2 461.7,127.4 459.5,128.4 457.2,129.5 454.8,130.5 452.4,131.4 449.9,132.3 447.3,133.2 444.6,134.0 441.9,134.8 439.1,135.5 436.2,136.1 433.3,136.7 432.5,154.5 435.3,153.9 438.1,153.2 440.8,152.5 443.5,151.7 446.1,150.9 448.7,150.0 451.1,149.0 453.5,148.1 455.8,147.0 458.1,145.9 460.2,144.8 462.3,143.7 464.3,142.5" fill="url(#fluor22)"/>
<linearGradient id="fluor23" gradientUnits="userSpaceOnUse" x1="433.3" y1="0" x2="465.8" y2="0"><stop offset="0.00" stop-color="#234675"/><stop offset="0.28" stop-color="#20416d"/><stop offset="0.55" stop-color="#1e3d66"/><stop offset="0.79" stop-color="#1c385e"/><stop offset="1.00" stop-color="#1b355a"/></linearGradient>
<polygon points="465.8,125.1 463.8,126.2 461.7,127.4 459.5,128.4 457.2,129.5 454.8,130.5 452.4,131.4 449.9,132.3 447.3,133.2 444.6,134.0 441.9,134.8 439.1,135.5 436.2,136.1 433.3,136.7 432.6,152.6 435.4,151.9 438.2,151.3 441.0,150.6 443.6,149.8 446.3,148.9 448.8,148.1 451.3,147.1 453.7,146.1 456.0,145.1 458.2,144.0 460.4,142.9 462.4,141.8 464.4,140.6" fill="url(#fluor23)"/>
<linearGradient id="fluor24" gradientUnits="userSpaceOnUse" x1="433.3" y1="0" x2="465.8" y2="0"><stop offset="0.00" stop-color="#234776"/><stop offset="0.28" stop-color="#21426f"/><stop offset="0.55" stop-color="#1e3d67"/><stop offset="0.79" stop-color="#1c395f"/><stop offset="1.00" stop-color="#1b365a"/></linearGradient>
<polygon points="465.8,125.1 463.8,126.2 461.7,127.4 459.5,128.4 457.2,129.5 454.8,130.5 452.4,131.4 449.9,132.3 447.3,133.2 444.6,134.0 441.9,134.8 439.1,135.5 436.2,136.1 433.3,136.7 432.7,150.6 435.5,150.0 438.3,149.3 441.1,148.6 443.8,147.8 446.4,147.0 448.9,146.1 451.4,145.2 453.8,144.2 456.1,143.2 458.4,142.1 460.5,141.0 462.6,139.9 464.6,138.7" fill="url(#fluor24)"/>
<linearGradient id="fluor25" gradientUnits="userSpaceOnUse" x1="433.3" y1="0" x2="465.8" y2="0"><stop offset="0.00" stop-color="#234777"/><stop offset="0.28" stop-color="#214370"/><stop offset="0.55" stop-color="#1f3e68"/><stop offset="0.79" stop-color="#1c3960"/><stop offset="1.00" stop-color="#1b375b"/></linearGradient>
<polygon points="465.8,125.1 463.8,126.2 461.7,127.4 459.5,128.4 457.2,129.5 454.8,130.5 452.4,131.4 449.9,132.3 447.3,133.2 444.6,134.0 441.9,134.8 439.1,135.5 436.2,136.1 433.3,136.7 432.7,148.7 435.6,148.0 438.4,147.4 441.2,146.7 443.9,145.9 446.5,145.1 449.1,144.2 451.5,143.3 454.0,142.3 456.3,141.3 458.5,140.2 460.7,139.1 462.8,137.9 464.8,136.8" fill="url(#fluor25)"/>
<linearGradient id="fluor26" gradientUnits="userSpaceOnUse" x1="433.3" y1="0" x2="465.8" y2="0"><stop offset="0.00" stop-color="#244879"/><stop offset="0.28" stop-color="#214371"/><stop offset="0.55" stop-color="#1f3f69"/><stop offset="0.79" stop-color="#1d3a61"/><stop offset="1.00" stop-color="#1b375c"/></linearGradient>
<polygon points="465.8,125.1 463.8,126.2 461.7,127.4 459.5,128.4 457.2,129.5 454.8,130.5 452.4,131.4 449.9,132.3 447.3,133.2 444.6,134.0 441.9,134.8 439.1,135.5 436.2,136.1 433.3,136.7 432.8,146.7 435.7,146.1 438.5,145.4 441.3,144.7 444.0,143.9 446.6,143.1 449.2,142.2 451.7,141.3 454.1,140.3 456.4,139.3 458.7,138.3 460.9,137.2 462.9,136.0 464.9,134.8" fill="url(#fluor26)"/>
<linearGradient id="fluor27" gradientUnits="userSpaceOnUse" x1="433.3" y1="0" x2="465.8" y2="0"><stop offset="0.00" stop-color="#24497a"/><stop offset="0.28" stop-color="#224472"/><stop offset="0.55" stop-color="#1f3f6a"/><stop offset="0.79" stop-color="#1d3b62"/><stop offset="1.00" stop-color="#1c385d"/></linearGradient>
<polygon points="465.8,125.1 463.8,126.2 461.7,127.4 459.5,128.4 457.2,129.5 454.8,130.5 452.4,131.4 449.9,132.3 447.3,133.2 444.6,134.0 441.9,134.8 439.1,135.5 436.2,136.1 433.3,136.7 432.9,144.7 435.8,144.1 438.6,143.5 441.4,142.7 444.1,142.0 446.8,141.1 449.3,140.3 451.8,139.4 454.2,138.4 456.6,137.4 458.8,136.3 461.0,135.2 463.1,134.1 465.1,132.9" fill="url(#fluor27)"/>
<linearGradient id="fluor28" gradientUnits="userSpaceOnUse" x1="433.3" y1="0" x2="465.8" y2="0"><stop offset="0.00" stop-color="#24497b"/><stop offset="0.28" stop-color="#224573"/><stop offset="0.55" stop-color="#20406b"/><stop offset="0.79" stop-color="#1d3b63"/><stop offset="1.00" stop-color="#1c385e"/></linearGradient>
<polygon points="465.8,125.1 463.8,126.2 461.7,127.4 459.5,128.4 457.2,129.5 454.8,130.5 452.4,131.4 449.9,132.3 447.3,133.2 444.6,134.0 441.9,134.8 439.1,135.5 436.2,136.1 433.3,136.7 433.0,142.7 435.9,142.1 438.8,141.5 441.5,140.8 444.2,140.0 446.9,139.2 449.5,138.3 452.0,137.4 454.4,136.4 456.7,135.4 459.0,134.4 461.2,133.3 463.3,132.1 465.3,131.0" fill="url(#fluor28)"/>
<linearGradient id="fluor29" gradientUnits="userSpaceOnUse" x1="433.3" y1="0" x2="465.8" y2="0"><stop offset="0.00" stop-color="#254a7c"/><stop offset="0.28" stop-color="#224574"/><stop offset="0.55" stop-color="#20416c"/><stop offset="0.79" stop-color="#1e3c64"/><stop offset="1.00" stop-color="#1c395f"/></linearGradient>
<polygon points="465.8,125.1 463.8,126.2 461.7,127.4 459.5,128.4 457.2,129.5 454.8,130.5 452.4,131.4 449.9,132.3 447.3,133.2 444.6,134.0 441.9,134.8 439.1,135.5 436.2,136.1 433.3,136.7 433.1,140.7 436.0,140.1 438.9,139.5 441.6,138.8 444.4,138.0 447.0,137.2 449.6,136.3 452.1,135.4 454.5,134.4 456.9,133.4 459.2,132.4 461.3,131.3 463.4,130.2 465.4,129.0" fill="url(#fluor29)"/>
<linearGradient id="fluor30" gradientUnits="userSpaceOnUse" x1="433.3" y1="0" x2="465.8" y2="0"><stop offset="0.00" stop-color="#254b7d"/><stop offset="0.28" stop-color="#234675"/><stop offset="0.55" stop-color="#20416d"/><stop offset="0.79" stop-color="#1e3c65"/><stop offset="1.00" stop-color="#1c3960"/></linearGradient>
<polygon points="465.8,125.1 463.8,126.2 461.7,127.4 459.5,128.4 457.2,129.5 454.8,130.5 452.4,131.4 449.9,132.3 447.3,133.2 444.6,134.0 441.9,134.8 439.1,135.5 436.2,136.1 433.3,136.7 433.2,138.7 436.1,138.1 439.0,137.5 441.8,136.8 444.5,136.0 447.1,135.2 449.7,134.3 452.3,133.4 454.7,132.5 457.0,131.5 459.3,130.4 461.5,129.3 463.6,128.2 465.6,127.0" fill="url(#fluor30)"/>
<polygon points="403.1,91.7 465.8,125.1 463.8,126.2 461.7,127.4 459.5,128.4 457.2,129.5 454.8,130.5 452.4,131.4 449.9,132.3 447.3,133.2 444.6,134.0 441.9,134.8 439.1,135.5 436.2,136.1 433.3,136.7" fill="#3d7bce" stroke="#3d7bce" stroke-width="0.35"/>
<polygon points="398.5,92.7 424.7,138.7 424.0,158.5 398.3,110.8" fill="#4e1919" stroke="#4e1919" stroke-width="0.35"/>
<linearGradient id="fluor31" gradientUnits="userSpaceOnUse" x1="424.7" y1="0" x2="428.0" y2="0"><stop offset="0.00" stop-color="#702324"/><stop offset="1.00" stop-color="#6d2323"/></linearGradient>
<polygon points="428.0,138.1 426.4,138.4 424.7,138.7 424.0,158.5 425.6,158.2 427.2,157.9" fill="url(#fluor31)"/>
<linearGradient id="fluor32" gradientUnits="userSpaceOnUse" x1="424.7" y1="0" x2="428.0" y2="0"><stop offset="0.00" stop-color="#712424"/><stop offset="1.00" stop-color="#6e2323"/></linearGradient>
<polygon points="428.0,138.1 426.4,138.4 424.7,138.7 424.0,156.5 425.7,156.2 427.3,155.9" fill="url(#fluor32)"/>
<linearGradient id="fluor33" gradientUnits="userSpaceOnUse" x1="424.7" y1="0" x2="428.0" y2="0"><stop offset="0.00" stop-color="#722425"/><stop offset="1.00" stop-color="#6f2324"/></linearGradient>
<polygon points="428.0,138.1 426.4,138.4 424.7,138.7 424.1,154.6 425.7,154.3 427.4,154.0" fill="url(#fluor33)"/>
<linearGradient id="fluor34" gradientUnits="userSpaceOnUse" x1="424.7" y1="0" x2="428.0" y2="0"><stop offset="0.00" stop-color="#732425"/><stop offset="1.00" stop-color="#712424"/></linearGradient>
<polygon points="428.0,138.1 426.4,138.4 424.7,138.7 424.2,152.7 425.8,152.4 427.5,152.0" fill="url(#fluor34)"/>
<linearGradient id="fluor35" gradientUnits="userSpaceOnUse" x1="424.7" y1="0" x2="428.0" y2="0"><stop offset="0.00" stop-color="#742525"/><stop offset="1.00" stop-color="#722425"/></linearGradient>
<polygon points="428.0,138.1 426.4,138.4 424.7,138.7 424.3,150.7 425.9,150.4 427.5,150.1" fill="url(#fluor35)"/>
<linearGradient id="fluor36" gradientUnits="userSpaceOnUse" x1="424.7" y1="0" x2="428.0" y2="0"><stop offset="0.00" stop-color="#752526"/><stop offset="1.00" stop-color="#732425"/></linearGradient>
<polygon points="428.0,138.1 426.4,138.4 424.7,138.7 424.3,148.7 426.0,148.4 427.6,148.1" fill="url(#fluor36)"/>
<linearGradient id="fluor37" gradientUnits="userSpaceOnUse" x1="424.7" y1="0" x2="428.0" y2="0"><stop offset="0.00" stop-color="#772626"/><stop offset="1.00" stop-color="#742525"/></linearGradient>
<polygon points="428.0,138.1 426.4,138.4 424.7,138.7 424.4,146.7 426.1,146.4 427.7,146.1" fill="url(#fluor37)"/>
<linearGradient id="fluor38" gradientUnits="userSpaceOnUse" x1="424.7" y1="0" x2="428.0" y2="0"><stop offset="0.00" stop-color="#782626"/><stop offset="1.00" stop-color="#752526"/></linearGradient>
<polygon points="428.0,138.1 426.4,138.4 424.7,138.7 424.5,144.7 426.1,144.5 427.8,144.1" fill="url(#fluor38)"/>
<linearGradient id="fluor39" gradientUnits="userSpaceOnUse" x1="424.7" y1="0" x2="428.0" y2="0"><stop offset="0.00" stop-color="#792627"/><stop offset="1.00" stop-color="#762526"/></linearGradient>
<polygon points="428.0,138.1 426.4,138.4 424.7,138.7 424.6,142.7 426.2,142.5 427.9,142.1" fill="url(#fluor39)"/>
<linearGradient id="fluor40" gradientUnits="userSpaceOnUse" x1="424.7" y1="0" x2="428.0" y2="0"><stop offset="0.00" stop-color="#7a2727"/><stop offset="1.00" stop-color="#772626"/></linearGradient>
<polygon points="428.0,138.1 426.4,138.4 424.7,138.7 424.6,140.7 426.3,140.4 428.0,140.1" fill="url(#fluor40)"/>
<polygon points="398.5,92.7 428.0,138.1 426.4,138.4 424.7,138.7" fill="#c43e3f" stroke="#c43e3f" stroke-width="0.35"/>
<linearGradient id="fluor41" gradientUnits="userSpaceOnUse" x1="381.9" y1="0" x2="419.4" y2="0"><stop offset="0.00" stop-color="#6d8e39"/><stop offset="0.34" stop-color="#6a8b38"/><stop offset="0.67" stop-color="#648234"/><stop offset="1.00" stop-color="#5e7a31"/></linearGradient>
<polygon points="419.4,139.3 416.4,139.8 413.3,140.2 410.2,140.5 407.1,140.8 404.0,141.1 400.9,141.2 397.7,141.3 394.5,141.4 391.4,141.4 388.2,141.3 385.1,141.1 381.9,140.9 382.2,160.7 385.2,161.0 388.3,161.1 391.4,161.2 394.5,161.2 397.6,161.2 400.7,161.1 403.7,160.9 406.8,160.7 409.8,160.4 412.8,160.0 415.8,159.6 418.7,159.1" fill="url(#fluor41)"/>
<linearGradient id="fluor42" gradientUnits="userSpaceOnUse" x1="381.9" y1="0" x2="419.4" y2="0"><stop offset="0.00" stop-color="#6e903a"/><stop offset="0.34" stop-color="#6b8c38"/><stop offset="0.67" stop-color="#658435"/><stop offset="1.00" stop-color="#5f7c32"/></linearGradient>
<polygon points="419.4,139.3 416.4,139.8 413.3,140.2 410.2,140.5 407.1,140.8 404.0,141.1 400.9,141.2 397.7,141.3 394.5,141.4 391.4,141.4 388.2,141.3 385.1,141.1 381.9,140.9 382.1,158.8 385.2,159.0 388.3,159.2 391.4,159.3 394.5,159.3 397.6,159.2 400.7,159.1 403.7,159.0 406.8,158.7 409.9,158.4 412.9,158.1 415.8,157.6 418.8,157.2" fill="url(#fluor42)"/>
<linearGradient id="fluor43" gradientUnits="userSpaceOnUse" x1="381.9" y1="0" x2="419.4" y2="0"><stop offset="0.00" stop-color="#6f913a"/><stop offset="0.34" stop-color="#6c8d39"/><stop offset="0.67" stop-color="#668536"/><stop offset="1.00" stop-color="#607d32"/></linearGradient>
<polygon points="419.4,139.3 416.4,139.8 413.3,140.2 410.2,140.5 407.1,140.8 404.0,141.1 400.9,141.2 397.7,141.3 394.5,141.4 391.4,141.4 388.2,141.3 385.1,141.1 381.9,140.9 382.1,156.9 385.2,157.1 388.3,157.2 391.4,157.3 394.5,157.3 397.6,157.3 400.7,157.2 403.8,157.0 406.8,156.8 409.9,156.5 412.9,156.1 415.9,155.7 418.9,155.2" fill="url(#fluor43)"/>
<linearGradient id="fluor44" gradientUnits="userSpaceOnUse" x1="381.9" y1="0" x2="419.4" y2="0"><stop offset="0.00" stop-color="#70933b"/><stop offset="0.34" stop-color="#6d8f39"/><stop offset="0.67" stop-color="#678636"/><stop offset="1.00" stop-color="#617e33"/></linearGradient>
<polygon points="419.4,139.3 416.4,139.8 413.3,140.2 410.2,140.5 407.1,140.8 404.0,141.1 400.9,141.2 397.7,141.3 394.5,141.4 391.4,141.4 388.2,141.3 385.1,141.1 381.9,140.9 382.1,154.9 385.2,155.1 388.3,155.3 391.4,155.3 394.5,155.4 397.6,155.3 400.7,155.2 403.8,155.1 406.9,154.8 409.9,154.5 413.0,154.2 416.0,153.7 418.9,153.3" fill="url(#fluor44)"/>
<linearGradient id="fluor45" gradientUnits="userSpaceOnUse" x1="381.9" y1="0" x2="419.4" y2="0"><stop offset="0.00" stop-color="#71943c"/><stop offset="0.34" stop-color="#6f903a"/><stop offset="0.67" stop-color="#688837"/><stop offset="1.00" stop-color="#628033"/></linearGradient>
<polygon points="419.4,139.3 416.4,139.8 413.3,140.2 410.2,140.5 407.1,140.8 404.0,141.1 400.9,141.2 397.7,141.3 394.5,141.4 391.4,141.4 388.2,141.3 385.1,141.1 381.9,140.9 382.1,152.9 385.2,153.1 388.3,153.3 391.4,153.4 394.5,153.4 397.6,153.4 400.7,153.3 403.8,153.1 406.9,152.8 410.0,152.6 413.0,152.2 416.0,151.8 419.0,151.3" fill="url(#fluor45)"/>
<linearGradient id="fluor46" gradientUnits="userSpaceOnUse" x1="381.9" y1="0" x2="419.4" y2="0"><stop offset="0.00" stop-color="#73963c"/><stop offset="0.34" stop-color="#70923b"/><stop offset="0.67" stop-color="#698937"/><stop offset="1.00" stop-color="#638134"/></linearGradient>
<polygon points="419.4,139.3 416.4,139.8 413.3,140.2 410.2,140.5 407.1,140.8 404.0,141.1 400.9,141.2 397.7,141.3 394.5,141.4 391.4,141.4 388.2,141.3 385.1,141.1 381.9,140.9 382.0,151.0 385.1,151.2 388.3,151.3 391.4,151.4 394.5,151.4 397.6,151.4 400.8,151.3 403.9,151.1 407.0,150.9 410.0,150.6 413.1,150.2 416.1,149.8 419.0,149.3" fill="url(#fluor46)"/>
<linearGradient id="fluor47" gradientUnits="userSpaceOnUse" x1="381.9" y1="0" x2="419.4" y2="0"><stop offset="0.00" stop-color="#74973d"/><stop offset="0.34" stop-color="#71933b"/><stop offset="0.67" stop-color="#6a8b38"/><stop offset="1.00" stop-color="#648234"/></linearGradient>
<polygon points="419.4,139.3 416.4,139.8 413.3,140.2 410.2,140.5 407.1,140.8 404.0,141.1 400.9,141.2 397.7,141.3 394.5,141.4 391.4,141.4 388.2,141.3 385.1,141.1 381.9,140.9 382.0,149.0 385.1,149.2 388.2,149.3 391.4,149.4 394.5,149.4 397.6,149.4 400.8,149.3 403.9,149.1 407.0,148.9 410.1,148.6 413.1,148.2 416.1,147.8 419.1,147.3" fill="url(#fluor47)"/>
<linearGradient id="fluor48" gradientUnits="userSpaceOnUse" x1="381.9" y1="0" x2="419.4" y2="0"><stop offset="0.00" stop-color="#75983d"/><stop offset="0.34" stop-color="#72953c"/><stop offset="0.67" stop-color="#6b8c38"/><stop offset="1.00" stop-color="#658335"/></linearGradient>
<polygon points="419.4,139.3 416.4,139.8 413.3,140.2 410.2,140.5 407.1,140.8 404.0,141.1 400.9,141.2 397.7,141.3 394.5,141.4 391.4,141.4 388.2,141.3 385.1,141.1 381.9,140.9 382.0,147.0 385.1,147.2 388.2,147.3 391.4,147.4 394.5,147.4 397.7,147.4 400.8,147.3 403.9,147.1 407.0,146.9 410.1,146.6 413.2,146.2 416.2,145.8 419.2,145.3" fill="url(#fluor48)"/>
<linearGradient id="fluor49" gradientUnits="userSpaceOnUse" x1="381.9" y1="0" x2="419.4" y2="0"><stop offset="0.00" stop-color="#769a3e"/><stop offset="0.34" stop-color="#73963c"/><stop offset="0.67" stop-color="#6c8d39"/><stop offset="1.00" stop-color="#668535"/></linearGradient>
<polygon points="419.4,139.3 416.4,139.8 413.3,140.2 410.2,140.5 407.1,140.8 404.0,141.1 400.9,141.2 397.7,141.3 394.5,141.4 391.4,141.4 388.2,141.3 385.1,141.1 381.9,140.9 382.0,145.0 385.1,145.2 388.2,145.3 391.4,145.4 394.5,145.4 397.7,145.4 400.8,145.3 403.9,145.1 407.1,144.9 410.1,144.6 413.2,144.2 416.2,143.8 419.2,143.3" fill="url(#fluor49)"/>
<linearGradient id="fluor50" gradientUnits="userSpaceOnUse" x1="381.9" y1="0" x2="419.4" y2="0"><stop offset="0.00" stop-color="#779b3f"/><stop offset="0.34" stop-color="#74983d"/><stop offset="0.67" stop-color="#6d8f39"/><stop offset="1.00" stop-color="#678636"/></linearGradient>
<polygon points="419.4,139.3 416.4,139.8 413.3,140.2 410.2,140.5 407.1,140.8 404.0,141.1 400.9,141.2 397.7,141.3 394.5,141.4 391.4,141.4 388.2,141.3 385.1,141.1 381.9,140.9 381.9,142.9 385.1,143.2 388.2,143.3 391.4,143.4 394.5,143.4 397.7,143.4 400.8,143.3 404.0,143.1 407.1,142.9 410.2,142.6 413.3,142.2 416.3,141.8 419.3,141.3" fill="url(#fluor50)"/>
<polygon points="393.8,93.2 419.4,139.3 416.4,139.8 413.3,140.2 410.2,140.5 407.1,140.8 404.0,141.1 400.9,141.2 397.7,141.3 394.5,141.4 391.4,141.4 388.2,141.3 385.1,141.1 381.9,140.9" fill="#8db84a" stroke="#8db84a" stroke-width="0.35"/>
<polygon points="130.8,265.1 130.7,234.0 130.7,248.8 130.8,281.3" fill="#182c4a" stroke="#182c4a" stroke-width="0.35"/>
<polygon points="130.8,265.1 135.5,234.0 135.4,248.9 130.8,281.3" fill="#24436e" stroke="#24436e" stroke-width="0.35"/>
<polygon points="130.8,265.1 130.7,234.0 133.1,234.0 135.5,234.0" fill="#3c6fb8" stroke="#3c6fb8" stroke-width="0.35"/>
<polygon points="132.4,265.2 143.1,234.4 142.9,249.2 132.3,281.4" fill="#6e2624" stroke="#6e2624" stroke-width="0.35"/>
<polygon points="132.4,265.2 136.9,234.1 139.0,234.1 141.0,234.2 143.1,234.4" fill="#b8403c" stroke="#b8403c" stroke-width="0.35"/>
<polygon points="123.2,265.6 78.3,240.8 79.0,255.9 123.3,281.9" fill="#524e5d" stroke="#524e5d" stroke-width="0.35"/>
<polygon points="123.2,265.6 123.9,234.4 124.0,249.2 123.3,281.9" fill="#746e84" stroke="#746e84" stroke-width="0.35"/>
<polygon points="123.2,265.6 78.3,240.8 80.4,240.2 82.5,239.6 84.6,239.0 86.7,238.5 88.9,238.0 91.1,237.5 93.4,237.1 95.6,236.7 97.9,236.3 100.2,236.0 102.5,235.7 104.9,235.4 107.2,235.2 109.6,235.0 112.0,234.8 114.4,234.6 116.7,234.5 119.1,234.4 121.5,234.4 123.9,234.4" fill="#c2b8dc" stroke="#c2b8dc" stroke-width="0.35"/>
<polygon points="137.0,265.6 172.6,238.3 172.0,253.3 136.9,281.9" fill="#4b6424" stroke="#4b6424" stroke-width="0.35"/>
<polygon points="137.0,265.6 147.2,234.7 149.6,234.9 152.0,235.1 154.3,235.3 156.7,235.6 159.0,235.9 161.3,236.2 163.6,236.6 165.9,237.0 168.1,237.4 170.4,237.8 172.6,238.3" fill="#7da63c" stroke="#7da63c" stroke-width="0.35"/>
<polygon points="143.5,267.3 199.1,246.3 198.1,261.7 143.3,283.6" fill="#402d5a" stroke="#402d5a" stroke-width="0.35"/>
<polygon points="143.5,267.3 178.6,239.7 180.8,240.2 183.0,240.7 185.1,241.3 187.2,241.9 189.3,242.6 191.4,243.3 193.4,244.0 195.3,244.7 197.2,245.5 199.1,246.3" fill="#6f4e9c" stroke="#6f4e9c" stroke-width="0.35"/>
<polygon points="116.0,267.6 64.2,244.9 65.1,260.3 116.2,283.9" fill="#545e43" stroke="#545e43" stroke-width="0.35"/>
<polygon points="116.0,267.6 64.2,244.9 66.0,244.3 67.8,243.6 69.6,243.0 71.5,242.4" fill="#c0d89a" stroke="#c0d89a" stroke-width="0.35"/>
<polygon points="114.1,268.4 55.6,248.6 56.6,264.1 114.4,284.8" fill="#624948" stroke="#624948" stroke-width="0.35"/>
<polygon points="114.1,268.4 55.6,248.6 57.2,247.8 58.9,247.1 60.6,246.4 62.3,245.7" fill="#dba2a1" stroke="#dba2a1" stroke-width="0.35"/>
<polygon points="113.1,269.0 52.6,250.1 53.7,265.6 113.3,285.4" fill="#455263" stroke="#455263" stroke-width="0.35"/>
<polygon points="113.1,269.0 52.6,250.1 53.5,249.6 54.5,249.1" fill="#98b5da" stroke="#98b5da" stroke-width="0.35"/>
<polygon points="148.1,269.7 218.9,257.3 217.6,273.2 147.8,286.1" fill="#1a4e5f" stroke="#1a4e5f" stroke-width="0.35"/>
<polygon points="148.1,269.7 203.8,248.3 205.5,249.1 207.2,250.0 208.8,250.8 210.4,251.7 212.0,252.6 213.5,253.5 214.9,254.4 216.3,255.4 217.6,256.3 218.9,257.3" fill="#2f8eae" stroke="#2f8eae" stroke-width="0.35"/>
<polygon points="151.2,276.0 223.2,301.6 221.6,319.2 150.8,292.7" fill="#623b1b" stroke="#623b1b" stroke-width="0.35"/>
<linearGradient id="penta1" gradientUnits="userSpaceOnUse" x1="223.2" y1="0" x2="234.2" y2="0"><stop offset="0.00" stop-color="#5b3719"/><stop offset="0.40" stop-color="#593618"/><stop offset="0.71" stop-color="#573518"/><stop offset="0.90" stop-color="#553417"/><stop offset="1.00" stop-color="#543317"/></linearGradient>
<polygon points="234.2,284.5 234.0,285.9 233.7,287.2 233.2,288.6 232.7,289.9 232.1,291.3 231.4,292.6 230.5,293.9 229.6,295.2 228.5,296.5 227.4,297.8 226.1,299.1 224.7,300.3 223.2,301.6 221.6,319.2 223.1,318.0 224.5,316.7 225.7,315.4 226.9,314.0 227.9,312.7 228.8,311.3 229.7,309.9 230.4,308.5 231.0,307.2 231.5,305.8 232.0,304.4 232.3,303.0 232.5,301.5" fill="url(#penta1)"/>
<linearGradient id="penta2" gradientUnits="userSpaceOnUse" x1="223.2" y1="0" x2="234.2" y2="0"><stop offset="0.00" stop-color="#5c3819"/><stop offset="0.40" stop-color="#5a3619"/><stop offset="0.71" stop-color="#583518"/><stop offset="0.90" stop-color="#563418"/><stop offset="1.00" stop-color="#543317"/></linearGradient>
<polygon points="234.2,284.5 234.0,285.9 233.7,287.2 233.2,288.6 232.7,289.9 232.1,291.3 231.4,292.6 230.5,293.9 229.6,295.2 228.5,296.5 227.4,297.8 226.1,299.1 224.7,300.3 223.2,301.6 221.8,317.5 223.3,316.2 224.6,314.9 225.9,313.6 227.0,312.3 228.1,311.0 229.0,309.6 229.8,308.2 230.6,306.8 231.2,305.5 231.7,304.1 232.1,302.7 232.4,301.3 232.6,299.9" fill="url(#penta2)"/>
<linearGradient id="penta3" gradientUnits="userSpaceOnUse" x1="223.2" y1="0" x2="234.2" y2="0"><stop offset="0.00" stop-color="#5d3819"/><stop offset="0.40" stop-color="#5b3719"/><stop offset="0.71" stop-color="#593618"/><stop offset="0.90" stop-color="#573518"/><stop offset="1.00" stop-color="#553417"/></linearGradient>
<polygon points="234.2,284.5 234.0,285.9 233.7,287.2 233.2,288.6 232.7,289.9 232.1,291.3 231.4,292.6 230.5,293.9 229.6,295.2 228.5,296.5 227.4,297.8 226.1,299.1 224.7,300.3 223.2,301.6 222.0,315.8 223.4,314.5 224.8,313.2 226.0,311.9 227.2,310.6 228.2,309.2 229.2,307.9 230.0,306.5 230.7,305.1 231.4,303.8 231.9,302.4 232.3,301.0 232.6,299.6 232.8,298.2" fill="url(#penta3)"/>
<linearGradient id="penta4" gradientUnits="userSpaceOnUse" x1="223.2" y1="0" x2="234.2" y2="0"><stop offset="0.00" stop-color="#5e391a"/><stop offset="0.40" stop-color="#5c3819"/><stop offset="0.71" stop-color="#5a3619"/><stop offset="0.90" stop-color="#583518"/><stop offset="1.00" stop-color="#563417"/></linearGradient>
<polygon points="234.2,284.5 234.0,285.9 233.7,287.2 233.2,288.6 232.7,289.9 232.1,291.3 231.4,292.6 230.5,293.9 229.6,295.2 228.5,296.5 227.4,297.8 226.1,299.1 224.7,300.3 223.2,301.6 222.1,314.0 223.6,312.7 224.9,311.5 226.2,310.2 227.4,308.8 228.4,307.5 229.3,306.2 230.2,304.8 230.9,303.4 231.5,302.0 232.0,300.7 232.5,299.3 232.8,297.9 233.0,296.5" fill="url(#penta4)"/>
<linearGradient id="penta5" gradientUnits="userSpaceOnUse" x1="223.2" y1="0" x2="234.2" y2="0"><stop offset="0.00" stop-color="#5f391a"/><stop offset="0.40" stop-color="#5d3819"/><stop offset="0.71" stop-color="#5b3719"/><stop offset="0.90" stop-color="#593618"/><stop offset="1.00" stop-color="#573518"/></linearGradient>
<polygon points="234.2,284.5 234.0,285.9 233.7,287.2 233.2,288.6 232.7,289.9 232.1,291.3 231.4,292.6 230.5,293.9 229.6,295.2 228.5,296.5 227.4,297.8 226.1,299.1 224.7,300.3 223.2,301.6 222.3,312.2 223.7,311.0 225.1,309.7 226.4,308.4 227.5,307.1 228.6,305.8 229.5,304.4 230.3,303.1 231.1,301.7 231.7,300.3 232.2,299.0 232.6,297.6 232.9,296.2 233.1,294.8" fill="url(#penta5)"/>
<linearGradient id="penta6" gradientUnits="userSpaceOnUse" x1="223.2" y1="0" x2="234.2" y2="0"><stop offset="0.00" stop-color="#603a1a"/><stop offset="0.40" stop-color="#5e391a"/><stop offset="0.71" stop-color="#5c3819"/><stop offset="0.90" stop-color="#5a3619"/><stop offset="1.00" stop-color="#583518"/></linearGradient>
<polygon points="234.2,284.5 234.0,285.9 233.7,287.2 233.2,288.6 232.7,289.9 232.1,291.3 231.4,292.6 230.5,293.9 229.6,295.2 228.5,296.5 227.4,297.8 226.1,299.1 224.7,300.3 223.2,301.6 222.4,310.5 223.9,309.2 225.3,308.0 226.5,306.7 227.7,305.4 228.7,304.0 229.7,302.7 230.5,301.3 231.2,300.0 231.9,298.6 232.4,297.2 232.8,295.9 233.1,294.5 233.3,293.1" fill="url(#penta6)"/>
<linearGradient id="penta7" gradientUnits="userSpaceOnUse" x1="223.2" y1="0" x2="234.2" y2="0"><stop offset="0.00" stop-color="#613b1a"/><stop offset="0.40" stop-color="#5f391a"/><stop offset="0.71" stop-color="#5d3819"/><stop offset="0.90" stop-color="#5b3719"/><stop offset="1.00" stop-color="#593618"/></linearGradient>
<polygon points="234.2,284.5 234.0,285.9 233.7,287.2 233.2,288.6 232.7,289.9 232.1,291.3 231.4,292.6 230.5,293.9 229.6,295.2 228.5,296.5 227.4,297.8 226.1,299.1 224.7,300.3 223.2,301.6 222.6,308.7 224.1,307.5 225.4,306.2 226.7,304.9 227.9,303.6 228.9,302.3 229.8,300.9 230.7,299.6 231.4,298.2 232.0,296.9 232.6,295.5 233.0,294.1 233.3,292.8 233.5,291.4" fill="url(#penta7)"/>
<linearGradient id="penta8" gradientUnits="userSpaceOnUse" x1="223.2" y1="0" x2="234.2" y2="0"><stop offset="0.00" stop-color="#623b1b"/><stop offset="0.40" stop-color="#603a1a"/><stop offset="0.71" stop-color="#5e391a"/><stop offset="0.90" stop-color="#5c3719"/><stop offset="1.00" stop-color="#5a3618"/></linearGradient>
<polygon points="234.2,284.5 234.0,285.9 233.7,287.2 233.2,288.6 232.7,289.9 232.1,291.3 231.4,292.6 230.5,293.9 229.6,295.2 228.5,296.5 227.4,297.8 226.1,299.1 224.7,300.3 223.2,301.6 222.8,306.9 224.2,305.7 225.6,304.4 226.9,303.1 228.0,301.8 229.1,300.5 230.0,299.2 230.8,297.9 231.6,296.5 232.2,295.2 232.7,293.8 233.1,292.4 233.4,291.1 233.7,289.7" fill="url(#penta8)"/>
<linearGradient id="penta9" gradientUnits="userSpaceOnUse" x1="223.2" y1="0" x2="234.2" y2="0"><stop offset="0.00" stop-color="#633c1b"/><stop offset="0.40" stop-color="#613a1a"/><stop offset="0.71" stop-color="#5f391a"/><stop offset="0.90" stop-color="#5d3819"/><stop offset="1.00" stop-color="#5b3719"/></linearGradient>
<polygon points="234.2,284.5 234.0,285.9 233.7,287.2 233.2,288.6 232.7,289.9 232.1,291.3 231.4,292.6 230.5,293.9 229.6,295.2 228.5,296.5 227.4,297.8 226.1,299.1 224.7,300.3 223.2,301.6 222.9,305.1 224.4,303.9 225.8,302.7 227.0,301.4 228.2,300.1 229.2,298.8 230.2,297.4 231.0,296.1 231.7,294.8 232.4,293.4 232.9,292.1 233.3,290.7 233.6,289.3 233.8,288.0" fill="url(#penta9)"/>
<linearGradient id="penta10" gradientUnits="userSpaceOnUse" x1="223.2" y1="0" x2="234.2" y2="0"><stop offset="0.00" stop-color="#643c1b"/><stop offset="0.40" stop-color="#623b1b"/><stop offset="0.71" stop-color="#603a1a"/><stop offset="0.90" stop-color="#5d3919"/><stop offset="1.00" stop-color="#5b3719"/></linearGradient>
<polygon points="234.2,284.5 234.0,285.9 233.7,287.2 233.2,288.6 232.7,289.9 232.1,291.3 231.4,292.6 230.5,293.9 229.6,295.2 228.5,296.5 227.4,297.8 226.1,299.1 224.7,300.3 223.2,301.6 223.1,303.4 224.6,302.1 225.9,300.9 227.2,299.6 228.4,298.3 229.4,297.0 230.4,295.7 231.2,294.4 231.9,293.0 232.5,291.7 233.1,290.3 233.5,289.0 233.8,287.6 234.0,286.3" fill="url(#penta10)"/>
<polygon points="151.2,276.0 223.3,263.1 224.6,264.2 225.9,265.4 227.0,266.5 228.1,267.7 229.1,268.9 230.0,270.2 230.8,271.4 231.6,272.7 232.3,273.9 232.8,275.2 233.3,276.5 233.7,277.8 234.0,279.2 234.2,280.5 234.3,281.8 234.3,283.2 234.2,284.5 234.0,285.9 233.7,287.2 233.2,288.6 232.7,289.9 232.1,291.3 231.4,292.6 230.5,293.9 229.6,295.2 228.5,296.5 227.4,297.8 226.1,299.1 224.7,300.3 223.2,301.6" fill="#dc853c" stroke="#dc853c" stroke-width="0.35"/>
<linearGradient id="penta11" gradientUnits="userSpaceOnUse" x1="28.2" y1="0" x2="135.4" y2="0"><stop offset="0.00" stop-color="#cb7e3d"/><stop offset="0.01" stop-color="#c97d3d"/><stop offset="0.04" stop-color="#c87c3c"/><stop offset="0.08" stop-color="#c67b3c"/><stop offset="0.14" stop-color="#c47a3b"/><stop offset="0.22" stop-color="#c2783b"/><stop offset="0.31" stop-color="#c0773a"/><stop offset="0.41" stop-color="#bb7438"/><stop offset="0.52" stop-color="#b57037"/><stop offset="0.64" stop-color="#af6c35"/><stop offset="0.76" stop-color="#a96933"/><stop offset="0.88" stop-color="#9a602f"/><stop offset="1.00" stop-color="#8c572a"/></linearGradient>
<polygon points="135.4,323.7 132.1,324.1 128.9,324.5 125.6,324.8 122.3,325.1 118.9,325.3 115.6,325.4 112.3,325.5 108.9,325.5 105.6,325.5 102.2,325.4 98.9,325.2 95.6,325.0 92.4,324.7 89.1,324.3 85.9,323.9 82.8,323.4 79.7,322.9 76.7,322.3 73.7,321.6 70.8,320.9 67.9,320.2 65.2,319.4 62.5,318.5 59.9,317.6 57.4,316.7 54.9,315.7 52.6,314.6 50.4,313.5 48.2,312.4 46.2,311.3 44.2,310.1 42.4,308.9 40.7,307.6 39.1,306.4 37.6,305.1 36.2,303.8 34.9,302.4 33.7,301.1 32.7,299.7 31.7,298.3 30.9,297.0 30.2,295.6 29.5,294.2 29.0,292.7 28.7,291.3 28.4,289.9 28.2,288.5 29.9,305.7 30.0,307.2 30.3,308.6 30.7,310.1 31.2,311.6 31.8,313.0 32.6,314.5 33.4,315.9 34.3,317.3 35.4,318.8 36.5,320.2 37.8,321.5 39.2,322.9 40.7,324.2 42.3,325.6 44.0,326.9 45.8,328.1 47.7,329.3 49.7,330.5 51.8,331.7 54.0,332.8 56.3,333.9 58.7,334.9 61.1,335.9 63.7,336.8 66.3,337.7 69.1,338.6 71.9,339.3 74.7,340.1 77.6,340.8 80.6,341.4 83.7,341.9 86.7,342.4 89.9,342.9 93.1,343.2 96.3,343.5 99.5,343.8 102.7,344.0 106.0,344.1 109.3,344.1 112.6,344.1 115.9,344.0 119.2,343.9 122.4,343.7 125.7,343.4 128.9,343.0 132.1,342.6 135.3,342.2" fill="url(#penta11)"/>
<linearGradient id="penta12" gradientUnits="userSpaceOnUse" x1="28.2" y1="0" x2="135.4" y2="0"><stop offset="0.00" stop-color="#cd7f3e"/><stop offset="0.01" stop-color="#cb7e3d"/><stop offset="0.04" stop-color="#ca7d3d"/><stop offset="0.08" stop-color="#c87c3c"/><stop offset="0.14" stop-color="#c67b3c"/><stop offset="0.22" stop-color="#c47a3b"/><stop offset="0.31" stop-color="#c2783b"/><stop offset="0.41" stop-color="#bd7539"/><stop offset="0.52" stop-color="#b77137"/><stop offset="0.64" stop-color="#b16e35"/><stop offset="0.76" stop-color="#aa6a33"/><stop offset="0.88" stop-color="#9c612f"/><stop offset="1.00" stop-color="#8d582b"/></linearGradient>
<polygon points="135.4,323.7 132.1,324.1 128.9,324.5 125.6,324.8 122.3,325.1 118.9,325.3 115.6,325.4 112.3,325.5 108.9,325.5 105.6,325.5 102.2,325.4 98.9,325.2 95.6,325.0 92.4,324.7 89.1,324.3 85.9,323.9 82.8,323.4 79.7,322.9 76.7,322.3 73.7,321.6 70.8,320.9 67.9,320.2 65.2,319.4 62.5,318.5 59.9,317.6 57.4,316.7 54.9,315.7 52.6,314.6 50.4,313.5 48.2,312.4 46.2,311.3 44.2,310.1 42.4,308.9 40.7,307.6 39.1,306.4 37.6,305.1 36.2,303.8 34.9,302.4 33.7,301.1 32.7,299.7 31.7,298.3 30.9,297.0 30.2,295.6 29.5,294.2 29.0,292.7 28.7,291.3 28.4,289.9 28.2,288.5 29.7,304.0 29.9,305.5 30.2,306.9 30.6,308.4 31.1,309.8 31.7,311.3 32.4,312.7 33.2,314.2 34.2,315.6 35.2,317.0 36.4,318.4 37.6,319.8 39.0,321.2 40.5,322.5 42.1,323.8 43.8,325.1 45.6,326.3 47.5,327.6 49.5,328.8 51.6,329.9 53.8,331.0 56.1,332.1 58.5,333.1 61.0,334.1 63.6,335.0 66.2,335.9 69.0,336.8 71.8,337.5 74.6,338.3 77.5,338.9 80.5,339.6 83.6,340.1 86.7,340.6 89.8,341.0 93.0,341.4 96.2,341.7 99.4,342.0 102.7,342.1 106.0,342.2 109.3,342.3 112.6,342.3 115.8,342.2 119.1,342.1 122.4,341.8 125.7,341.6 128.9,341.2 132.1,340.8 135.3,340.4" fill="url(#penta12)"/>
<linearGradient id="penta13" gradientUnits="userSpaceOnUse" x1="28.2" y1="0" x2="135.4" y2="0"><stop offset="0.00" stop-color="#cf813f"/><stop offset="0.01" stop-color="#ce803e"/><stop offset="0.04" stop-color="#cc7e3e"/><stop offset="0.08" stop-color="#ca7d3d"/><stop offset="0.14" stop-color="#c87c3c"/><stop offset="0.22" stop-color="#c67b3c"/><stop offset="0.31" stop-color="#c47a3b"/><stop offset="0.41" stop-color="#bf763a"/><stop offset="0.52" stop-color="#b97338"/><stop offset="0.64" stop-color="#b26f36"/><stop offset="0.76" stop-color="#ac6b34"/><stop offset="0.88" stop-color="#9d6230"/><stop offset="1.00" stop-color="#8f582b"/></linearGradient>
<polygon points="135.4,323.7 132.1,324.1 128.9,324.5 125.6,324.8 122.3,325.1 118.9,325.3 115.6,325.4 112.3,325.5 108.9,325.5 105.6,325.5 102.2,325.4 98.9,325.2 95.6,325.0 92.4,324.7 89.1,324.3 85.9,323.9 82.8,323.4 79.7,322.9 76.7,322.3 73.7,321.6 70.8,320.9 67.9,320.2 65.2,319.4 62.5,318.5 59.9,317.6 57.4,316.7 54.9,315.7 52.6,314.6 50.4,313.5 48.2,312.4 46.2,311.3 44.2,310.1 42.4,308.9 40.7,307.6 39.1,306.4 37.6,305.1 36.2,303.8 34.9,302.4 33.7,301.1 32.7,299.7 31.7,298.3 30.9,297.0 30.2,295.6 29.5,294.2 29.0,292.7 28.7,291.3 28.4,289.9 28.2,288.5 29.5,302.3 29.7,303.8 30.0,305.2 30.4,306.7 30.9,308.1 31.5,309.6 32.2,311.0 33.1,312.4 34.0,313.9 35.1,315.3 36.2,316.7 37.5,318.0 38.9,319.4 40.4,320.7 41.9,322.0 43.7,323.3 45.5,324.6 47.4,325.8 49.4,327.0 51.5,328.1 53.7,329.2 56.0,330.3 58.4,331.3 60.9,332.3 63.5,333.2 66.1,334.1 68.8,334.9 71.6,335.7 74.5,336.4 77.4,337.1 80.4,337.7 83.5,338.3 86.6,338.8 89.7,339.2 92.9,339.6 96.1,339.9 99.4,340.1 102.6,340.3 105.9,340.4 109.2,340.5 112.5,340.4 115.8,340.4 119.1,340.2 122.4,340.0 125.7,339.7 128.9,339.4 132.1,339.0 135.3,338.5" fill="url(#penta13)"/>
<linearGradient id="penta14" gradientUnits="userSpaceOnUse" x1="28.2" y1="0" x2="135.4" y2="0"><stop offset="0.00" stop-color="#d2823f"/><stop offset="0.01" stop-color="#d0813f"/><stop offset="0.04" stop-color="#ce803e"/><stop offset="0.08" stop-color="#cc7e3e"/><stop offset="0.14" stop-color="#ca7d3d"/><stop offset="0.22" stop-color="#c87c3c"/><stop offset="0.31" stop-color="#c67b3c"/><stop offset="0.41" stop-color="#c1783a"/><stop offset="0.52" stop-color="#ba7438"/><stop offset="0.64" stop-color="#b47036"/><stop offset="0.76" stop-color="#ae6c35"/><stop offset="0.88" stop-color="#9f6330"/><stop offset="1.00" stop-color="#90592c"/></linearGradient>
<polygon points="135.4,323.7 132.1,324.1 128.9,324.5 125.6,324.8 122.3,325.1 118.9,325.3 115.6,325.4 112.3,325.5 108.9,325.5 105.6,325.5 102.2,325.4 98.9,325.2 95.6,325.0 92.4,324.7 89.1,324.3 85.9,323.9 82.8,323.4 79.7,322.9 76.7,322.3 73.7,321.6 70.8,320.9 67.9,320.2 65.2,319.4 62.5,318.5 59.9,317.6 57.4,316.7 54.9,315.7 52.6,314.6 50.4,313.5 48.2,312.4 46.2,311.3 44.2,310.1 42.4,308.9 40.7,307.6 39.1,306.4 37.6,305.1 36.2,303.8 34.9,302.4 33.7,301.1 32.7,299.7 31.7,298.3 30.9,297.0 30.2,295.6 29.5,294.2 29.0,292.7 28.7,291.3 28.4,289.9 28.2,288.5 29.4,300.6 29.5,302.0 29.8,303.5 30.2,304.9 30.7,306.4 31.3,307.8 32.1,309.3 32.9,310.7 33.8,312.1 34.9,313.5 36.0,314.9 37.3,316.3 38.7,317.6 40.2,319.0 41.8,320.3 43.5,321.5 45.3,322.8 47.2,324.0 49.2,325.2 51.4,326.3 53.6,327.4 55.9,328.5 58.3,329.5 60.8,330.5 63.3,331.4 66.0,332.3 68.7,333.1 71.5,333.9 74.4,334.6 77.4,335.3 80.4,335.9 83.4,336.4 86.5,336.9 89.7,337.4 92.8,337.7 96.1,338.0 99.3,338.3 102.6,338.5 105.9,338.6 109.2,338.6 112.5,338.6 115.8,338.5 119.1,338.4 122.4,338.2 125.6,337.9 128.9,337.6 132.1,337.2 135.3,336.7" fill="url(#penta14)"/>
<linearGradient id="penta15" gradientUnits="userSpaceOnUse" x1="28.2" y1="0" x2="135.4" y2="0"><stop offset="0.00" stop-color="#d48340"/><stop offset="0.01" stop-color="#d2823f"/><stop offset="0.04" stop-color="#d0813f"/><stop offset="0.08" stop-color="#ce803e"/><stop offset="0.14" stop-color="#cc7f3e"/><stop offset="0.22" stop-color="#ca7d3d"/><stop offset="0.31" stop-color="#c87c3c"/><stop offset="0.41" stop-color="#c3793b"/><stop offset="0.52" stop-color="#bc7539"/><stop offset="0.64" stop-color="#b67137"/><stop offset="0.76" stop-color="#b06d35"/><stop offset="0.88" stop-color="#a16430"/><stop offset="1.00" stop-color="#925a2c"/></linearGradient>
<polygon points="135.4,323.7 132.1,324.1 128.9,324.5 125.6,324.8 122.3,325.1 118.9,325.3 115.6,325.4 112.3,325.5 108.9,325.5 105.6,325.5 102.2,325.4 98.9,325.2 95.6,325.0 92.4,324.7 89.1,324.3 85.9,323.9 82.8,323.4 79.7,322.9 76.7,322.3 73.7,321.6 70.8,320.9 67.9,320.2 65.2,319.4 62.5,318.5 59.9,317.6 57.4,316.7 54.9,315.7 52.6,314.6 50.4,313.5 48.2,312.4 46.2,311.3 44.2,310.1 42.4,308.9 40.7,307.6 39.1,306.4 37.6,305.1 36.2,303.8 34.9,302.4 33.7,301.1 32.7,299.7 31.7,298.3 30.9,297.0 30.2,295.6 29.5,294.2 29.0,292.7 28.7,291.3 28.4,289.9 28.2,288.5 29.2,298.9 29.4,300.3 29.7,301.8 30.1,303.2 30.6,304.7 31.2,306.1 31.9,307.5 32.7,309.0 33.7,310.4 34.7,311.8 35.9,313.1 37.2,314.5 38.5,315.9 40.0,317.2 41.6,318.5 43.3,319.7 45.2,321.0 47.1,322.2 49.1,323.4 51.2,324.5 53.4,325.6 55.7,326.7 58.2,327.7 60.6,328.7 63.2,329.6 65.9,330.5 68.6,331.3 71.4,332.1 74.3,332.8 77.3,333.5 80.3,334.1 83.3,334.6 86.4,335.1 89.6,335.5 92.8,335.9 96.0,336.2 99.3,336.4 102.5,336.6 105.8,336.7 109.1,336.8 112.5,336.8 115.8,336.7 119.1,336.5 122.4,336.3 125.6,336.0 128.9,335.7 132.1,335.3 135.3,334.9" fill="url(#penta15)"/>
<linearGradient id="penta16" gradientUnits="userSpaceOnUse" x1="28.2" y1="0" x2="135.4" y2="0"><stop offset="0.00" stop-color="#d88641"/><stop offset="0.01" stop-color="#d68541"/><stop offset="0.04" stop-color="#d48440"/><stop offset="0.08" stop-color="#d2823f"/><stop offset="0.14" stop-color="#cf813f"/><stop offset="0.22" stop-color="#cd7f3e"/><stop offset="0.31" stop-color="#ca7d3d"/><stop offset="0.41" stop-color="#c57a3b"/><stop offset="0.52" stop-color="#be7639"/><stop offset="0.64" stop-color="#b87238"/><stop offset="0.76" stop-color="#b16e36"/><stop offset="0.88" stop-color="#a26531"/><stop offset="1.00" stop-color="#935b2c"/></linearGradient>
<polygon points="135.4,323.7 132.1,324.1 128.9,324.5 125.6,324.8 122.3,325.1 118.9,325.3 115.6,325.4 112.3,325.5 108.9,325.5 105.6,325.5 102.2,325.4 98.9,325.2 95.6,325.0 92.4,324.7 89.1,324.3 85.9,323.9 82.8,323.4 79.7,322.9 76.7,322.3 73.7,321.6 70.8,320.9 67.9,320.2 65.2,319.4 62.5,318.5 59.9,317.6 57.4,316.7 54.9,315.7 52.6,314.6 50.4,313.5 48.2,312.4 46.2,311.3 44.2,310.1 42.4,308.9 40.7,307.6 39.1,306.4 37.6,305.1 36.2,303.8 34.9,302.4 33.7,301.1 32.7,299.7 31.7,298.3 30.9,297.0 30.2,295.6 29.5,294.2 29.0,292.7 28.7,291.3 28.4,289.9 28.2,288.5 29.0,297.2 29.2,298.6 29.5,300.0 29.9,301.5 30.4,302.9 31.0,304.4 31.7,305.8 32.6,307.2 33.5,308.6 34.6,310.0 35.7,311.4 37.0,312.7 38.4,314.1 39.9,315.4 41.5,316.7 43.2,318.0 45.0,319.2 46.9,320.4 49.0,321.6 51.1,322.7 53.3,323.8 55.6,324.9 58.0,325.9 60.5,326.8 63.1,327.8 65.8,328.6 68.5,329.5 71.3,330.2 74.2,330.9 77.2,331.6 80.2,332.2 83.2,332.8 86.3,333.2 89.5,333.7 92.7,334.0 95.9,334.3 99.2,334.6 102.5,334.8 105.8,334.9 109.1,334.9 112.4,334.9 115.7,334.8 119.1,334.7 122.3,334.5 125.6,334.2 128.9,333.9 132.1,333.5 135.3,333.0" fill="url(#penta16)"/>
<linearGradient id="penta17" gradientUnits="userSpaceOnUse" x1="28.2" y1="0" x2="135.4" y2="0"><stop offset="0.00" stop-color="#e68e45"/><stop offset="0.01" stop-color="#e58e45"/><stop offset="0.04" stop-color="#e28c44"/><stop offset="0.08" stop-color="#dd8943"/><stop offset="0.14" stop-color="#d78541"/><stop offset="0.22" stop-color="#d1823f"/><stop offset="0.31" stop-color="#cc7f3e"/><stop offset="0.41" stop-color="#c77b3c"/><stop offset="0.52" stop-color="#c0773a"/><stop offset="0.64" stop-color="#ba7338"/><stop offset="0.76" stop-color="#b36f36"/><stop offset="0.88" stop-color="#a46631"/><stop offset="1.00" stop-color="#945c2d"/></linearGradient>
<polygon points="135.4,323.7 132.1,324.1 128.9,324.5 125.6,324.8 122.3,325.1 118.9,325.3 115.6,325.4 112.3,325.5 108.9,325.5 105.6,325.5 102.2,325.4 98.9,325.2 95.6,325.0 92.4,324.7 89.1,324.3 85.9,323.9 82.8,323.4 79.7,322.9 76.7,322.3 73.7,321.6 70.8,320.9 67.9,320.2 65.2,319.4 62.5,318.5 59.9,317.6 57.4,316.7 54.9,315.7 52.6,314.6 50.4,313.5 48.2,312.4 46.2,311.3 44.2,310.1 42.4,308.9 40.7,307.6 39.1,306.4 37.6,305.1 36.2,303.8 34.9,302.4 33.7,301.1 32.7,299.7 31.7,298.3 30.9,297.0 30.2,295.6 29.5,294.2 29.0,292.7 28.7,291.3 28.4,289.9 28.2,288.5 28.9,295.4 29.0,296.9 29.3,298.3 29.7,299.8 30.2,301.2 30.8,302.6 31.6,304.0 32.4,305.4 33.3,306.8 34.4,308.2 35.6,309.6 36.8,311.0 38.2,312.3 39.7,313.6 41.3,314.9 43.0,316.2 44.9,317.4 46.8,318.6 48.8,319.7 50.9,320.9 53.2,322.0 55.5,323.0 57.9,324.0 60.4,325.0 63.0,325.9 65.6,326.8 68.4,327.6 71.2,328.4 74.1,329.1 77.1,329.8 80.1,330.4 83.1,330.9 86.3,331.4 89.4,331.8 92.6,332.2 95.9,332.5 99.1,332.7 102.4,332.9 105.7,333.0 109.1,333.1 112.4,333.0 115.7,333.0 119.0,332.8 122.3,332.6 125.6,332.3 128.9,332.0 132.1,331.6 135.3,331.2" fill="url(#penta17)"/>
<linearGradient id="penta18" gradientUnits="userSpaceOnUse" x1="28.2" y1="0" x2="135.4" y2="0"><stop offset="0.00" stop-color="#f09549"/><stop offset="0.01" stop-color="#f09548"/><stop offset="0.04" stop-color="#ee9348"/><stop offset="0.08" stop-color="#e68f45"/><stop offset="0.14" stop-color="#de8a43"/><stop offset="0.22" stop-color="#d58440"/><stop offset="0.31" stop-color="#ce803e"/><stop offset="0.41" stop-color="#c97c3d"/><stop offset="0.52" stop-color="#c2783b"/><stop offset="0.64" stop-color="#bb7439"/><stop offset="0.76" stop-color="#b57037"/><stop offset="0.88" stop-color="#a56732"/><stop offset="1.00" stop-color="#965d2d"/></linearGradient>
<polygon points="135.4,323.7 132.1,324.1 128.9,324.5 125.6,324.8 122.3,325.1 118.9,325.3 115.6,325.4 112.3,325.5 108.9,325.5 105.6,325.5 102.2,325.4 98.9,325.2 95.6,325.0 92.4,324.7 89.1,324.3 85.9,323.9 82.8,323.4 79.7,322.9 76.7,322.3 73.7,321.6 70.8,320.9 67.9,320.2 65.2,319.4 62.5,318.5 59.9,317.6 57.4,316.7 54.9,315.7 52.6,314.6 50.4,313.5 48.2,312.4 46.2,311.3 44.2,310.1 42.4,308.9 40.7,307.6 39.1,306.4 37.6,305.1 36.2,303.8 34.9,302.4 33.7,301.1 32.7,299.7 31.7,298.3 30.9,297.0 30.2,295.6 29.5,294.2 29.0,292.7 28.7,291.3 28.4,289.9 28.2,288.5 28.7,293.7 28.9,295.2 29.2,296.6 29.6,298.0 30.1,299.4 30.7,300.9 31.4,302.3 32.2,303.7 33.2,305.1 34.2,306.5 35.4,307.8 36.7,309.2 38.1,310.5 39.6,311.8 41.2,313.1 42.9,314.3 44.7,315.6 46.6,316.8 48.7,317.9 50.8,319.1 53.0,320.1 55.3,321.2 57.8,322.2 60.3,323.2 62.9,324.1 65.5,324.9 68.3,325.8 71.1,326.5 74.0,327.2 77.0,327.9 80.0,328.5 83.1,329.0 86.2,329.5 89.4,330.0 92.6,330.3 95.8,330.6 99.1,330.9 102.4,331.0 105.7,331.1 109.0,331.2 112.4,331.2 115.7,331.1 119.0,331.0 122.3,330.7 125.6,330.5 128.9,330.1 132.1,329.7 135.3,329.3" fill="url(#penta18)"/>
<linearGradient id="penta19" gradientUnits="userSpaceOnUse" x1="28.2" y1="0" x2="135.4" y2="0"><stop offset="0.00" stop-color="#f19649"/><stop offset="0.01" stop-color="#f19649"/><stop offset="0.04" stop-color="#ef9448"/><stop offset="0.08" stop-color="#e89046"/><stop offset="0.14" stop-color="#df8b43"/><stop offset="0.22" stop-color="#d68541"/><stop offset="0.31" stop-color="#d0813f"/><stop offset="0.41" stop-color="#cb7e3d"/><stop offset="0.52" stop-color="#c47a3b"/><stop offset="0.64" stop-color="#bd7539"/><stop offset="0.76" stop-color="#b77137"/><stop offset="0.88" stop-color="#a76832"/><stop offset="1.00" stop-color="#975e2e"/></linearGradient>
<polygon points="135.4,323.7 132.1,324.1 128.9,324.5 125.6,324.8 122.3,325.1 118.9,325.3 115.6,325.4 112.3,325.5 108.9,325.5 105.6,325.5 102.2,325.4 98.9,325.2 95.6,325.0 92.4,324.7 89.1,324.3 85.9,323.9 82.8,323.4 79.7,322.9 76.7,322.3 73.7,321.6 70.8,320.9 67.9,320.2 65.2,319.4 62.5,318.5 59.9,317.6 57.4,316.7 54.9,315.7 52.6,314.6 50.4,313.5 48.2,312.4 46.2,311.3 44.2,310.1 42.4,308.9 40.7,307.6 39.1,306.4 37.6,305.1 36.2,303.8 34.9,302.4 33.7,301.1 32.7,299.7 31.7,298.3 30.9,297.0 30.2,295.6 29.5,294.2 29.0,292.7 28.7,291.3 28.4,289.9 28.2,288.5 28.5,292.0 28.7,293.4 29.0,294.8 29.4,296.3 29.9,297.7 30.5,299.1 31.2,300.5 32.1,301.9 33.0,303.3 34.1,304.7 35.2,306.0 36.5,307.4 37.9,308.7 39.4,310.0 41.0,311.3 42.7,312.5 44.6,313.8 46.5,314.9 48.5,316.1 50.7,317.2 52.9,318.3 55.2,319.4 57.6,320.4 60.1,321.3 62.7,322.2 65.4,323.1 68.2,323.9 71.0,324.7 73.9,325.4 76.9,326.0 79.9,326.6 83.0,327.2 86.1,327.7 89.3,328.1 92.5,328.4 95.8,328.7 99.0,329.0 102.3,329.2 105.7,329.3 109.0,329.3 112.3,329.3 115.7,329.2 119.0,329.1 122.3,328.9 125.6,328.6 128.9,328.3 132.1,327.9 135.3,327.4" fill="url(#penta19)"/>
<linearGradient id="penta20" gradientUnits="userSpaceOnUse" x1="28.2" y1="0" x2="135.4" y2="0"><stop offset="0.00" stop-color="#f29649"/><stop offset="0.01" stop-color="#f19649"/><stop offset="0.04" stop-color="#ef9448"/><stop offset="0.08" stop-color="#e89046"/><stop offset="0.14" stop-color="#e18b44"/><stop offset="0.22" stop-color="#d88641"/><stop offset="0.31" stop-color="#d28240"/><stop offset="0.41" stop-color="#cc7f3e"/><stop offset="0.52" stop-color="#c67b3c"/><stop offset="0.64" stop-color="#bf773a"/><stop offset="0.76" stop-color="#b87238"/><stop offset="0.88" stop-color="#a96933"/><stop offset="1.00" stop-color="#995f2e"/></linearGradient>
<polygon points="135.4,323.7 132.1,324.1 128.9,324.5 125.6,324.8 122.3,325.1 118.9,325.3 115.6,325.4 112.3,325.5 108.9,325.5 105.6,325.5 102.2,325.4 98.9,325.2 95.6,325.0 92.4,324.7 89.1,324.3 85.9,323.9 82.8,323.4 79.7,322.9 76.7,322.3 73.7,321.6 70.8,320.9 67.9,320.2 65.2,319.4 62.5,318.5 59.9,317.6 57.4,316.7 54.9,315.7 52.6,314.6 50.4,313.5 48.2,312.4 46.2,311.3 44.2,310.1 42.4,308.9 40.7,307.6 39.1,306.4 37.6,305.1 36.2,303.8 34.9,302.4 33.7,301.1 32.7,299.7 31.7,298.3 30.9,297.0 30.2,295.6 29.5,294.2 29.0,292.7 28.7,291.3 28.4,289.9 28.2,288.5 28.4,290.3 28.5,291.7 28.8,293.1 29.2,294.5 29.7,295.9 30.3,297.3 31.1,298.7 31.9,300.1 32.8,301.5 33.9,302.9 35.1,304.2 36.3,305.6 37.7,306.9 39.2,308.2 40.9,309.5 42.6,310.7 44.4,311.9 46.3,313.1 48.4,314.3 50.5,315.4 52.7,316.5 55.1,317.5 57.5,318.5 60.0,319.5 62.6,320.4 65.3,321.2 68.1,322.0 70.9,322.8 73.8,323.5 76.8,324.2 79.8,324.8 82.9,325.3 86.0,325.8 89.2,326.2 92.4,326.6 95.7,326.9 99.0,327.1 102.3,327.3 105.6,327.4 108.9,327.4 112.3,327.4 115.6,327.3 119.0,327.2 122.3,327.0 125.6,326.7 128.9,326.4 132.1,326.0 135.3,325.5" fill="url(#penta20)"/>
<polygon points="112.5,280.4 135.4,323.7 132.1,324.1 128.9,324.5 125.6,324.8 122.3,325.1 118.9,325.3 115.6,325.4 112.3,325.5 108.9,325.5 105.6,325.5 102.2,325.4 98.9,325.2 95.6,325.0 92.4,324.7 89.1,324.3 85.9,323.9 82.8,323.4 79.7,322.9 76.7,322.3 73.7,321.6 70.8,320.9 67.9,320.2 65.2,319.4 62.5,318.5 59.9,317.6 57.4,316.7 54.9,315.7 52.6,314.6 50.4,313.5 48.2,312.4 46.2,311.3 44.2,310.1 42.4,308.9 40.7,307.6 39.1,306.4 37.6,305.1 36.2,303.8 34.9,302.4 33.7,301.1 32.7,299.7 31.7,298.3 30.9,297.0 30.2,295.6 29.5,294.2 29.0,292.7 28.7,291.3 28.4,289.9 28.2,288.5 28.1,287.1 28.2,285.7 28.3,284.3 28.5,282.9 28.9,281.5 29.3,280.2 29.8,278.8 30.5,277.5 31.2,276.2 32.0,274.9 32.9,273.6 33.9,272.3 35.0,271.0 36.1,269.8 37.3,268.6 38.6,267.4 40.0,266.3 41.5,265.2 43.0,264.1 44.6,263.0 46.2,261.9 47.9,260.9 49.7,259.9" fill="#f5984a" stroke="#f5984a" stroke-width="0.35"/>
<polygon points="144.6,282.0 196.7,319.9 195.4,338.3 144.4,298.9" fill="#193355" stroke="#193355" stroke-width="0.35"/>
<linearGradient id="penta21" gradientUnits="userSpaceOnUse" x1="196.7" y1="0" x2="217.8" y2="0"><stop offset="0.00" stop-color="#1d3a62"/><stop offset="0.38" stop-color="#1b365a"/><stop offset="0.72" stop-color="#1a3457"/><stop offset="1.00" stop-color="#193355"/></linearGradient>
<polygon points="217.8,308.7 216.1,309.9 214.3,311.2 212.5,312.4 210.5,313.6 208.4,314.7 206.3,315.8 204.0,316.9 201.6,317.9 199.2,318.9 196.7,319.9 195.4,338.3 197.9,337.3 200.4,336.2 202.7,335.2 204.9,334.1 207.0,332.9 209.1,331.7 211.0,330.5 212.9,329.2 214.6,328.0 216.2,326.6" fill="url(#penta21)"/>
<linearGradient id="penta22" gradientUnits="userSpaceOnUse" x1="196.7" y1="0" x2="217.8" y2="0"><stop offset="0.00" stop-color="#1d3b63"/><stop offset="0.38" stop-color="#1b365b"/><stop offset="0.72" stop-color="#1a3558"/><stop offset="1.00" stop-color="#1a3356"/></linearGradient>
<polygon points="217.8,308.7 216.1,309.9 214.3,311.2 212.5,312.4 210.5,313.6 208.4,314.7 206.3,315.8 204.0,316.9 201.6,317.9 199.2,318.9 196.7,319.9 195.6,336.4 198.1,335.5 200.5,334.4 202.8,333.4 205.0,332.3 207.2,331.1 209.2,329.9 211.2,328.7 213.0,327.5 214.7,326.2 216.4,324.9" fill="url(#penta22)"/>
<linearGradient id="penta23" gradientUnits="userSpaceOnUse" x1="196.7" y1="0" x2="217.8" y2="0"><stop offset="0.00" stop-color="#1e3c64"/><stop offset="0.38" stop-color="#1b375c"/><stop offset="0.72" stop-color="#1a3559"/><stop offset="1.00" stop-color="#1a3457"/></linearGradient>
<polygon points="217.8,308.7 216.1,309.9 214.3,311.2 212.5,312.4 210.5,313.6 208.4,314.7 206.3,315.8 204.0,316.9 201.6,317.9 199.2,318.9 196.7,319.9 195.7,334.6 198.2,333.7 200.6,332.6 202.9,331.6 205.2,330.5 207.3,329.3 209.4,328.1 211.3,326.9 213.1,325.7 214.9,324.4 216.5,323.1" fill="url(#penta23)"/>
<linearGradient id="penta24" gradientUnits="userSpaceOnUse" x1="196.7" y1="0" x2="217.8" y2="0"><stop offset="0.00" stop-color="#1e3c65"/><stop offset="0.38" stop-color="#1c385d"/><stop offset="0.72" stop-color="#1b365a"/><stop offset="1.00" stop-color="#1a3558"/></linearGradient>
<polygon points="217.8,308.7 216.1,309.9 214.3,311.2 212.5,312.4 210.5,313.6 208.4,314.7 206.3,315.8 204.0,316.9 201.6,317.9 199.2,318.9 196.7,319.9 195.8,332.8 198.3,331.8 200.7,330.8 203.1,329.8 205.3,328.7 207.5,327.5 209.5,326.3 211.5,325.1 213.3,323.9 215.0,322.6 216.7,321.3" fill="url(#penta24)"/>
<linearGradient id="penta25" gradientUnits="userSpaceOnUse" x1="196.7" y1="0" x2="217.8" y2="0"><stop offset="0.00" stop-color="#1e3d66"/><stop offset="0.38" stop-color="#1c385e"/><stop offset="0.72" stop-color="#1b365b"/><stop offset="1.00" stop-color="#1a3559"/></linearGradient>
<polygon points="217.8,308.7 216.1,309.9 214.3,311.2 212.5,312.4 210.5,313.6 208.4,314.7 206.3,315.8 204.0,316.9 201.6,317.9 199.2,318.9 196.7,319.9 195.9,331.0 198.4,330.0 200.9,329.0 203.2,327.9 205.4,326.8 207.6,325.7 209.6,324.5 211.6,323.3 213.4,322.1 215.2,320.8 216.8,319.5" fill="url(#penta25)"/>
<linearGradient id="penta26" gradientUnits="userSpaceOnUse" x1="196.7" y1="0" x2="217.8" y2="0"><stop offset="0.00" stop-color="#1f3e67"/><stop offset="0.38" stop-color="#1c395f"/><stop offset="0.72" stop-color="#1b375c"/><stop offset="1.00" stop-color="#1b365a"/></linearGradient>
<polygon points="217.8,308.7 216.1,309.9 214.3,311.2 212.5,312.4 210.5,313.6 208.4,314.7 206.3,315.8 204.0,316.9 201.6,317.9 199.2,318.9 196.7,319.9 196.0,329.2 198.6,328.2 201.0,327.2 203.3,326.1 205.6,325.0 207.7,323.9 209.8,322.7 211.7,321.5 213.6,320.3 215.3,319.0 217.0,317.7" fill="url(#penta26)"/>
<linearGradient id="penta27" gradientUnits="userSpaceOnUse" x1="196.7" y1="0" x2="217.8" y2="0"><stop offset="0.00" stop-color="#1f3e68"/><stop offset="0.38" stop-color="#1c3960"/><stop offset="0.72" stop-color="#1b375d"/><stop offset="1.00" stop-color="#1b365b"/></linearGradient>
<polygon points="217.8,308.7 216.1,309.9 214.3,311.2 212.5,312.4 210.5,313.6 208.4,314.7 206.3,315.8 204.0,316.9 201.6,317.9 199.2,318.9 196.7,319.9 196.2,327.3 198.7,326.4 201.1,325.3 203.5,324.3 205.7,323.2 207.9,322.1 209.9,320.9 211.9,319.7 213.7,318.5 215.5,317.2 217.1,315.9" fill="url(#penta27)"/>
<linearGradient id="penta28" gradientUnits="userSpaceOnUse" x1="196.7" y1="0" x2="217.8" y2="0"><stop offset="0.00" stop-color="#1f3f69"/><stop offset="0.38" stop-color="#1d3a61"/><stop offset="0.72" stop-color="#1c385d"/><stop offset="1.00" stop-color="#1b375c"/></linearGradient>
<polygon points="217.8,308.7 216.1,309.9 214.3,311.2 212.5,312.4 210.5,313.6 208.4,314.7 206.3,315.8 204.0,316.9 201.6,317.9 199.2,318.9 196.7,319.9 196.3,325.5 198.8,324.5 201.3,323.5 203.6,322.5 205.9,321.4 208.0,320.2 210.1,319.1 212.0,317.9 213.9,316.7 215.6,315.4 217.3,314.1" fill="url(#penta28)"/>
<linearGradient id="penta29" gradientUnits="userSpaceOnUse" x1="196.7" y1="0" x2="217.8" y2="0"><stop offset="0.00" stop-color="#1f3f6a"/><stop offset="0.38" stop-color="#1d3a62"/><stop offset="0.72" stop-color="#1c385e"/><stop offset="1.00" stop-color="#1b375c"/></linearGradient>
<polygon points="217.8,308.7 216.1,309.9 214.3,311.2 212.5,312.4 210.5,313.6 208.4,314.7 206.3,315.8 204.0,316.9 201.6,317.9 199.2,318.9 196.7,319.9 196.4,323.6 198.9,322.7 201.4,321.7 203.7,320.6 206.0,319.5 208.2,318.4 210.2,317.3 212.2,316.1 214.0,314.8 215.8,313.6 217.4,312.3" fill="url(#penta29)"/>
<linearGradient id="penta30" gradientUnits="userSpaceOnUse" x1="196.7" y1="0" x2="217.8" y2="0"><stop offset="0.00" stop-color="#20406b"/><stop offset="0.38" stop-color="#1d3b63"/><stop offset="0.72" stop-color="#1c395f"/><stop offset="1.00" stop-color="#1c385d"/></linearGradient>
<polygon points="217.8,308.7 216.1,309.9 214.3,311.2 212.5,312.4 210.5,313.6 208.4,314.7 206.3,315.8 204.0,316.9 201.6,317.9 199.2,318.9 196.7,319.9 196.5,321.7 199.1,320.8 201.5,319.8 203.9,318.8 206.1,317.7 208.3,316.6 210.4,315.4 212.3,314.2 214.2,313.0 215.9,311.8 217.6,310.5" fill="url(#penta30)"/>
<polygon points="144.6,282.0 217.8,308.7 216.1,309.9 214.3,311.2 212.5,312.4 210.5,313.6 208.4,314.7 206.3,315.8 204.0,316.9 201.6,317.9 199.2,318.9 196.7,319.9" fill="#3d7bce" stroke="#3d7bce" stroke-width="0.35"/>
<polygon points="140.8,283.3 185.8,323.8 184.7,342.3 140.7,300.3" fill="#4f1919" stroke="#4f1919" stroke-width="0.35"/>
<linearGradient id="penta31" gradientUnits="userSpaceOnUse" x1="185.8" y1="0" x2="192.7" y2="0"><stop offset="0.00" stop-color="#631f20"/><stop offset="1.00" stop-color="#5d1d1e"/></linearGradient>
<polygon points="192.7,321.5 190.4,322.3 188.1,323.1 185.8,323.8 184.7,342.3 187.0,341.6 189.3,340.8 191.5,340.0" fill="url(#penta31)"/>
<linearGradient id="penta32" gradientUnits="userSpaceOnUse" x1="185.8" y1="0" x2="192.7" y2="0"><stop offset="0.00" stop-color="#642020"/><stop offset="1.00" stop-color="#5e1e1e"/></linearGradient>
<polygon points="192.7,321.5 190.4,322.3 188.1,323.1 185.8,323.8 184.8,340.5 187.1,339.7 189.4,339.0 191.6,338.2" fill="url(#penta32)"/>
<linearGradient id="penta33" gradientUnits="userSpaceOnUse" x1="185.8" y1="0" x2="192.7" y2="0"><stop offset="0.00" stop-color="#652020"/><stop offset="1.00" stop-color="#5f1e1f"/></linearGradient>
<polygon points="192.7,321.5 190.4,322.3 188.1,323.1 185.8,323.8 184.9,338.6 187.3,337.9 189.5,337.2 191.7,336.4" fill="url(#penta33)"/>
<linearGradient id="penta34" gradientUnits="userSpaceOnUse" x1="185.8" y1="0" x2="192.7" y2="0"><stop offset="0.00" stop-color="#662021"/><stop offset="1.00" stop-color="#601e1f"/></linearGradient>
<polygon points="192.7,321.5 190.4,322.3 188.1,323.1 185.8,323.8 185.0,336.8 187.4,336.1 189.6,335.3 191.8,334.5" fill="url(#penta34)"/>
<linearGradient id="penta35" gradientUnits="userSpaceOnUse" x1="185.8" y1="0" x2="192.7" y2="0"><stop offset="0.00" stop-color="#672121"/><stop offset="1.00" stop-color="#611f1f"/></linearGradient>
<polygon points="192.7,321.5 190.4,322.3 188.1,323.1 185.8,323.8 185.1,335.0 187.5,334.2 189.7,333.5 192.0,332.7" fill="url(#penta35)"/>
<linearGradient id="penta36" gradientUnits="userSpaceOnUse" x1="185.8" y1="0" x2="192.7" y2="0"><stop offset="0.00" stop-color="#682121"/><stop offset="1.00" stop-color="#621f20"/></linearGradient>
<polygon points="192.7,321.5 190.4,322.3 188.1,323.1 185.8,323.8 185.2,333.1 187.6,332.4 189.9,331.6 192.1,330.9" fill="url(#penta36)"/>
<linearGradient id="penta37" gradientUnits="userSpaceOnUse" x1="185.8" y1="0" x2="192.7" y2="0"><stop offset="0.00" stop-color="#692122"/><stop offset="1.00" stop-color="#631f20"/></linearGradient>
<polygon points="192.7,321.5 190.4,322.3 188.1,323.1 185.8,323.8 185.3,331.3 187.7,330.5 190.0,329.8 192.2,329.0" fill="url(#penta37)"/>
<linearGradient id="penta38" gradientUnits="userSpaceOnUse" x1="185.8" y1="0" x2="192.7" y2="0"><stop offset="0.00" stop-color="#6a2222"/><stop offset="1.00" stop-color="#642020"/></linearGradient>
<polygon points="192.7,321.5 190.4,322.3 188.1,323.1 185.8,323.8 185.4,329.4 187.8,328.7 190.1,327.9 192.3,327.2" fill="url(#penta38)"/>
<linearGradient id="penta39" gradientUnits="userSpaceOnUse" x1="185.8" y1="0" x2="192.7" y2="0"><stop offset="0.00" stop-color="#6b2222"/><stop offset="1.00" stop-color="#652020"/></linearGradient>
<polygon points="192.7,321.5 190.4,322.3 188.1,323.1 185.8,323.8 185.5,327.5 187.9,326.8 190.2,326.1 192.4,325.3" fill="url(#penta39)"/>
<linearGradient id="penta40" gradientUnits="userSpaceOnUse" x1="185.8" y1="0" x2="192.7" y2="0"><stop offset="0.00" stop-color="#6c2223"/><stop offset="1.00" stop-color="#662021"/></linearGradient>
<polygon points="192.7,321.5 190.4,322.3 188.1,323.1 185.8,323.8 185.6,325.7 188.0,324.9 190.3,324.2 192.5,323.4" fill="url(#penta40)"/>
<polygon points="140.8,283.3 192.7,321.5 190.4,322.3 188.1,323.1 185.8,323.8" fill="#c43e3f" stroke="#c43e3f" stroke-width="0.35"/>
<polygon points="139.6,283.6 181.3,325.0 180.4,343.6 139.5,300.6" fill="#384a1e" stroke="#384a1e" stroke-width="0.35"/>
<linearGradient id="penta41" gradientUnits="userSpaceOnUse" x1="181.3" y1="0" x2="184.4" y2="0"><stop offset="0.00" stop-color="#495f26"/><stop offset="1.00" stop-color="#475d25"/></linearGradient>
<polygon points="184.4,324.2 182.9,324.6 181.3,325.0 180.4,343.6 181.9,343.1 183.4,342.7" fill="url(#penta41)"/>
<linearGradient id="penta42" gradientUnits="userSpaceOnUse" x1="181.3" y1="0" x2="184.4" y2="0"><stop offset="0.00" stop-color="#4a6027"/><stop offset="1.00" stop-color="#485e26"/></linearGradient>
<polygon points="184.4,324.2 182.9,324.6 181.3,325.0 180.5,341.8 182.0,341.3 183.5,340.9" fill="url(#penta42)"/>
<linearGradient id="penta43" gradientUnits="userSpaceOnUse" x1="181.3" y1="0" x2="184.4" y2="0"><stop offset="0.00" stop-color="#4a6127"/><stop offset="1.00" stop-color="#495f26"/></linearGradient>
<polygon points="184.4,324.2 182.9,324.6 181.3,325.0 180.6,339.9 182.1,339.5 183.6,339.0" fill="url(#penta43)"/>
<linearGradient id="penta44" gradientUnits="userSpaceOnUse" x1="181.3" y1="0" x2="184.4" y2="0"><stop offset="0.00" stop-color="#4b6227"/><stop offset="1.00" stop-color="#496026"/></linearGradient>
<polygon points="184.4,324.2 182.9,324.6 181.3,325.0 180.6,338.1 182.2,337.7 183.7,337.2" fill="url(#penta44)"/>
<linearGradient id="penta45" gradientUnits="userSpaceOnUse" x1="181.3" y1="0" x2="184.4" y2="0"><stop offset="0.00" stop-color="#4c6328"/><stop offset="1.00" stop-color="#4a6127"/></linearGradient>
<polygon points="184.4,324.2 182.9,324.6 181.3,325.0 180.7,336.2 182.3,335.8 183.8,335.4" fill="url(#penta45)"/>
<linearGradient id="penta46" gradientUnits="userSpaceOnUse" x1="181.3" y1="0" x2="184.4" y2="0"><stop offset="0.00" stop-color="#4d6428"/><stop offset="1.00" stop-color="#4b6227"/></linearGradient>
<polygon points="184.4,324.2 182.9,324.6 181.3,325.0 180.8,334.4 182.4,334.0 183.9,333.5" fill="url(#penta46)"/>
<linearGradient id="penta47" gradientUnits="userSpaceOnUse" x1="181.3" y1="0" x2="184.4" y2="0"><stop offset="0.00" stop-color="#4d6529"/><stop offset="1.00" stop-color="#4c6328"/></linearGradient>
<polygon points="184.4,324.2 182.9,324.6 181.3,325.0 180.9,332.5 182.5,332.1 184.0,331.7" fill="url(#penta47)"/>
<linearGradient id="penta48" gradientUnits="userSpaceOnUse" x1="181.3" y1="0" x2="184.4" y2="0"><stop offset="0.00" stop-color="#4e6629"/><stop offset="1.00" stop-color="#4c6428"/></linearGradient>
<polygon points="184.4,324.2 182.9,324.6 181.3,325.0 181.0,330.7 182.6,330.2 184.1,329.8" fill="url(#penta48)"/>
<linearGradient id="penta49" gradientUnits="userSpaceOnUse" x1="181.3" y1="0" x2="184.4" y2="0"><stop offset="0.00" stop-color="#4f6729"/><stop offset="1.00" stop-color="#4d6528"/></linearGradient>
<polygon points="184.4,324.2 182.9,324.6 181.3,325.0 181.1,328.8 182.7,328.4 184.2,327.9" fill="url(#penta49)"/>
<linearGradient id="penta50" gradientUnits="userSpaceOnUse" x1="181.3" y1="0" x2="184.4" y2="0"><stop offset="0.00" stop-color="#50682a"/><stop offset="1.00" stop-color="#4e6629"/></linearGradient>
<polygon points="184.4,324.2 182.9,324.6 181.3,325.0 181.2,326.9 182.8,326.5 184.3,326.1" fill="url(#penta50)"/>
<polygon points="139.6,283.6 184.4,324.2 182.9,324.6 181.3,325.0" fill="#8db84a" stroke="#8db84a" stroke-width="0.35"/>
<polygon points="137.8,284.0 166.6,328.2 165.9,346.9 137.7,301.0" fill="#322645" stroke="#322645" stroke-width="0.35"/>
<linearGradient id="penta51" gradientUnits="userSpaceOnUse" x1="166.6" y1="0" x2="179.3" y2="0"><stop offset="0.00" stop-color="#473661"/><stop offset="0.51" stop-color="#44345d"/><stop offset="1.00" stop-color="#413259"/></linearGradient>
<polygon points="179.3,325.5 176.8,326.1 174.3,326.7 171.8,327.2 169.2,327.7 166.6,328.2 165.9,346.9 168.5,346.4 171.0,345.9 173.5,345.3 176.0,344.7 178.4,344.1" fill="url(#penta51)"/>
<linearGradient id="penta52" gradientUnits="userSpaceOnUse" x1="166.6" y1="0" x2="179.3" y2="0"><stop offset="0.00" stop-color="#483762"/><stop offset="0.51" stop-color="#45345e"/><stop offset="1.00" stop-color="#42325a"/></linearGradient>
<polygon points="179.3,325.5 176.8,326.1 174.3,326.7 171.8,327.2 169.2,327.7 166.6,328.2 166.0,345.0 168.6,344.6 171.1,344.0 173.6,343.5 176.1,342.9 178.5,342.3" fill="url(#penta52)"/>
<linearGradient id="penta53" gradientUnits="userSpaceOnUse" x1="166.6" y1="0" x2="179.3" y2="0"><stop offset="0.00" stop-color="#493763"/><stop offset="0.51" stop-color="#46355f"/><stop offset="1.00" stop-color="#42335b"/></linearGradient>
<polygon points="179.3,325.5 176.8,326.1 174.3,326.7 171.8,327.2 169.2,327.7 166.6,328.2 166.1,343.2 168.6,342.7 171.2,342.2 173.7,341.7 176.1,341.1 178.6,340.4" fill="url(#penta53)"/>
<linearGradient id="penta54" gradientUnits="userSpaceOnUse" x1="166.6" y1="0" x2="179.3" y2="0"><stop offset="0.00" stop-color="#493864"/><stop offset="0.51" stop-color="#463660"/><stop offset="1.00" stop-color="#43335c"/></linearGradient>
<polygon points="179.3,325.5 176.8,326.1 174.3,326.7 171.8,327.2 169.2,327.7 166.6,328.2 166.1,341.3 168.7,340.9 171.3,340.4 173.8,339.8 176.2,339.2 178.7,338.6" fill="url(#penta54)"/>
<linearGradient id="penta55" gradientUnits="userSpaceOnUse" x1="166.6" y1="0" x2="179.3" y2="0"><stop offset="0.00" stop-color="#4a3865"/><stop offset="0.51" stop-color="#473661"/><stop offset="1.00" stop-color="#44345d"/></linearGradient>
<polygon points="179.3,325.5 176.8,326.1 174.3,326.7 171.8,327.2 169.2,327.7 166.6,328.2 166.2,339.5 168.8,339.0 171.3,338.5 173.8,338.0 176.3,337.4 178.7,336.7" fill="url(#penta55)"/>
<linearGradient id="penta56" gradientUnits="userSpaceOnUse" x1="166.6" y1="0" x2="179.3" y2="0"><stop offset="0.00" stop-color="#4b3966"/><stop offset="0.51" stop-color="#483762"/><stop offset="1.00" stop-color="#45345e"/></linearGradient>
<polygon points="179.3,325.5 176.8,326.1 174.3,326.7 171.8,327.2 169.2,327.7 166.6,328.2 166.3,337.6 168.9,337.2 171.4,336.6 173.9,336.1 176.4,335.5 178.8,334.9" fill="url(#penta56)"/>
<linearGradient id="penta57" gradientUnits="userSpaceOnUse" x1="166.6" y1="0" x2="179.3" y2="0"><stop offset="0.00" stop-color="#4c3a67"/><stop offset="0.51" stop-color="#483763"/><stop offset="1.00" stop-color="#45355e"/></linearGradient>
<polygon points="179.3,325.5 176.8,326.1 174.3,326.7 171.8,327.2 169.2,327.7 166.6,328.2 166.3,335.8 168.9,335.3 171.5,334.8 174.0,334.2 176.5,333.6 178.9,333.0" fill="url(#penta57)"/>
<linearGradient id="penta58" gradientUnits="userSpaceOnUse" x1="166.6" y1="0" x2="179.3" y2="0"><stop offset="0.00" stop-color="#4c3a68"/><stop offset="0.51" stop-color="#493864"/><stop offset="1.00" stop-color="#46355f"/></linearGradient>
<polygon points="179.3,325.5 176.8,326.1 174.3,326.7 171.8,327.2 169.2,327.7 166.6,328.2 166.4,333.9 169.0,333.4 171.6,332.9 174.1,332.4 176.6,331.8 179.0,331.2" fill="url(#penta58)"/>
<linearGradient id="penta59" gradientUnits="userSpaceOnUse" x1="166.6" y1="0" x2="179.3" y2="0"><stop offset="0.00" stop-color="#4d3b69"/><stop offset="0.51" stop-color="#4a3865"/><stop offset="1.00" stop-color="#473660"/></linearGradient>
<polygon points="179.3,325.5 176.8,326.1 174.3,326.7 171.8,327.2 169.2,327.7 166.6,328.2 166.5,332.0 169.1,331.5 171.6,331.0 174.2,330.5 176.7,329.9 179.1,329.3" fill="url(#penta59)"/>
<linearGradient id="penta60" gradientUnits="userSpaceOnUse" x1="166.6" y1="0" x2="179.3" y2="0"><stop offset="0.00" stop-color="#4e3b6a"/><stop offset="0.51" stop-color="#4a3966"/><stop offset="1.00" stop-color="#473661"/></linearGradient>
<polygon points="179.3,325.5 176.8,326.1 174.3,326.7 171.8,327.2 169.2,327.7 166.6,328.2 166.5,330.1 169.1,329.6 171.7,329.1 174.3,328.6 176.8,328.0 179.2,327.4" fill="url(#penta60)"/>
<polygon points="137.8,284.0 179.3,325.5 176.8,326.1 174.3,326.7 171.8,327.2 169.2,327.7 166.6,328.2" fill="#7e60ac" stroke="#7e60ac" stroke-width="0.35"/>
<polygon points="136.1,284.3 163.0,328.8 162.3,347.5 136.0,301.3" fill="#17414d" stroke="#17414d" stroke-width="0.35"/>
<linearGradient id="penta61" gradientUnits="userSpaceOnUse" x1="163.0" y1="0" x2="164.7" y2="0"><stop offset="0.00" stop-color="#215c6d"/><stop offset="1.00" stop-color="#215b6c"/></linearGradient>
<polygon points="164.7,328.6 163.8,328.7 163.0,328.8 162.3,347.5 163.2,347.4 164.0,347.2" fill="url(#penta61)"/>
<linearGradient id="penta62" gradientUnits="userSpaceOnUse" x1="163.0" y1="0" x2="164.7" y2="0"><stop offset="0.00" stop-color="#215d6f"/><stop offset="1.00" stop-color="#215c6d"/></linearGradient>
<polygon points="164.7,328.6 163.8,328.7 163.0,328.8 162.4,345.7 163.3,345.5 164.1,345.4" fill="url(#penta62)"/>
<linearGradient id="penta63" gradientUnits="userSpaceOnUse" x1="163.0" y1="0" x2="164.7" y2="0"><stop offset="0.00" stop-color="#225e70"/><stop offset="1.00" stop-color="#215d6f"/></linearGradient>
<polygon points="164.7,328.6 163.8,328.7 163.0,328.8 162.5,343.8 163.3,343.7 164.2,343.6" fill="url(#penta63)"/>
<linearGradient id="penta64" gradientUnits="userSpaceOnUse" x1="163.0" y1="0" x2="164.7" y2="0"><stop offset="0.00" stop-color="#225f71"/><stop offset="1.00" stop-color="#225e70"/></linearGradient>
<polygon points="164.7,328.6 163.8,328.7 163.0,328.8 162.5,342.0 163.4,341.9 164.2,341.7" fill="url(#penta64)"/>
<linearGradient id="penta65" gradientUnits="userSpaceOnUse" x1="163.0" y1="0" x2="164.7" y2="0"><stop offset="0.00" stop-color="#226072"/><stop offset="1.00" stop-color="#225f71"/></linearGradient>
<polygon points="164.7,328.6 163.8,328.7 163.0,328.8 162.6,340.1 163.4,340.0 164.3,339.8" fill="url(#penta65)"/>
<linearGradient id="penta66" gradientUnits="userSpaceOnUse" x1="163.0" y1="0" x2="164.7" y2="0"><stop offset="0.00" stop-color="#236173"/><stop offset="1.00" stop-color="#226072"/></linearGradient>
<polygon points="164.7,328.6 163.8,328.7 163.0,328.8 162.6,338.3 163.5,338.1 164.4,338.0" fill="url(#penta66)"/>
<linearGradient id="penta67" gradientUnits="userSpaceOnUse" x1="163.0" y1="0" x2="164.7" y2="0"><stop offset="0.00" stop-color="#236274"/><stop offset="1.00" stop-color="#236173"/></linearGradient>
<polygon points="164.7,328.6 163.8,328.7 163.0,328.8 162.7,336.4 163.6,336.3 164.4,336.1" fill="url(#penta67)"/>
<linearGradient id="penta68" gradientUnits="userSpaceOnUse" x1="163.0" y1="0" x2="164.7" y2="0"><stop offset="0.00" stop-color="#236376"/><stop offset="1.00" stop-color="#236274"/></linearGradient>
<polygon points="164.7,328.6 163.8,328.7 163.0,328.8 162.8,334.5 163.6,334.4 164.5,334.2" fill="url(#penta68)"/>
<linearGradient id="penta69" gradientUnits="userSpaceOnUse" x1="163.0" y1="0" x2="164.7" y2="0"><stop offset="0.00" stop-color="#246477"/><stop offset="1.00" stop-color="#236375"/></linearGradient>
<polygon points="164.7,328.6 163.8,328.7 163.0,328.8 162.8,332.6 163.7,332.5 164.6,332.3" fill="url(#penta69)"/>
<linearGradient id="penta70" gradientUnits="userSpaceOnUse" x1="163.0" y1="0" x2="164.7" y2="0"><stop offset="0.00" stop-color="#246578"/><stop offset="1.00" stop-color="#246477"/></linearGradient>
<polygon points="164.7,328.6 163.8,328.7 163.0,328.8 162.9,330.7 163.8,330.6 164.6,330.5" fill="url(#penta70)"/>
<polygon points="136.1,284.3 164.7,328.6 163.8,328.7 163.0,328.8" fill="#3aa2c0" stroke="#3aa2c0" stroke-width="0.35"/>
<polygon points="393.9,262.9 393.8,233.0 393.8,246.6 393.9,277.9" fill="#182c4a" stroke="#182c4a" stroke-width="0.35"/>
<polygon points="393.9,262.9 398.9,233.0 398.9,246.7 393.9,277.9" fill="#24436e" stroke="#24436e" stroke-width="0.35"/>
<polygon points="393.9,262.9 393.8,233.0 395.5,233.0 397.2,233.0 398.9,233.0" fill="#3c6fb8" stroke="#3c6fb8" stroke-width="0.35"/>
<polygon points="395.6,262.9 406.9,233.4 406.7,247.0 395.6,277.9" fill="#6e2624" stroke="#6e2624" stroke-width="0.35"/>
<polygon points="395.6,262.9 400.5,233.1 402.6,233.2 404.7,233.3 406.9,233.4" fill="#b8403c" stroke="#b8403c" stroke-width="0.35"/>
<polygon points="400.0,263.4 433.0,236.8 432.4,250.6 399.9,278.4" fill="#4b6424" stroke="#4b6424" stroke-width="0.35"/>
<polygon points="400.0,263.4 410.7,233.7 413.0,233.9 415.3,234.1 417.5,234.3 419.8,234.6 422.0,234.9 424.3,235.2 426.5,235.5 428.7,235.9 430.8,236.3 433.0,236.8" fill="#7da63c" stroke="#7da63c" stroke-width="0.35"/>
<polygon points="385.6,263.5 338.0,240.9 338.8,254.9 385.7,278.5" fill="#544f5f" stroke="#544f5f" stroke-width="0.35"/>
<polygon points="385.6,263.5 386.5,233.4 386.6,247.1 385.7,278.5" fill="#746e84" stroke="#746e84" stroke-width="0.35"/>
<polygon points="385.6,263.5 338.0,240.9 339.9,240.2 341.9,239.6 343.9,239.0 346.0,238.4 348.1,237.9 350.2,237.4 352.3,236.9 354.5,236.5 356.7,236.1 358.9,235.7 361.1,235.3 363.3,235.0 365.6,234.7 367.9,234.4 370.2,234.2 372.5,234.0 374.8,233.8 377.1,233.7 379.5,233.6 381.8,233.5 384.1,233.5 386.5,233.4" fill="#c2b8dc" stroke="#c2b8dc" stroke-width="0.35"/>
<polygon points="406.7,265.1 463.1,245.8 462.1,260.1 406.5,280.2" fill="#402d59" stroke="#402d59" stroke-width="0.35"/>
<polygon points="406.7,265.1 439.2,238.1 441.4,238.6 443.5,239.1 445.7,239.7 447.7,240.2 449.8,240.8 451.8,241.5 453.8,242.1 455.8,242.8 457.7,243.5 459.5,244.3 461.4,245.0 463.1,245.8" fill="#6f4e9c" stroke="#6f4e9c" stroke-width="0.35"/>
<polygon points="377.7,265.9 321.3,246.5 322.3,260.8 377.9,281.0" fill="#566145" stroke="#566145" stroke-width="0.35"/>
<polygon points="377.7,265.9 321.3,246.5 323.0,245.7 324.8,245.0 326.6,244.2 328.5,243.5 330.4,242.8" fill="#c0d89a" stroke="#c0d89a" stroke-width="0.35"/>
<polygon points="375.9,266.9 314.1,250.1 315.3,264.5 376.1,282.1" fill="#644a4a" stroke="#644a4a" stroke-width="0.35"/>
<polygon points="375.9,266.9 314.1,250.1 315.4,249.4 316.7,248.7 318.0,248.0 319.4,247.4" fill="#dba2a1" stroke="#dba2a1" stroke-width="0.35"/>
<polygon points="374.9,267.6 310.2,252.4 311.4,266.9 375.2,282.8" fill="#475465" stroke="#475465" stroke-width="0.35"/>
<polygon points="374.9,267.6 310.2,252.4 311.6,251.5 313.1,250.6" fill="#98b5da" stroke="#98b5da" stroke-width="0.35"/>
<polygon points="412.0,268.1 485.4,259.8 484.1,274.7 411.7,283.3" fill="#194c5d" stroke="#194c5d" stroke-width="0.35"/>
<polygon points="412.0,268.1 468.6,248.4 470.3,249.2 472.0,250.1 473.6,250.9 475.2,251.8 476.7,252.8 478.1,253.7 479.5,254.7 480.8,255.7 482.1,256.7 483.2,257.7 484.4,258.7 485.4,259.8" fill="#2f8eae" stroke="#2f8eae" stroke-width="0.35"/>
<polygon points="413.8,274.8 479.3,304.5 477.8,321.2 413.4,290.4" fill="#5f3a1a" stroke="#5f3a1a" stroke-width="0.35"/>
<linearGradient id="pyrene1" gradientUnits="userSpaceOnUse" x1="479.3" y1="0" x2="495.9" y2="0"><stop offset="0.00" stop-color="#5d3819"/><stop offset="0.41" stop-color="#5b3719"/><stop offset="0.71" stop-color="#593618"/><stop offset="0.91" stop-color="#563418"/><stop offset="1.00" stop-color="#543317"/></linearGradient>
<polygon points="495.9,284.0 495.7,285.4 495.3,286.7 494.9,288.1 494.3,289.4 493.7,290.7 492.9,292.1 492.0,293.4 491.1,294.7 490.0,296.0 488.8,297.3 487.4,298.5 486.0,299.8 484.5,301.0 482.9,302.2 481.1,303.3 479.3,304.5 477.8,321.2 479.6,320.0 481.3,318.8 482.9,317.6 484.4,316.3 485.8,315.0 487.1,313.7 488.3,312.4 489.4,311.1 490.4,309.7 491.2,308.3 492.0,307.0 492.6,305.6 493.2,304.2 493.6,302.8 494.0,301.4 494.2,300.0" fill="url(#pyrene1)"/>
<linearGradient id="pyrene2" gradientUnits="userSpaceOnUse" x1="479.3" y1="0" x2="495.9" y2="0"><stop offset="0.00" stop-color="#5e391a"/><stop offset="0.41" stop-color="#5c3819"/><stop offset="0.71" stop-color="#593618"/><stop offset="0.91" stop-color="#573518"/><stop offset="1.00" stop-color="#553317"/></linearGradient>
<polygon points="495.9,284.0 495.7,285.4 495.3,286.7 494.9,288.1 494.3,289.4 493.7,290.7 492.9,292.1 492.0,293.4 491.1,294.7 490.0,296.0 488.8,297.3 487.4,298.5 486.0,299.8 484.5,301.0 482.9,302.2 481.1,303.3 479.3,304.5 477.9,319.6 479.7,318.4 481.5,317.2 483.1,316.0 484.6,314.7 486.0,313.4 487.3,312.1 488.5,310.8 489.5,309.4 490.5,308.1 491.4,306.7 492.2,305.4 492.8,304.0 493.4,302.6 493.8,301.2 494.1,299.8 494.4,298.4" fill="url(#pyrene2)"/>
<linearGradient id="pyrene3" gradientUnits="userSpaceOnUse" x1="479.3" y1="0" x2="495.9" y2="0"><stop offset="0.00" stop-color="#5f3a1a"/><stop offset="0.41" stop-color="#5d3819"/><stop offset="0.71" stop-color="#5a3719"/><stop offset="0.91" stop-color="#583518"/><stop offset="1.00" stop-color="#563417"/></linearGradient>
<polygon points="495.9,284.0 495.7,285.4 495.3,286.7 494.9,288.1 494.3,289.4 493.7,290.7 492.9,292.1 492.0,293.4 491.1,294.7 490.0,296.0 488.8,297.3 487.4,298.5 486.0,299.8 484.5,301.0 482.9,302.2 481.1,303.3 479.3,304.5 478.1,317.9 479.9,316.7 481.6,315.5 483.2,314.3 484.7,313.1 486.1,311.8 487.4,310.5 488.6,309.2 489.7,307.8 490.7,306.5 491.6,305.1 492.3,303.8 493.0,302.4 493.5,301.0 494.0,299.6 494.3,298.2 494.5,296.8" fill="url(#pyrene3)"/>
<linearGradient id="pyrene4" gradientUnits="userSpaceOnUse" x1="479.3" y1="0" x2="495.9" y2="0"><stop offset="0.00" stop-color="#603a1a"/><stop offset="0.41" stop-color="#5e391a"/><stop offset="0.71" stop-color="#5b3719"/><stop offset="0.91" stop-color="#593618"/><stop offset="1.00" stop-color="#573418"/></linearGradient>
<polygon points="495.9,284.0 495.7,285.4 495.3,286.7 494.9,288.1 494.3,289.4 493.7,290.7 492.9,292.1 492.0,293.4 491.1,294.7 490.0,296.0 488.8,297.3 487.4,298.5 486.0,299.8 484.5,301.0 482.9,302.2 481.1,303.3 479.3,304.5 478.2,316.3 480.0,315.1 481.8,313.9 483.4,312.7 484.9,311.4 486.3,310.1 487.6,308.8 488.8,307.5 489.9,306.2 490.9,304.9 491.7,303.5 492.5,302.1 493.1,300.8 493.7,299.4 494.1,298.0 494.5,296.6 494.7,295.2" fill="url(#pyrene4)"/>
<linearGradient id="pyrene5" gradientUnits="userSpaceOnUse" x1="479.3" y1="0" x2="495.9" y2="0"><stop offset="0.00" stop-color="#613b1a"/><stop offset="0.41" stop-color="#5f391a"/><stop offset="0.71" stop-color="#5c3819"/><stop offset="0.91" stop-color="#5a3619"/><stop offset="1.00" stop-color="#573518"/></linearGradient>
<polygon points="495.9,284.0 495.7,285.4 495.3,286.7 494.9,288.1 494.3,289.4 493.7,290.7 492.9,292.1 492.0,293.4 491.1,294.7 490.0,296.0 488.8,297.3 487.4,298.5 486.0,299.8 484.5,301.0 482.9,302.2 481.1,303.3 479.3,304.5 478.4,314.6 480.2,313.4 481.9,312.2 483.5,311.0 485.1,309.8 486.5,308.5 487.8,307.2 489.0,305.9 490.0,304.6 491.0,303.2 491.9,301.9 492.7,300.5 493.3,299.2 493.9,297.8 494.3,296.4 494.6,295.0 494.9,293.7" fill="url(#pyrene5)"/>
<linearGradient id="pyrene6" gradientUnits="userSpaceOnUse" x1="479.3" y1="0" x2="495.9" y2="0"><stop offset="0.00" stop-color="#623b1b"/><stop offset="0.41" stop-color="#603a1a"/><stop offset="0.71" stop-color="#5d3819"/><stop offset="0.91" stop-color="#5b3719"/><stop offset="1.00" stop-color="#583518"/></linearGradient>
<polygon points="495.9,284.0 495.7,285.4 495.3,286.7 494.9,288.1 494.3,289.4 493.7,290.7 492.9,292.1 492.0,293.4 491.1,294.7 490.0,296.0 488.8,297.3 487.4,298.5 486.0,299.8 484.5,301.0 482.9,302.2 481.1,303.3 479.3,304.5 478.5,312.9 480.4,311.8 482.1,310.6 483.7,309.4 485.2,308.1 486.6,306.8 487.9,305.6 489.1,304.3 490.2,302.9 491.2,301.6 492.1,300.3 492.8,298.9 493.5,297.6 494.0,296.2 494.5,294.8 494.8,293.4 495.0,292.1" fill="url(#pyrene6)"/>
<linearGradient id="pyrene7" gradientUnits="userSpaceOnUse" x1="479.3" y1="0" x2="495.9" y2="0"><stop offset="0.00" stop-color="#633c1b"/><stop offset="0.41" stop-color="#613a1a"/><stop offset="0.71" stop-color="#5e391a"/><stop offset="0.91" stop-color="#5c3719"/><stop offset="1.00" stop-color="#593618"/></linearGradient>
<polygon points="495.9,284.0 495.7,285.4 495.3,286.7 494.9,288.1 494.3,289.4 493.7,290.7 492.9,292.1 492.0,293.4 491.1,294.7 490.0,296.0 488.8,297.3 487.4,298.5 486.0,299.8 484.5,301.0 482.9,302.2 481.1,303.3 479.3,304.5 478.7,311.2 480.5,310.1 482.2,308.9 483.9,307.7 485.4,306.5 486.8,305.2 488.1,303.9 489.3,302.6 490.4,301.3 491.4,300.0 492.2,298.6 493.0,297.3 493.6,295.9 494.2,294.6 494.6,293.2 495.0,291.8 495.2,290.5" fill="url(#pyrene7)"/>
<linearGradient id="pyrene8" gradientUnits="userSpaceOnUse" x1="479.3" y1="0" x2="495.9" y2="0"><stop offset="0.00" stop-color="#643c1b"/><stop offset="0.41" stop-color="#623b1b"/><stop offset="0.71" stop-color="#5f391a"/><stop offset="0.91" stop-color="#5d3819"/><stop offset="1.00" stop-color="#5a3619"/></linearGradient>
<polygon points="495.9,284.0 495.7,285.4 495.3,286.7 494.9,288.1 494.3,289.4 493.7,290.7 492.9,292.1 492.0,293.4 491.1,294.7 490.0,296.0 488.8,297.3 487.4,298.5 486.0,299.8 484.5,301.0 482.9,302.2 481.1,303.3 479.3,304.5 478.8,309.6 480.7,308.4 482.4,307.2 484.0,306.0 485.5,304.8 487.0,303.5 488.3,302.3 489.5,301.0 490.5,299.7 491.5,298.3 492.4,297.0 493.2,295.7 493.8,294.3 494.4,293.0 494.8,291.6 495.2,290.2 495.4,288.9" fill="url(#pyrene8)"/>
<linearGradient id="pyrene9" gradientUnits="userSpaceOnUse" x1="479.3" y1="0" x2="495.9" y2="0"><stop offset="0.00" stop-color="#653d1c"/><stop offset="0.41" stop-color="#633c1b"/><stop offset="0.71" stop-color="#603a1a"/><stop offset="0.91" stop-color="#5d3819"/><stop offset="1.00" stop-color="#5b3719"/></linearGradient>
<polygon points="495.9,284.0 495.7,285.4 495.3,286.7 494.9,288.1 494.3,289.4 493.7,290.7 492.9,292.1 492.0,293.4 491.1,294.7 490.0,296.0 488.8,297.3 487.4,298.5 486.0,299.8 484.5,301.0 482.9,302.2 481.1,303.3 479.3,304.5 479.0,307.9 480.8,306.7 482.6,305.5 484.2,304.3 485.7,303.1 487.1,301.9 488.4,300.6 489.6,299.3 490.7,298.0 491.7,296.7 492.6,295.4 493.3,294.0 494.0,292.7 494.5,291.3 495.0,290.0 495.3,288.6 495.6,287.3" fill="url(#pyrene9)"/>
<linearGradient id="pyrene10" gradientUnits="userSpaceOnUse" x1="479.3" y1="0" x2="495.9" y2="0"><stop offset="0.00" stop-color="#663e1c"/><stop offset="0.41" stop-color="#633c1b"/><stop offset="0.71" stop-color="#613b1a"/><stop offset="0.91" stop-color="#5e391a"/><stop offset="1.00" stop-color="#5c3719"/></linearGradient>
<polygon points="495.9,284.0 495.7,285.4 495.3,286.7 494.9,288.1 494.3,289.4 493.7,290.7 492.9,292.1 492.0,293.4 491.1,294.7 490.0,296.0 488.8,297.3 487.4,298.5 486.0,299.8 484.5,301.0 482.9,302.2 481.1,303.3 479.3,304.5 479.1,306.2 481.0,305.0 482.7,303.9 484.3,302.7 485.9,301.4 487.3,300.2 488.6,298.9 489.8,297.7 490.9,296.4 491.9,295.0 492.7,293.7 493.5,292.4 494.2,291.1 494.7,289.7 495.2,288.4 495.5,287.0 495.7,285.7" fill="url(#pyrene10)"/>
<polygon points="413.8,274.8 489.0,266.1 490.1,267.3 491.1,268.5 492.0,269.7 492.8,271.0 493.5,272.2 494.2,273.5 494.7,274.8 495.2,276.1 495.5,277.4 495.8,278.7 496.0,280.0 496.1,281.4 496.0,282.7 495.9,284.0 495.7,285.4 495.3,286.7 494.9,288.1 494.3,289.4 493.7,290.7 492.9,292.1 492.0,293.4 491.1,294.7 490.0,296.0 488.8,297.3 487.4,298.5 486.0,299.8 484.5,301.0 482.9,302.2 481.1,303.3 479.3,304.5" fill="#dc853c" stroke="#dc853c" stroke-width="0.35"/>
<linearGradient id="pyrene11" gradientUnits="userSpaceOnUse" x1="292.2" y1="0" x2="384.7" y2="0"><stop offset="0.00" stop-color="#cb7e3d"/><stop offset="0.01" stop-color="#c97d3d"/><stop offset="0.04" stop-color="#c77c3c"/><stop offset="0.09" stop-color="#c67b3c"/><stop offset="0.16" stop-color="#c4793b"/><stop offset="0.25" stop-color="#c2783b"/><stop offset="0.35" stop-color="#c0773a"/><stop offset="0.46" stop-color="#bb7438"/><stop offset="0.59" stop-color="#b57037"/><stop offset="0.72" stop-color="#af6c35"/><stop offset="0.86" stop-color="#a96933"/><stop offset="1.00" stop-color="#9b602f"/></linearGradient>
<polygon points="384.7,322.1 381.4,322.3 378.1,322.4 374.8,322.5 371.5,322.5 368.2,322.4 364.9,322.3 361.6,322.2 358.4,321.9 355.2,321.6 352.0,321.3 348.8,320.9 345.7,320.4 342.7,319.9 339.7,319.3 336.8,318.6 333.9,317.9 331.1,317.2 328.4,316.4 325.7,315.6 323.2,314.7 320.7,313.7 318.3,312.8 316.0,311.7 313.8,310.7 311.8,309.6 309.8,308.5 307.9,307.3 306.1,306.1 304.4,304.9 302.8,303.7 301.3,302.4 300.0,301.1 298.7,299.8 297.6,298.5 296.6,297.2 295.6,295.8 294.8,294.5 294.1,293.1 293.5,291.7 293.1,290.4 292.7,289.0 292.4,287.6 292.2,286.2 293.9,302.3 294.1,303.7 294.4,305.1 294.7,306.6 295.2,308.0 295.8,309.4 296.5,310.8 297.3,312.2 298.2,313.6 299.2,315.0 300.4,316.4 301.6,317.7 302.9,319.1 304.4,320.4 306.0,321.7 307.6,322.9 309.4,324.2 311.2,325.4 313.2,326.5 315.3,327.7 317.4,328.8 319.7,329.8 322.0,330.8 324.5,331.8 327.0,332.7 329.6,333.6 332.2,334.4 335.0,335.2 337.8,335.9 340.7,336.6 343.6,337.2 346.6,337.7 349.7,338.2 352.7,338.7 355.9,339.0 359.0,339.3 362.2,339.6 365.4,339.8 368.7,339.9 371.9,339.9 375.1,339.9 378.4,339.8 381.6,339.7 384.8,339.5" fill="url(#pyrene11)"/>
<linearGradient id="pyrene12" gradientUnits="userSpaceOnUse" x1="292.2" y1="0" x2="384.7" y2="0"><stop offset="0.00" stop-color="#cd7f3e"/><stop offset="0.01" stop-color="#cb7e3d"/><stop offset="0.04" stop-color="#c97d3d"/><stop offset="0.09" stop-color="#c87c3c"/><stop offset="0.16" stop-color="#c67b3c"/><stop offset="0.25" stop-color="#c47a3b"/><stop offset="0.35" stop-color="#c2783b"/><stop offset="0.46" stop-color="#bd7539"/><stop offset="0.59" stop-color="#b77137"/><stop offset="0.72" stop-color="#b16e35"/><stop offset="0.86" stop-color="#ab6a33"/><stop offset="1.00" stop-color="#9c612f"/></linearGradient>
<polygon points="384.7,322.1 381.4,322.3 378.1,322.4 374.8,322.5 371.5,322.5 368.2,322.4 364.9,322.3 361.6,322.2 358.4,321.9 355.2,321.6 352.0,321.3 348.8,320.9 345.7,320.4 342.7,319.9 339.7,319.3 336.8,318.6 333.9,317.9 331.1,317.2 328.4,316.4 325.7,315.6 323.2,314.7 320.7,313.7 318.3,312.8 316.0,311.7 313.8,310.7 311.8,309.6 309.8,308.5 307.9,307.3 306.1,306.1 304.4,304.9 302.8,303.7 301.3,302.4 300.0,301.1 298.7,299.8 297.6,298.5 296.6,297.2 295.6,295.8 294.8,294.5 294.1,293.1 293.5,291.7 293.1,290.4 292.7,289.0 292.4,287.6 292.2,286.2 293.7,300.7 293.9,302.1 294.2,303.5 294.6,305.0 295.1,306.4 295.6,307.8 296.3,309.2 297.1,310.6 298.1,312.0 299.1,313.4 300.2,314.8 301.4,316.1 302.8,317.4 304.2,318.7 305.8,320.0 307.5,321.3 309.2,322.5 311.1,323.7 313.1,324.9 315.1,326.0 317.3,327.1 319.6,328.2 321.9,329.2 324.3,330.1 326.9,331.0 329.5,331.9 332.1,332.7 334.9,333.5 337.7,334.2 340.6,334.9 343.5,335.5 346.5,336.0 349.6,336.5 352.7,337.0 355.8,337.3 359.0,337.6 362.2,337.9 365.4,338.0 368.6,338.2 371.9,338.2 375.1,338.2 378.4,338.1 381.6,338.0 384.8,337.8" fill="url(#pyrene12)"/>
<linearGradient id="pyrene13" gradientUnits="userSpaceOnUse" x1="292.2" y1="0" x2="384.7" y2="0"><stop offset="0.00" stop-color="#cf813f"/><stop offset="0.01" stop-color="#cd7f3e"/><stop offset="0.04" stop-color="#cc7e3d"/><stop offset="0.09" stop-color="#ca7d3d"/><stop offset="0.16" stop-color="#c87c3c"/><stop offset="0.25" stop-color="#c67b3c"/><stop offset="0.35" stop-color="#c47a3b"/><stop offset="0.46" stop-color="#bf763a"/><stop offset="0.59" stop-color="#b97338"/><stop offset="0.72" stop-color="#b26f36"/><stop offset="0.86" stop-color="#ac6b34"/><stop offset="1.00" stop-color="#9e6230"/></linearGradient>
<polygon points="384.7,322.1 381.4,322.3 378.1,322.4 374.8,322.5 371.5,322.5 368.2,322.4 364.9,322.3 361.6,322.2 358.4,321.9 355.2,321.6 352.0,321.3 348.8,320.9 345.7,320.4 342.7,319.9 339.7,319.3 336.8,318.6 333.9,317.9 331.1,317.2 328.4,316.4 325.7,315.6 323.2,314.7 320.7,313.7 318.3,312.8 316.0,311.7 313.8,310.7 311.8,309.6 309.8,308.5 307.9,307.3 306.1,306.1 304.4,304.9 302.8,303.7 301.3,302.4 300.0,301.1 298.7,299.8 297.6,298.5 296.6,297.2 295.6,295.8 294.8,294.5 294.1,293.1 293.5,291.7 293.1,290.4 292.7,289.0 292.4,287.6 292.2,286.2 293.6,299.1 293.8,300.5 294.0,301.9 294.4,303.4 294.9,304.8 295.5,306.2 296.2,307.6 297.0,309.0 297.9,310.4 298.9,311.8 300.0,313.1 301.3,314.5 302.6,315.8 304.1,317.1 305.6,318.4 307.3,319.6 309.1,320.9 310.9,322.0 312.9,323.2 315.0,324.3 317.2,325.4 319.4,326.5 321.8,327.5 324.2,328.4 326.7,329.4 329.3,330.2 332.0,331.0 334.8,331.8 337.6,332.5 340.5,333.2 343.4,333.8 346.4,334.3 349.5,334.8 352.6,335.2 355.7,335.6 358.9,335.9 362.1,336.1 365.3,336.3 368.6,336.4 371.8,336.5 375.1,336.5 378.3,336.4 381.6,336.2 384.8,336.0" fill="url(#pyrene13)"/>
<linearGradient id="pyrene14" gradientUnits="userSpaceOnUse" x1="292.2" y1="0" x2="384.7" y2="0"><stop offset="0.00" stop-color="#d1823f"/><stop offset="0.01" stop-color="#d0813f"/><stop offset="0.04" stop-color="#ce803e"/><stop offset="0.09" stop-color="#cc7e3e"/><stop offset="0.16" stop-color="#ca7d3d"/><stop offset="0.25" stop-color="#c87c3c"/><stop offset="0.35" stop-color="#c67b3c"/><stop offset="0.46" stop-color="#c1783a"/><stop offset="0.59" stop-color="#ba7438"/><stop offset="0.72" stop-color="#b47036"/><stop offset="0.86" stop-color="#ae6c35"/><stop offset="1.00" stop-color="#9f6330"/></linearGradient>
<polygon points="384.7,322.1 381.4,322.3 378.1,322.4 374.8,322.5 371.5,322.5 368.2,322.4 364.9,322.3 361.6,322.2 358.4,321.9 355.2,321.6 352.0,321.3 348.8,320.9 345.7,320.4 342.7,319.9 339.7,319.3 336.8,318.6 333.9,317.9 331.1,317.2 328.4,316.4 325.7,315.6 323.2,314.7 320.7,313.7 318.3,312.8 316.0,311.7 313.8,310.7 311.8,309.6 309.8,308.5 307.9,307.3 306.1,306.1 304.4,304.9 302.8,303.7 301.3,302.4 300.0,301.1 298.7,299.8 297.6,298.5 296.6,297.2 295.6,295.8 294.8,294.5 294.1,293.1 293.5,291.7 293.1,290.4 292.7,289.0 292.4,287.6 292.2,286.2 293.4,297.5 293.6,298.9 293.9,300.3 294.2,301.8 294.7,303.2 295.3,304.6 296.0,306.0 296.8,307.4 297.7,308.8 298.8,310.1 299.9,311.5 301.1,312.8 302.5,314.1 303.9,315.4 305.5,316.7 307.2,318.0 308.9,319.2 310.8,320.4 312.8,321.5 314.9,322.6 317.0,323.7 319.3,324.8 321.6,325.8 324.1,326.7 326.6,327.6 329.2,328.5 331.9,329.3 334.7,330.1 337.5,330.8 340.4,331.5 343.3,332.1 346.3,332.6 349.4,333.1 352.5,333.5 355.7,333.9 358.8,334.2 362.0,334.4 365.3,334.6 368.5,334.7 371.8,334.8 375.0,334.7 378.3,334.7 381.6,334.5 384.8,334.3" fill="url(#pyrene14)"/>
<linearGradient id="pyrene15" gradientUnits="userSpaceOnUse" x1="292.2" y1="0" x2="384.7" y2="0"><stop offset="0.00" stop-color="#d48340"/><stop offset="0.01" stop-color="#d2823f"/><stop offset="0.04" stop-color="#d0813f"/><stop offset="0.09" stop-color="#ce803e"/><stop offset="0.16" stop-color="#cc7f3e"/><stop offset="0.25" stop-color="#ca7d3d"/><stop offset="0.35" stop-color="#c87c3c"/><stop offset="0.46" stop-color="#c3793b"/><stop offset="0.59" stop-color="#bc7539"/><stop offset="0.72" stop-color="#b67137"/><stop offset="0.86" stop-color="#b06d35"/><stop offset="1.00" stop-color="#a16431"/></linearGradient>
<polygon points="384.7,322.1 381.4,322.3 378.1,322.4 374.8,322.5 371.5,322.5 368.2,322.4 364.9,322.3 361.6,322.2 358.4,321.9 355.2,321.6 352.0,321.3 348.8,320.9 345.7,320.4 342.7,319.9 339.7,319.3 336.8,318.6 333.9,317.9 331.1,317.2 328.4,316.4 325.7,315.6 323.2,314.7 320.7,313.7 318.3,312.8 316.0,311.7 313.8,310.7 311.8,309.6 309.8,308.5 307.9,307.3 306.1,306.1 304.4,304.9 302.8,303.7 301.3,302.4 300.0,301.1 298.7,299.8 297.6,298.5 296.6,297.2 295.6,295.8 294.8,294.5 294.1,293.1 293.5,291.7 293.1,290.4 292.7,289.0 292.4,287.6 292.2,286.2 293.3,295.9 293.4,297.3 293.7,298.7 294.1,300.1 294.6,301.6 295.1,303.0 295.8,304.4 296.7,305.7 297.6,307.1 298.6,308.5 299.7,309.8 301.0,311.2 302.3,312.5 303.8,313.8 305.3,315.0 307.0,316.3 308.8,317.5 310.7,318.7 312.6,319.8 314.7,321.0 316.9,322.0 319.2,323.1 321.5,324.1 324.0,325.0 326.5,325.9 329.1,326.8 331.8,327.6 334.6,328.4 337.4,329.1 340.3,329.7 343.2,330.3 346.3,330.9 349.3,331.4 352.4,331.8 355.6,332.1 358.8,332.4 362.0,332.7 365.2,332.9 368.5,333.0 371.7,333.0 375.0,333.0 378.3,332.9 381.5,332.8 384.8,332.6" fill="url(#pyrene15)"/>
<linearGradient id="pyrene16" gradientUnits="userSpaceOnUse" x1="292.2" y1="0" x2="384.7" y2="0"><stop offset="0.00" stop-color="#d88641"/><stop offset="0.01" stop-color="#d68541"/><stop offset="0.04" stop-color="#d48440"/><stop offset="0.09" stop-color="#d2823f"/><stop offset="0.16" stop-color="#cf813f"/><stop offset="0.25" stop-color="#cd7f3e"/><stop offset="0.35" stop-color="#ca7d3d"/><stop offset="0.46" stop-color="#c57a3b"/><stop offset="0.59" stop-color="#be7639"/><stop offset="0.72" stop-color="#b87238"/><stop offset="0.86" stop-color="#b26e36"/><stop offset="1.00" stop-color="#a36531"/></linearGradient>
<polygon points="384.7,322.1 381.4,322.3 378.1,322.4 374.8,322.5 371.5,322.5 368.2,322.4 364.9,322.3 361.6,322.2 358.4,321.9 355.2,321.6 352.0,321.3 348.8,320.9 345.7,320.4 342.7,319.9 339.7,319.3 336.8,318.6 333.9,317.9 331.1,317.2 328.4,316.4 325.7,315.6 323.2,314.7 320.7,313.7 318.3,312.8 316.0,311.7 313.8,310.7 311.8,309.6 309.8,308.5 307.9,307.3 306.1,306.1 304.4,304.9 302.8,303.7 301.3,302.4 300.0,301.1 298.7,299.8 297.6,298.5 296.6,297.2 295.6,295.8 294.8,294.5 294.1,293.1 293.5,291.7 293.1,290.4 292.7,289.0 292.4,287.6 292.2,286.2 293.1,294.3 293.3,295.7 293.5,297.1 293.9,298.5 294.4,299.9 295.0,301.3 295.7,302.7 296.5,304.1 297.4,305.5 298.4,306.8 299.6,308.2 300.8,309.5 302.2,310.8 303.6,312.1 305.2,313.4 306.9,314.6 308.6,315.8 310.5,317.0 312.5,318.1 314.6,319.3 316.7,320.3 319.0,321.4 321.4,322.4 323.8,323.3 326.4,324.2 329.0,325.1 331.7,325.9 334.4,326.7 337.3,327.4 340.2,328.0 343.2,328.6 346.2,329.1 349.2,329.6 352.4,330.0 355.5,330.4 358.7,330.7 361.9,330.9 365.2,331.1 368.4,331.2 371.7,331.3 375.0,331.3 378.2,331.2 381.5,331.0 384.8,330.8" fill="url(#pyrene16)"/>
<linearGradient id="pyrene17" gradientUnits="userSpaceOnUse" x1="292.2" y1="0" x2="384.7" y2="0"><stop offset="0.00" stop-color="#e68e45"/><stop offset="0.01" stop-color="#e58e45"/><stop offset="0.04" stop-color="#e28c44"/><stop offset="0.09" stop-color="#dd8943"/><stop offset="0.16" stop-color="#d78541"/><stop offset="0.25" stop-color="#d1813f"/><stop offset="0.35" stop-color="#cc7f3e"/><stop offset="0.46" stop-color="#c77b3c"/><stop offset="0.59" stop-color="#c0773a"/><stop offset="0.72" stop-color="#ba7338"/><stop offset="0.86" stop-color="#b36f36"/><stop offset="1.00" stop-color="#a46632"/></linearGradient>
<polygon points="384.7,322.1 381.4,322.3 378.1,322.4 374.8,322.5 371.5,322.5 368.2,322.4 364.9,322.3 361.6,322.2 358.4,321.9 355.2,321.6 352.0,321.3 348.8,320.9 345.7,320.4 342.7,319.9 339.7,319.3 336.8,318.6 333.9,317.9 331.1,317.2 328.4,316.4 325.7,315.6 323.2,314.7 320.7,313.7 318.3,312.8 316.0,311.7 313.8,310.7 311.8,309.6 309.8,308.5 307.9,307.3 306.1,306.1 304.4,304.9 302.8,303.7 301.3,302.4 300.0,301.1 298.7,299.8 297.6,298.5 296.6,297.2 295.6,295.8 294.8,294.5 294.1,293.1 293.5,291.7 293.1,290.4 292.7,289.0 292.4,287.6 292.2,286.2 292.9,292.7 293.1,294.1 293.4,295.5 293.7,296.9 294.2,298.3 294.8,299.7 295.5,301.1 296.3,302.5 297.2,303.8 298.3,305.2 299.4,306.5 300.6,307.8 302.0,309.1 303.5,310.4 305.0,311.7 306.7,312.9 308.5,314.1 310.4,315.3 312.3,316.4 314.4,317.6 316.6,318.6 318.9,319.7 321.2,320.7 323.7,321.6 326.2,322.5 328.9,323.4 331.6,324.2 334.3,324.9 337.2,325.6 340.1,326.3 343.1,326.9 346.1,327.4 349.2,327.9 352.3,328.3 355.4,328.7 358.6,329.0 361.9,329.2 365.1,329.4 368.4,329.5 371.7,329.5 374.9,329.5 378.2,329.4 381.5,329.3 384.8,329.1" fill="url(#pyrene17)"/>
<linearGradient id="pyrene18" gradientUnits="userSpaceOnUse" x1="292.2" y1="0" x2="384.7" y2="0"><stop offset="0.00" stop-color="#f09549"/><stop offset="0.01" stop-color="#f09548"/><stop offset="0.04" stop-color="#ed9348"/><stop offset="0.09" stop-color="#e68f45"/><stop offset="0.16" stop-color="#dd8943"/><stop offset="0.25" stop-color="#d48440"/><stop offset="0.35" stop-color="#ce803e"/><stop offset="0.46" stop-color="#c97c3d"/><stop offset="0.59" stop-color="#c2783b"/><stop offset="0.72" stop-color="#bc7439"/><stop offset="0.86" stop-color="#b57037"/><stop offset="1.00" stop-color="#a66732"/></linearGradient>
<polygon points="384.7,322.1 381.4,322.3 378.1,322.4 374.8,322.5 371.5,322.5 368.2,322.4 364.9,322.3 361.6,322.2 358.4,321.9 355.2,321.6 352.0,321.3 348.8,320.9 345.7,320.4 342.7,319.9 339.7,319.3 336.8,318.6 333.9,317.9 331.1,317.2 328.4,316.4 325.7,315.6 323.2,314.7 320.7,313.7 318.3,312.8 316.0,311.7 313.8,310.7 311.8,309.6 309.8,308.5 307.9,307.3 306.1,306.1 304.4,304.9 302.8,303.7 301.3,302.4 300.0,301.1 298.7,299.8 297.6,298.5 296.6,297.2 295.6,295.8 294.8,294.5 294.1,293.1 293.5,291.7 293.1,290.4 292.7,289.0 292.4,287.6 292.2,286.2 292.8,291.1 292.9,292.5 293.2,293.9 293.6,295.3 294.1,296.7 294.6,298.1 295.3,299.4 296.2,300.8 297.1,302.2 298.1,303.5 299.2,304.9 300.5,306.2 301.8,307.5 303.3,308.7 304.9,310.0 306.5,311.2 308.3,312.4 310.2,313.6 312.2,314.7 314.3,315.8 316.5,316.9 318.7,317.9 321.1,318.9 323.6,319.9 326.1,320.8 328.7,321.6 331.5,322.4 334.2,323.2 337.1,323.9 340.0,324.5 343.0,325.1 346.0,325.7 349.1,326.1 352.2,326.6 355.4,326.9 358.6,327.2 361.8,327.4 365.1,327.6 368.3,327.7 371.6,327.8 374.9,327.8 378.2,327.7 381.5,327.5 384.7,327.3" fill="url(#pyrene18)"/>
<linearGradient id="pyrene19" gradientUnits="userSpaceOnUse" x1="292.2" y1="0" x2="384.7" y2="0"><stop offset="0.00" stop-color="#f19649"/><stop offset="0.01" stop-color="#f19549"/><stop offset="0.04" stop-color="#ee9448"/><stop offset="0.09" stop-color="#e78f46"/><stop offset="0.16" stop-color="#df8a43"/><stop offset="0.25" stop-color="#d68541"/><stop offset="0.35" stop-color="#d0813f"/><stop offset="0.46" stop-color="#ca7e3d"/><stop offset="0.59" stop-color="#c47a3b"/><stop offset="0.72" stop-color="#bd7639"/><stop offset="0.86" stop-color="#b77137"/><stop offset="1.00" stop-color="#a86833"/></linearGradient>
<polygon points="384.7,322.1 381.4,322.3 378.1,322.4 374.8,322.5 371.5,322.5 368.2,322.4 364.9,322.3 361.6,322.2 358.4,321.9 355.2,321.6 352.0,321.3 348.8,320.9 345.7,320.4 342.7,319.9 339.7,319.3 336.8,318.6 333.9,317.9 331.1,317.2 328.4,316.4 325.7,315.6 323.2,314.7 320.7,313.7 318.3,312.8 316.0,311.7 313.8,310.7 311.8,309.6 309.8,308.5 307.9,307.3 306.1,306.1 304.4,304.9 302.8,303.7 301.3,302.4 300.0,301.1 298.7,299.8 297.6,298.5 296.6,297.2 295.6,295.8 294.8,294.5 294.1,293.1 293.5,291.7 293.1,290.4 292.7,289.0 292.4,287.6 292.2,286.2 292.6,289.5 292.7,290.9 293.0,292.3 293.4,293.6 293.9,295.0 294.5,296.4 295.2,297.8 296.0,299.2 296.9,300.5 297.9,301.9 299.1,303.2 300.3,304.5 301.7,305.8 303.1,307.1 304.7,308.3 306.4,309.5 308.2,310.7 310.1,311.9 312.0,313.0 314.1,314.1 316.3,315.2 318.6,316.2 321.0,317.2 323.4,318.1 326.0,319.0 328.6,319.9 331.3,320.7 334.1,321.4 337.0,322.1 339.9,322.8 342.9,323.4 345.9,323.9 349.0,324.4 352.1,324.8 355.3,325.2 358.5,325.5 361.7,325.7 365.0,325.9 368.3,326.0 371.6,326.0 374.9,326.0 378.2,325.9 381.4,325.8 384.7,325.6" fill="url(#pyrene19)"/>
<linearGradient id="pyrene20" gradientUnits="userSpaceOnUse" x1="292.2" y1="0" x2="384.7" y2="0"><stop offset="0.00" stop-color="#f29649"/><stop offset="0.01" stop-color="#f19649"/><stop offset="0.04" stop-color="#ef9448"/><stop offset="0.09" stop-color="#e89046"/><stop offset="0.16" stop-color="#e08b44"/><stop offset="0.25" stop-color="#d88641"/><stop offset="0.35" stop-color="#d28240"/><stop offset="0.46" stop-color="#cc7f3e"/><stop offset="0.59" stop-color="#c67b3c"/><stop offset="0.72" stop-color="#bf773a"/><stop offset="0.86" stop-color="#b97338"/><stop offset="1.00" stop-color="#a96933"/></linearGradient>
<polygon points="384.7,322.1 381.4,322.3 378.1,322.4 374.8,322.5 371.5,322.5 368.2,322.4 364.9,322.3 361.6,322.2 358.4,321.9 355.2,321.6 352.0,321.3 348.8,320.9 345.7,320.4 342.7,319.9 339.7,319.3 336.8,318.6 333.9,317.9 331.1,317.2 328.4,316.4 325.7,315.6 323.2,314.7 320.7,313.7 318.3,312.8 316.0,311.7 313.8,310.7 311.8,309.6 309.8,308.5 307.9,307.3 306.1,306.1 304.4,304.9 302.8,303.7 301.3,302.4 300.0,301.1 298.7,299.8 297.6,298.5 296.6,297.2 295.6,295.8 294.8,294.5 294.1,293.1 293.5,291.7 293.1,290.4 292.7,289.0 292.4,287.6 292.2,286.2 292.4,287.9 292.6,289.2 292.9,290.6 293.2,292.0 293.7,293.4 294.3,294.8 295.0,296.1 295.8,297.5 296.7,298.8 297.8,300.2 298.9,301.5 300.1,302.8 301.5,304.1 303.0,305.4 304.5,306.6 306.2,307.8 308.0,309.0 309.9,310.2 311.9,311.3 314.0,312.4 316.2,313.5 318.5,314.5 320.8,315.5 323.3,316.4 325.9,317.3 328.5,318.2 331.2,318.9 334.0,319.7 336.9,320.4 339.8,321.0 342.8,321.6 345.8,322.2 348.9,322.6 352.1,323.0 355.2,323.4 358.4,323.7 361.7,323.9 365.0,324.1 368.2,324.2 371.5,324.3 374.8,324.2 378.1,324.2 381.4,324.0 384.7,323.8" fill="url(#pyrene20)"/>
<polygon points="375.4,277.9 384.7,322.1 381.4,322.3 378.1,322.4 374.8,322.5 371.5,322.5 368.2,322.4 364.9,322.3 361.6,322.2 358.4,321.9 355.2,321.6 352.0,321.3 348.8,320.9 345.7,320.4 342.7,319.9 339.7,319.3 336.8,318.6 333.9,317.9 331.1,317.2 328.4,316.4 325.7,315.6 323.2,314.7 320.7,313.7 318.3,312.8 316.0,311.7 313.8,310.7 311.8,309.6 309.8,308.5 307.9,307.3 306.1,306.1 304.4,304.9 302.8,303.7 301.3,302.4 300.0,301.1 298.7,299.8 297.6,298.5 296.6,297.2 295.6,295.8 294.8,294.5 294.1,293.1 293.5,291.7 293.1,290.4 292.7,289.0 292.4,287.6 292.2,286.2 292.2,284.9 292.2,283.5 292.4,282.2 292.6,280.8 292.9,279.5 293.4,278.1 293.9,276.8 294.5,275.5 295.2,274.2 296.0,273.0 296.9,271.7 297.8,270.5 298.9,269.3 300.0,268.1 301.2,266.9 302.5,265.8 303.8,264.7 305.2,263.6 306.7,262.5 308.2,261.4" fill="#f5984a" stroke="#f5984a" stroke-width="0.35"/>
<polygon points="405.3,280.5 444.9,321.8 444.0,339.2 405.1,296.3" fill="#183152" stroke="#183152" stroke-width="0.35"/>
<linearGradient id="pyrene21" gradientUnits="userSpaceOnUse" x1="444.9" y1="0" x2="471.5" y2="0"><stop offset="0.00" stop-color="#20416c"/><stop offset="0.38" stop-color="#1e3c64"/><stop offset="0.71" stop-color="#1b375c"/><stop offset="1.00" stop-color="#1a3457"/></linearGradient>
<polygon points="471.5,311.5 469.5,312.6 467.4,313.7 465.3,314.8 463.0,315.8 460.7,316.8 458.2,317.7 455.7,318.6 453.1,319.5 450.5,320.3 447.7,321.1 444.9,321.8 444.0,339.2 446.7,338.5 449.4,337.7 452.0,336.8 454.6,335.9 457.0,335.0 459.4,334.0 461.7,333.0 464.0,331.9 466.1,330.8 468.1,329.7 470.1,328.5" fill="url(#pyrene21)"/>
<linearGradient id="pyrene22" gradientUnits="userSpaceOnUse" x1="444.9" y1="0" x2="471.5" y2="0"><stop offset="0.00" stop-color="#20416d"/><stop offset="0.38" stop-color="#1e3c65"/><stop offset="0.71" stop-color="#1b375d"/><stop offset="1.00" stop-color="#1a3558"/></linearGradient>
<polygon points="471.5,311.5 469.5,312.6 467.4,313.7 465.3,314.8 463.0,315.8 460.7,316.8 458.2,317.7 455.7,318.6 453.1,319.5 450.5,320.3 447.7,321.1 444.9,321.8 444.0,337.5 446.8,336.7 449.5,336.0 452.1,335.1 454.7,334.2 457.2,333.3 459.6,332.3 461.9,331.3 464.1,330.2 466.2,329.1 468.3,328.0 470.2,326.8" fill="url(#pyrene22)"/>
<linearGradient id="pyrene23" gradientUnits="userSpaceOnUse" x1="444.9" y1="0" x2="471.5" y2="0"><stop offset="0.00" stop-color="#21426f"/><stop offset="0.38" stop-color="#1e3d66"/><stop offset="0.71" stop-color="#1c385d"/><stop offset="1.00" stop-color="#1a3559"/></linearGradient>
<polygon points="471.5,311.5 469.5,312.6 467.4,313.7 465.3,314.8 463.0,315.8 460.7,316.8 458.2,317.7 455.7,318.6 453.1,319.5 450.5,320.3 447.7,321.1 444.9,321.8 444.1,335.8 446.9,335.0 449.6,334.2 452.3,333.4 454.8,332.5 457.3,331.6 459.7,330.6 462.0,329.6 464.2,328.5 466.3,327.4 468.4,326.3 470.3,325.1" fill="url(#pyrene23)"/>
<linearGradient id="pyrene24" gradientUnits="userSpaceOnUse" x1="444.9" y1="0" x2="471.5" y2="0"><stop offset="0.00" stop-color="#214370"/><stop offset="0.38" stop-color="#1f3e67"/><stop offset="0.71" stop-color="#1c385e"/><stop offset="1.00" stop-color="#1b365a"/></linearGradient>
<polygon points="471.5,311.5 469.5,312.6 467.4,313.7 465.3,314.8 463.0,315.8 460.7,316.8 458.2,317.7 455.7,318.6 453.1,319.5 450.5,320.3 447.7,321.1 444.9,321.8 444.2,334.0 447.0,333.3 449.7,332.5 452.4,331.7 454.9,330.8 457.4,329.9 459.8,328.9 462.1,327.9 464.3,326.8 466.5,325.7 468.5,324.6 470.5,323.5" fill="url(#pyrene24)"/>
<linearGradient id="pyrene25" gradientUnits="userSpaceOnUse" x1="444.9" y1="0" x2="471.5" y2="0"><stop offset="0.00" stop-color="#214371"/><stop offset="0.38" stop-color="#1f3e68"/><stop offset="0.71" stop-color="#1c395f"/><stop offset="1.00" stop-color="#1b365b"/></linearGradient>
<polygon points="471.5,311.5 469.5,312.6 467.4,313.7 465.3,314.8 463.0,315.8 460.7,316.8 458.2,317.7 455.7,318.6 453.1,319.5 450.5,320.3 447.7,321.1 444.9,321.8 444.3,332.3 447.1,331.6 449.8,330.8 452.5,330.0 455.0,329.1 457.5,328.2 459.9,327.2 462.2,326.2 464.5,325.1 466.6,324.0 468.7,322.9 470.6,321.8" fill="url(#pyrene25)"/>
<linearGradient id="pyrene26" gradientUnits="userSpaceOnUse" x1="444.9" y1="0" x2="471.5" y2="0"><stop offset="0.00" stop-color="#224472"/><stop offset="0.38" stop-color="#1f3f69"/><stop offset="0.71" stop-color="#1d3a60"/><stop offset="1.00" stop-color="#1b375c"/></linearGradient>
<polygon points="471.5,311.5 469.5,312.6 467.4,313.7 465.3,314.8 463.0,315.8 460.7,316.8 458.2,317.7 455.7,318.6 453.1,319.5 450.5,320.3 447.7,321.1 444.9,321.8 444.4,330.6 447.2,329.8 449.9,329.1 452.6,328.2 455.2,327.4 457.6,326.4 460.1,325.5 462.4,324.5 464.6,323.4 466.7,322.3 468.8,321.2 470.8,320.1" fill="url(#pyrene26)"/>
<linearGradient id="pyrene27" gradientUnits="userSpaceOnUse" x1="444.9" y1="0" x2="471.5" y2="0"><stop offset="0.00" stop-color="#224573"/><stop offset="0.38" stop-color="#1f3f6a"/><stop offset="0.71" stop-color="#1d3a61"/><stop offset="1.00" stop-color="#1b375d"/></linearGradient>
<polygon points="471.5,311.5 469.5,312.6 467.4,313.7 465.3,314.8 463.0,315.8 460.7,316.8 458.2,317.7 455.7,318.6 453.1,319.5 450.5,320.3 447.7,321.1 444.9,321.8 444.5,328.8 447.3,328.1 450.0,327.3 452.7,326.5 455.3,325.6 457.8,324.7 460.2,323.7 462.5,322.7 464.7,321.7 466.9,320.6 468.9,319.5 470.9,318.4" fill="url(#pyrene27)"/>
<linearGradient id="pyrene28" gradientUnits="userSpaceOnUse" x1="444.9" y1="0" x2="471.5" y2="0"><stop offset="0.00" stop-color="#224574"/><stop offset="0.38" stop-color="#20406b"/><stop offset="0.71" stop-color="#1d3b62"/><stop offset="1.00" stop-color="#1c385e"/></linearGradient>
<polygon points="471.5,311.5 469.5,312.6 467.4,313.7 465.3,314.8 463.0,315.8 460.7,316.8 458.2,317.7 455.7,318.6 453.1,319.5 450.5,320.3 447.7,321.1 444.9,321.8 444.6,327.1 447.4,326.4 450.1,325.6 452.8,324.8 455.4,323.9 457.9,323.0 460.3,322.0 462.6,321.0 464.9,320.0 467.0,318.9 469.1,317.8 471.0,316.6" fill="url(#pyrene28)"/>
<linearGradient id="pyrene29" gradientUnits="userSpaceOnUse" x1="444.9" y1="0" x2="471.5" y2="0"><stop offset="0.00" stop-color="#234675"/><stop offset="0.38" stop-color="#20416c"/><stop offset="0.71" stop-color="#1d3b63"/><stop offset="1.00" stop-color="#1c385f"/></linearGradient>
<polygon points="471.5,311.5 469.5,312.6 467.4,313.7 465.3,314.8 463.0,315.8 460.7,316.8 458.2,317.7 455.7,318.6 453.1,319.5 450.5,320.3 447.7,321.1 444.9,321.8 444.7,325.3 447.5,324.6 450.3,323.8 452.9,323.0 455.5,322.1 458.0,321.2 460.4,320.3 462.8,319.3 465.0,318.2 467.2,317.2 469.2,316.1 471.2,314.9" fill="url(#pyrene29)"/>
<linearGradient id="pyrene30" gradientUnits="userSpaceOnUse" x1="444.9" y1="0" x2="471.5" y2="0"><stop offset="0.00" stop-color="#234777"/><stop offset="0.38" stop-color="#20416d"/><stop offset="0.71" stop-color="#1e3c64"/><stop offset="1.00" stop-color="#1c3960"/></linearGradient>
<polygon points="471.5,311.5 469.5,312.6 467.4,313.7 465.3,314.8 463.0,315.8 460.7,316.8 458.2,317.7 455.7,318.6 453.1,319.5 450.5,320.3 447.7,321.1 444.9,321.8 444.8,323.6 447.6,322.8 450.4,322.1 453.0,321.3 455.6,320.4 458.1,319.5 460.5,318.5 462.9,317.5 465.1,316.5 467.3,315.4 469.4,314.3 471.3,313.2" fill="url(#pyrene30)"/>
<polygon points="405.3,280.5 471.5,311.5 469.5,312.6 467.4,313.7 465.3,314.8 463.0,315.8 460.7,316.8 458.2,317.7 455.7,318.6 453.1,319.5 450.5,320.3 447.7,321.1 444.9,321.8" fill="#3d7bce" stroke="#3d7bce" stroke-width="0.35"/>
<polygon points="400.8,281.6 431.7,325.0 430.9,342.5 400.7,297.4" fill="#4e1919" stroke="#4e1919" stroke-width="0.35"/>
<linearGradient id="pyrene31" gradientUnits="userSpaceOnUse" x1="431.7" y1="0" x2="439.9" y2="0"><stop offset="0.00" stop-color="#6d2323"/><stop offset="1.00" stop-color="#672121"/></linearGradient>
<polygon points="439.9,323.3 437.2,323.9 434.5,324.5 431.7,325.0 430.9,342.5 433.7,342.0 436.4,341.4 439.0,340.7" fill="url(#pyrene31)"/>
<linearGradient id="pyrene32" gradientUnits="userSpaceOnUse" x1="431.7" y1="0" x2="439.9" y2="0"><stop offset="0.00" stop-color="#6e2323"/><stop offset="1.00" stop-color="#682121"/></linearGradient>
<polygon points="439.9,323.3 437.2,323.9 434.5,324.5 431.7,325.0 431.0,340.8 433.8,340.3 436.5,339.7 439.1,339.0" fill="url(#pyrene32)"/>
<linearGradient id="pyrene33" gradientUnits="userSpaceOnUse" x1="431.7" y1="0" x2="439.9" y2="0"><stop offset="0.00" stop-color="#6f2324"/><stop offset="1.00" stop-color="#692122"/></linearGradient>
<polygon points="439.9,323.3 437.2,323.9 434.5,324.5 431.7,325.0 431.1,339.1 433.8,338.5 436.6,337.9 439.2,337.3" fill="url(#pyrene33)"/>
<linearGradient id="pyrene34" gradientUnits="userSpaceOnUse" x1="431.7" y1="0" x2="439.9" y2="0"><stop offset="0.00" stop-color="#712424"/><stop offset="1.00" stop-color="#6a2222"/></linearGradient>
<polygon points="439.9,323.3 437.2,323.9 434.5,324.5 431.7,325.0 431.1,337.3 433.9,336.8 436.6,336.2 439.3,335.6" fill="url(#pyrene34)"/>
<linearGradient id="pyrene35" gradientUnits="userSpaceOnUse" x1="431.7" y1="0" x2="439.9" y2="0"><stop offset="0.00" stop-color="#722425"/><stop offset="1.00" stop-color="#6b2223"/></linearGradient>
<polygon points="439.9,323.3 437.2,323.9 434.5,324.5 431.7,325.0 431.2,335.6 434.0,335.1 436.7,334.5 439.4,333.8" fill="url(#pyrene35)"/>
<linearGradient id="pyrene36" gradientUnits="userSpaceOnUse" x1="431.7" y1="0" x2="439.9" y2="0"><stop offset="0.00" stop-color="#732425"/><stop offset="1.00" stop-color="#6c2223"/></linearGradient>
<polygon points="439.9,323.3 437.2,323.9 434.5,324.5 431.7,325.0 431.3,333.8 434.1,333.3 436.8,332.7 439.5,332.1" fill="url(#pyrene36)"/>
<linearGradient id="pyrene37" gradientUnits="userSpaceOnUse" x1="431.7" y1="0" x2="439.9" y2="0"><stop offset="0.00" stop-color="#742525"/><stop offset="1.00" stop-color="#6e2323"/></linearGradient>
<polygon points="439.9,323.3 437.2,323.9 434.5,324.5 431.7,325.0 431.4,332.1 434.1,331.5 436.9,331.0 439.6,330.3" fill="url(#pyrene37)"/>
<linearGradient id="pyrene38" gradientUnits="userSpaceOnUse" x1="431.7" y1="0" x2="439.9" y2="0"><stop offset="0.00" stop-color="#752526"/><stop offset="1.00" stop-color="#6f2324"/></linearGradient>
<polygon points="439.9,323.3 437.2,323.9 434.5,324.5 431.7,325.0 431.4,330.3 434.2,329.8 437.0,329.2 439.7,328.6" fill="url(#pyrene38)"/>
<linearGradient id="pyrene39" gradientUnits="userSpaceOnUse" x1="431.7" y1="0" x2="439.9" y2="0"><stop offset="0.00" stop-color="#762526"/><stop offset="1.00" stop-color="#702324"/></linearGradient>
<polygon points="439.9,323.3 437.2,323.9 434.5,324.5 431.7,325.0 431.5,328.6 434.3,328.0 437.0,327.4 439.7,326.8" fill="url(#pyrene39)"/>
<linearGradient id="pyrene40" gradientUnits="userSpaceOnUse" x1="431.7" y1="0" x2="439.9" y2="0"><stop offset="0.00" stop-color="#772626"/><stop offset="1.00" stop-color="#712424"/></linearGradient>
<polygon points="439.9,323.3 437.2,323.9 434.5,324.5 431.7,325.0 431.6,326.8 434.4,326.2 437.1,325.7 439.8,325.0" fill="url(#pyrene40)"/>
<polygon points="400.8,281.6 439.9,323.3 437.2,323.9 434.5,324.5 431.7,325.0" fill="#c43e3f" stroke="#c43e3f" stroke-width="0.35"/>
<polygon points="399.7,281.8 429.3,325.4 428.6,343.0 399.6,297.6" fill="#384a1e" stroke="#384a1e" stroke-width="0.35"/>
<linearGradient id="pyrene41" gradientUnits="userSpaceOnUse" x1="429.3" y1="0" x2="430.4" y2="0"><stop offset="0.00" stop-color="#4f672a"/><stop offset="1.00" stop-color="#4f6629"/></linearGradient>
<polygon points="430.4,325.2 429.8,325.3 429.3,325.4 428.6,343.0 429.1,342.9 429.7,342.8" fill="url(#pyrene41)"/>
<linearGradient id="pyrene42" gradientUnits="userSpaceOnUse" x1="429.3" y1="0" x2="430.4" y2="0"><stop offset="0.00" stop-color="#50682a"/><stop offset="1.00" stop-color="#4f682a"/></linearGradient>
<polygon points="430.4,325.2 429.8,325.3 429.3,325.4 428.6,341.3 429.2,341.2 429.8,341.1" fill="url(#pyrene42)"/>
<linearGradient id="pyrene43" gradientUnits="userSpaceOnUse" x1="429.3" y1="0" x2="430.4" y2="0"><stop offset="0.00" stop-color="#51692a"/><stop offset="1.00" stop-color="#50692a"/></linearGradient>
<polygon points="430.4,325.2 429.8,325.3 429.3,325.4 428.7,339.5 429.3,339.4 429.8,339.3" fill="url(#pyrene43)"/>
<linearGradient id="pyrene44" gradientUnits="userSpaceOnUse" x1="429.3" y1="0" x2="430.4" y2="0"><stop offset="0.00" stop-color="#526a2b"/><stop offset="1.00" stop-color="#516a2a"/></linearGradient>
<polygon points="430.4,325.2 429.8,325.3 429.3,325.4 428.8,337.8 429.3,337.7 429.9,337.6" fill="url(#pyrene44)"/>
<linearGradient id="pyrene45" gradientUnits="userSpaceOnUse" x1="429.3" y1="0" x2="430.4" y2="0"><stop offset="0.00" stop-color="#526c2b"/><stop offset="1.00" stop-color="#526b2b"/></linearGradient>
<polygon points="430.4,325.2 429.8,325.3 429.3,325.4 428.8,336.1 429.4,336.0 430.0,335.8" fill="url(#pyrene45)"/>
<linearGradient id="pyrene46" gradientUnits="userSpaceOnUse" x1="429.3" y1="0" x2="430.4" y2="0"><stop offset="0.00" stop-color="#536d2c"/><stop offset="1.00" stop-color="#536c2b"/></linearGradient>
<polygon points="430.4,325.2 429.8,325.3 429.3,325.4 428.9,334.3 429.5,334.2 430.0,334.1" fill="url(#pyrene46)"/>
<linearGradient id="pyrene47" gradientUnits="userSpaceOnUse" x1="429.3" y1="0" x2="430.4" y2="0"><stop offset="0.00" stop-color="#546e2c"/><stop offset="1.00" stop-color="#536d2c"/></linearGradient>
<polygon points="430.4,325.2 429.8,325.3 429.3,325.4 429.0,332.5 429.5,332.4 430.1,332.3" fill="url(#pyrene47)"/>
<linearGradient id="pyrene48" gradientUnits="userSpaceOnUse" x1="429.3" y1="0" x2="430.4" y2="0"><stop offset="0.00" stop-color="#556f2d"/><stop offset="1.00" stop-color="#546e2c"/></linearGradient>
<polygon points="430.4,325.2 429.8,325.3 429.3,325.4 429.1,330.8 429.6,330.7 430.2,330.6" fill="url(#pyrene48)"/>
<linearGradient id="pyrene49" gradientUnits="userSpaceOnUse" x1="429.3" y1="0" x2="430.4" y2="0"><stop offset="0.00" stop-color="#56702d"/><stop offset="1.00" stop-color="#556f2d"/></linearGradient>
<polygon points="430.4,325.2 429.8,325.3 429.3,325.4 429.1,329.0 429.7,328.9 430.3,328.8" fill="url(#pyrene49)"/>
<linearGradient id="pyrene50" gradientUnits="userSpaceOnUse" x1="429.3" y1="0" x2="430.4" y2="0"><stop offset="0.00" stop-color="#57712d"/><stop offset="1.00" stop-color="#56702d"/></linearGradient>
<polygon points="430.4,325.2 429.8,325.3 429.3,325.4 429.2,327.2 429.8,327.1 430.3,327.0" fill="url(#pyrene50)"/>
<polygon points="399.7,281.8 430.4,325.2 429.8,325.3 429.3,325.4" fill="#8db84a" stroke="#8db84a" stroke-width="0.35"/>
<polygon points="397.9,282.0 412.5,327.6 412.1,345.2 397.9,297.8" fill="#322645" stroke="#322645" stroke-width="0.35"/>
<linearGradient id="pyrene51" gradientUnits="userSpaceOnUse" x1="412.5" y1="0" x2="427.2" y2="0"><stop offset="0.00" stop-color="#4f3c6c"/><stop offset="0.51" stop-color="#4a3966"/><stop offset="1.00" stop-color="#473660"/></linearGradient>
<polygon points="427.2,325.8 424.3,326.2 421.4,326.6 418.5,327.0 415.5,327.3 412.5,327.6 412.1,345.2 415.1,344.9 418.0,344.6 420.9,344.2 423.7,343.8 426.6,343.3" fill="url(#pyrene51)"/>
<linearGradient id="pyrene52" gradientUnits="userSpaceOnUse" x1="412.5" y1="0" x2="427.2" y2="0"><stop offset="0.00" stop-color="#503d6d"/><stop offset="0.51" stop-color="#4b3967"/><stop offset="1.00" stop-color="#473661"/></linearGradient>
<polygon points="427.2,325.8 424.3,326.2 421.4,326.6 418.5,327.0 415.5,327.3 412.5,327.6 412.2,343.5 415.1,343.2 418.0,342.9 420.9,342.5 423.8,342.1 426.6,341.6" fill="url(#pyrene52)"/>
<linearGradient id="pyrene53" gradientUnits="userSpaceOnUse" x1="412.5" y1="0" x2="427.2" y2="0"><stop offset="0.00" stop-color="#503d6e"/><stop offset="0.51" stop-color="#4c3a68"/><stop offset="1.00" stop-color="#483762"/></linearGradient>
<polygon points="427.2,325.8 424.3,326.2 421.4,326.6 418.5,327.0 415.5,327.3 412.5,327.6 412.2,341.7 415.1,341.5 418.1,341.1 421.0,340.8 423.8,340.3 426.7,339.9" fill="url(#pyrene53)"/>
<linearGradient id="pyrene54" gradientUnits="userSpaceOnUse" x1="412.5" y1="0" x2="427.2" y2="0"><stop offset="0.00" stop-color="#513e6f"/><stop offset="0.51" stop-color="#4d3b69"/><stop offset="1.00" stop-color="#493863"/></linearGradient>
<polygon points="427.2,325.8 424.3,326.2 421.4,326.6 418.5,327.0 415.5,327.3 412.5,327.6 412.2,340.0 415.2,339.7 418.1,339.4 421.0,339.0 423.9,338.6 426.7,338.1" fill="url(#pyrene54)"/>
<linearGradient id="pyrene55" gradientUnits="userSpaceOnUse" x1="412.5" y1="0" x2="427.2" y2="0"><stop offset="0.00" stop-color="#523f70"/><stop offset="0.51" stop-color="#4e3b6a"/><stop offset="1.00" stop-color="#4a3865"/></linearGradient>
<polygon points="427.2,325.8 424.3,326.2 421.4,326.6 418.5,327.0 415.5,327.3 412.5,327.6 412.3,338.2 415.2,338.0 418.2,337.7 421.1,337.3 424.0,336.8 426.8,336.4" fill="url(#pyrene55)"/>
<linearGradient id="pyrene56" gradientUnits="userSpaceOnUse" x1="412.5" y1="0" x2="427.2" y2="0"><stop offset="0.00" stop-color="#533f71"/><stop offset="0.51" stop-color="#4e3c6b"/><stop offset="1.00" stop-color="#4a3966"/></linearGradient>
<polygon points="427.2,325.8 424.3,326.2 421.4,326.6 418.5,327.0 415.5,327.3 412.5,327.6 412.3,336.5 415.3,336.2 418.2,335.9 421.1,335.5 424.0,335.1 426.9,334.6" fill="url(#pyrene56)"/>
<linearGradient id="pyrene57" gradientUnits="userSpaceOnUse" x1="412.5" y1="0" x2="427.2" y2="0"><stop offset="0.00" stop-color="#544072"/><stop offset="0.51" stop-color="#4f3c6c"/><stop offset="1.00" stop-color="#4b3967"/></linearGradient>
<polygon points="427.2,325.8 424.3,326.2 421.4,326.6 418.5,327.0 415.5,327.3 412.5,327.6 412.3,334.7 415.3,334.5 418.3,334.1 421.2,333.8 424.1,333.3 426.9,332.9" fill="url(#pyrene57)"/>
<linearGradient id="pyrene58" gradientUnits="userSpaceOnUse" x1="412.5" y1="0" x2="427.2" y2="0"><stop offset="0.00" stop-color="#554074"/><stop offset="0.51" stop-color="#503d6d"/><stop offset="1.00" stop-color="#4c3a68"/></linearGradient>
<polygon points="427.2,325.8 424.3,326.2 421.4,326.6 418.5,327.0 415.5,327.3 412.5,327.6 412.4,333.0 415.4,332.7 418.3,332.4 421.2,332.0 424.1,331.6 427.0,331.1" fill="url(#pyrene58)"/>
<linearGradient id="pyrene59" gradientUnits="userSpaceOnUse" x1="412.5" y1="0" x2="427.2" y2="0"><stop offset="0.00" stop-color="#554175"/><stop offset="0.51" stop-color="#513e6e"/><stop offset="1.00" stop-color="#4d3a69"/></linearGradient>
<polygon points="427.2,325.8 424.3,326.2 421.4,326.6 418.5,327.0 415.5,327.3 412.5,327.6 412.4,331.2 415.4,330.9 418.4,330.6 421.3,330.2 424.2,329.8 427.1,329.3" fill="url(#pyrene59)"/>
<linearGradient id="pyrene60" gradientUnits="userSpaceOnUse" x1="412.5" y1="0" x2="427.2" y2="0"><stop offset="0.00" stop-color="#564276"/><stop offset="0.51" stop-color="#523e6f"/><stop offset="1.00" stop-color="#4d3b6a"/></linearGradient>
<polygon points="427.2,325.8 424.3,326.2 421.4,326.6 418.5,327.0 415.5,327.3 412.5,327.6 412.4,329.4 415.4,329.1 418.4,328.8 421.4,328.4 424.3,328.0 427.1,327.5" fill="url(#pyrene60)"/>
<polygon points="397.9,282.0 427.2,325.8 424.3,326.2 421.4,326.6 418.5,327.0 415.5,327.3 412.5,327.6" fill="#7e60ac" stroke="#7e60ac" stroke-width="0.35"/>
<polygon points="396.1,282.1 409.1,327.9 408.8,345.5 396.1,298.0" fill="#17414d" stroke="#17414d" stroke-width="0.35"/>
<linearGradient id="pyrene61" gradientUnits="userSpaceOnUse" x1="409.1" y1="0" x2="410.3" y2="0"><stop offset="0.00" stop-color="#256679"/><stop offset="1.00" stop-color="#246578"/></linearGradient>
<polygon points="410.3,327.8 409.7,327.9 409.1,327.9 408.8,345.5 409.4,345.5 410.0,345.4" fill="url(#pyrene61)"/>
<linearGradient id="pyrene62" gradientUnits="userSpaceOnUse" x1="409.1" y1="0" x2="410.3" y2="0"><stop offset="0.00" stop-color="#25677a"/><stop offset="1.00" stop-color="#256679"/></linearGradient>
<polygon points="410.3,327.8 409.7,327.9 409.1,327.9 408.9,343.8 409.5,343.8 410.0,343.7" fill="url(#pyrene62)"/>
<linearGradient id="pyrene63" gradientUnits="userSpaceOnUse" x1="409.1" y1="0" x2="410.3" y2="0"><stop offset="0.00" stop-color="#25687c"/><stop offset="1.00" stop-color="#25677b"/></linearGradient>
<polygon points="410.3,327.8 409.7,327.9 409.1,327.9 408.9,342.1 409.5,342.0 410.1,342.0" fill="url(#pyrene63)"/>
<linearGradient id="pyrene64" gradientUnits="userSpaceOnUse" x1="409.1" y1="0" x2="410.3" y2="0"><stop offset="0.00" stop-color="#26697d"/><stop offset="1.00" stop-color="#25697c"/></linearGradient>
<polygon points="410.3,327.8 409.7,327.9 409.1,327.9 408.9,340.3 409.5,340.3 410.1,340.2" fill="url(#pyrene64)"/>
<linearGradient id="pyrene65" gradientUnits="userSpaceOnUse" x1="409.1" y1="0" x2="410.3" y2="0"><stop offset="0.00" stop-color="#266b7e"/><stop offset="1.00" stop-color="#266a7d"/></linearGradient>
<polygon points="410.3,327.8 409.7,327.9 409.1,327.9 408.9,338.6 409.5,338.5 410.1,338.5" fill="url(#pyrene65)"/>
<linearGradient id="pyrene66" gradientUnits="userSpaceOnUse" x1="409.1" y1="0" x2="410.3" y2="0"><stop offset="0.00" stop-color="#276c80"/><stop offset="1.00" stop-color="#266b7e"/></linearGradient>
<polygon points="410.3,327.8 409.7,327.9 409.1,327.9 409.0,336.8 409.6,336.8 410.2,336.7" fill="url(#pyrene66)"/>
<linearGradient id="pyrene67" gradientUnits="userSpaceOnUse" x1="409.1" y1="0" x2="410.3" y2="0"><stop offset="0.00" stop-color="#276d81"/><stop offset="1.00" stop-color="#276c80"/></linearGradient>
<polygon points="410.3,327.8 409.7,327.9 409.1,327.9 409.0,335.0 409.6,335.0 410.2,334.9" fill="url(#pyrene67)"/>
<linearGradient id="pyrene68" gradientUnits="userSpaceOnUse" x1="409.1" y1="0" x2="410.3" y2="0"><stop offset="0.00" stop-color="#276e82"/><stop offset="1.00" stop-color="#276d81"/></linearGradient>
<polygon points="410.3,327.8 409.7,327.9 409.1,327.9 409.0,333.3 409.6,333.2 410.2,333.2" fill="url(#pyrene68)"/>
<linearGradient id="pyrene69" gradientUnits="userSpaceOnUse" x1="409.1" y1="0" x2="410.3" y2="0"><stop offset="0.00" stop-color="#286f83"/><stop offset="1.00" stop-color="#276e82"/></linearGradient>
<polygon points="410.3,327.8 409.7,327.9 409.1,327.9 409.1,331.5 409.7,331.4 410.3,331.4" fill="url(#pyrene69)"/>
<linearGradient id="pyrene70" gradientUnits="userSpaceOnUse" x1="409.1" y1="0" x2="410.3" y2="0"><stop offset="0.00" stop-color="#287085"/><stop offset="1.00" stop-color="#286f83"/></linearGradient>
<polygon points="410.3,327.8 409.7,327.9 409.1,327.9 409.1,329.7 409.7,329.6 410.3,329.6" fill="url(#pyrene70)"/>
<polygon points="396.1,282.1 410.3,327.8 409.7,327.9 409.1,327.9" fill="#3aa2c0" stroke="#3aa2c0" stroke-width="0.35"/>
<g class="lbl" style="font-size:7.10px">
<text x="7.00" y="32.63" textLength="44.25" lengthAdjust="spacingAndGlyphs">system process, 2.6</text>
<text x="28.75" y="41.13" textLength="25.75" lengthAdjust="spacingAndGlyphs">response to</text>
<text x="26.00" y="47.53" textLength="29.50" lengthAdjust="spacingAndGlyphs">stimulus, 2.8</text>
<text x="-0.50" y="59.63" textLength="41.75" lengthAdjust="spacingAndGlyphs">reproduction, 0.4</text>
<text x="90.50" y="32.13" textLength="32.00" lengthAdjust="spacingAndGlyphs">apoptosis, 1.8</text>
<text x="95.00" y="49.03" textLength="21.00" lengthAdjust="spacingAndGlyphs">transport,</text>
<text x="102.00" y="55.63" textLength="8.50" lengthAdjust="spacingAndGlyphs">9.0</text>
<text x="130.50" y="24.13" textLength="40.75" lengthAdjust="spacingAndGlyphs">cell adhesion, 0.4</text>
<text x="177.50" y="27.63" textLength="8.00" lengthAdjust="spacingAndGlyphs">cell</text>
<text x="161.25" y="35.13" textLength="40.00" lengthAdjust="spacingAndGlyphs">communication ,</text>
<text x="178.00" y="41.38" textLength="7.50" lengthAdjust="spacingAndGlyphs">5.3</text>
<text x="189.50" y="45.88" textLength="31.75" lengthAdjust="spacingAndGlyphs">cell cycle, 7.7</text>
<text x="229.00" y="57.23" textLength="16.90" lengthAdjust="spacingAndGlyphs">cellular</text>
<text x="224.30" y="63.93" textLength="26.90" lengthAdjust="spacingAndGlyphs">component</text>
<text x="222.30" y="70.23" textLength="30.30" lengthAdjust="spacingAndGlyphs">organization,</text>
<text x="233.70" y="77.03" textLength="6.80" lengthAdjust="spacingAndGlyphs">6.3</text>
<text x="185.00" y="91.53" textLength="38.75" lengthAdjust="spacingAndGlyphs">cellular process,</text>
<text x="200.00" y="97.73" textLength="9.40" lengthAdjust="spacingAndGlyphs">15.8</text>
<text x="31.10" y="99.93" textLength="44.00" lengthAdjust="spacingAndGlyphs">metabolic process,</text>
<text x="47.00" y="106.63" textLength="8.50" lengthAdjust="spacingAndGlyphs">36.8</text>
<text x="213.30" y="143.33" textLength="30.20" lengthAdjust="spacingAndGlyphs">development</text>
<text x="213.30" y="149.43" textLength="29.40" lengthAdjust="spacingAndGlyphs">process, 5.7</text>
<text x="212.40" y="159.83" textLength="31.10" lengthAdjust="spacingAndGlyphs">generation of</text>
<text x="215.80" y="166.73" textLength="23.40" lengthAdjust="spacingAndGlyphs">precursor</text>
<text x="214.00" y="173.63" textLength="27.00" lengthAdjust="spacingAndGlyphs">metabolites</text>
<text x="209.40" y="180.23" textLength="36.70" lengthAdjust="spacingAndGlyphs">and energy, 1.5</text>
<text x="176.90" y="167.63" textLength="28.60" lengthAdjust="spacingAndGlyphs">homeostatic</text>
<text x="176.90" y="173.63" textLength="28.60" lengthAdjust="spacingAndGlyphs">process, 0.2</text>
<text x="92.80" y="168.93" textLength="38.90" lengthAdjust="spacingAndGlyphs">localization, 0.2</text>
<text x="143.00" y="166.33" textLength="19.00" lengthAdjust="spacingAndGlyphs">immune</text>
<text x="143.80" y="173.23" textLength="16.50" lengthAdjust="spacingAndGlyphs">system</text>
<text x="137.80" y="179.33" textLength="28.50" lengthAdjust="spacingAndGlyphs">process, 3.5</text>
<text x="298.00" y="24.63" textLength="44.50" lengthAdjust="spacingAndGlyphs">system process, 2.3</text>
<text x="307.00" y="38.13" textLength="25.50" lengthAdjust="spacingAndGlyphs">response to</text>
<text x="305.00" y="44.63" textLength="28.50" lengthAdjust="spacingAndGlyphs">stimulus, 5.3</text>
<text x="271.25" y="55.88" textLength="40.00" lengthAdjust="spacingAndGlyphs">reproduction, 1.2</text>
<text x="357.50" y="36.88" textLength="28.75" lengthAdjust="spacingAndGlyphs">transport, 6.4</text>
<text x="382.50" y="27.13" textLength="32.00" lengthAdjust="spacingAndGlyphs">apoptosis, 2.3</text>
<text x="420.30" y="29.13" textLength="40.20" lengthAdjust="spacingAndGlyphs">cell adhesion, 0.6</text>
<text x="485.40" y="24.53" textLength="7.00" lengthAdjust="spacingAndGlyphs">cell</text>
<text x="471.60" y="31.43" textLength="34.60" lengthAdjust="spacingAndGlyphs">communication</text>
<text x="484.30" y="37.93" textLength="9.20" lengthAdjust="spacingAndGlyphs">, 7.0</text>
<text x="459.60" y="40.93" textLength="21.20" lengthAdjust="spacingAndGlyphs">cell cycle,</text>
<text x="467.00" y="47.83" textLength="7.00" lengthAdjust="spacingAndGlyphs">7.0</text>
<text x="488.90" y="48.33" textLength="13.90" lengthAdjust="spacingAndGlyphs">cellular</text>
<text x="485.40" y="55.33" textLength="23.10" lengthAdjust="spacingAndGlyphs">component</text>
<text x="483.00" y="61.63" textLength="25.50" lengthAdjust="spacingAndGlyphs">organization,</text>
<text x="489.00" y="68.03" textLength="5.70" lengthAdjust="spacingAndGlyphs">4.7</text>
<text x="451.25" y="94.63" textLength="36.25" lengthAdjust="spacingAndGlyphs">cellular process,</text>
<text x="464.50" y="100.88" textLength="9.25" lengthAdjust="spacingAndGlyphs">16.4</text>
<text x="297.50" y="99.03" textLength="41.25" lengthAdjust="spacingAndGlyphs">metabolic process,</text>
<text x="314.40" y="105.23" textLength="8.70" lengthAdjust="spacingAndGlyphs">32.7</text>
<text x="452.00" y="159.13" textLength="29.25" lengthAdjust="spacingAndGlyphs">development</text>
<text x="452.50" y="166.63" textLength="27.50" lengthAdjust="spacingAndGlyphs">process, 7.0</text>
<text x="423.75" y="169.13" textLength="26.75" lengthAdjust="spacingAndGlyphs">homeostatic</text>
<text x="423.75" y="175.88" textLength="26.75" lengthAdjust="spacingAndGlyphs">process, 0.6</text>
<text x="382.50" y="170.13" textLength="35.50" lengthAdjust="spacingAndGlyphs">immune system</text>
<text x="386.25" y="177.63" textLength="27.50" lengthAdjust="spacingAndGlyphs">process, 6.4</text>
<text x="3.00" y="223.38" textLength="48.25" lengthAdjust="spacingAndGlyphs">system process, 2.0</text>
<text x="16.25" y="235.13" textLength="26.25" lengthAdjust="spacingAndGlyphs">response to</text>
<text x="13.75" y="241.63" textLength="31.25" lengthAdjust="spacingAndGlyphs">stimulus, 2.0</text>
<text x="1.25" y="251.63" textLength="43.25" lengthAdjust="spacingAndGlyphs">reproduction, 0.6</text>
<text x="95.00" y="225.13" textLength="33.30" lengthAdjust="spacingAndGlyphs">apoptosis, 1.1</text>
<text x="101.50" y="216.13" textLength="41.50" lengthAdjust="spacingAndGlyphs">cell adhesion, 1.4</text>
<text x="87.50" y="243.38" textLength="34.50" lengthAdjust="spacingAndGlyphs">transport, 10.9</text>
<text x="163.00" y="215.93" textLength="8.40" lengthAdjust="spacingAndGlyphs">cell</text>
<text x="149.20" y="224.33" textLength="35.40" lengthAdjust="spacingAndGlyphs">communication</text>
<text x="163.00" y="231.33" textLength="9.30" lengthAdjust="spacingAndGlyphs">, 6.0</text>
<text x="204.60" y="232.93" textLength="36.40" lengthAdjust="spacingAndGlyphs">cell cycle, 5.5</text>
<text x="212.30" y="243.03" textLength="47.20" lengthAdjust="spacingAndGlyphs">cellular component</text>
<text x="215.40" y="250.73" textLength="43.10" lengthAdjust="spacingAndGlyphs">organization, 5.2</text>
<text x="190.00" y="280.88" textLength="37.50" lengthAdjust="spacingAndGlyphs">cellular process,</text>
<text x="205.00" y="287.13" textLength="8.75" lengthAdjust="spacingAndGlyphs">16.4</text>
<text x="37.40" y="295.93" textLength="44.60" lengthAdjust="spacingAndGlyphs">metabolic process,</text>
<text x="54.60" y="302.43" textLength="10.00" lengthAdjust="spacingAndGlyphs">38.8</text>
<text x="217.60" y="337.33" textLength="30.40" lengthAdjust="spacingAndGlyphs">development</text>
<text x="218.40" y="344.13" textLength="28.30" lengthAdjust="spacingAndGlyphs">process, 5.5</text>
<text x="223.80" y="354.83" textLength="32.30" lengthAdjust="spacingAndGlyphs">generation of</text>
<text x="229.20" y="361.03" textLength="21.50" lengthAdjust="spacingAndGlyphs">precursor</text>
<text x="226.50" y="367.83" textLength="26.90" lengthAdjust="spacingAndGlyphs">metabolites</text>
<text x="221.90" y="374.23" textLength="36.10" lengthAdjust="spacingAndGlyphs">and energy, 1.4</text>
<text x="190.00" y="366.43" textLength="28.40" lengthAdjust="spacingAndGlyphs">homeostatic</text>
<text x="189.50" y="373.13" textLength="28.10" lengthAdjust="spacingAndGlyphs">process, 0.6</text>
<text x="130.80" y="359.43" textLength="37.70" lengthAdjust="spacingAndGlyphs">localization, 0.3</text>
<text x="141.60" y="367.53" textLength="38.20" lengthAdjust="spacingAndGlyphs">immune system</text>
<text x="145.60" y="374.23" textLength="29.70" lengthAdjust="spacingAndGlyphs">process, 2.3</text>
<text x="266.25" y="224.63" textLength="46.25" lengthAdjust="spacingAndGlyphs">system process, 2.7</text>
<text x="275.00" y="237.13" textLength="27.00" lengthAdjust="spacingAndGlyphs">response to</text>
<text x="272.50" y="243.88" textLength="32.00" lengthAdjust="spacingAndGlyphs">stimulus, 1.7</text>
<text x="267.50" y="252.88" textLength="40.50" lengthAdjust="spacingAndGlyphs">reproduction, 1.0</text>
<text x="357.50" y="224.63" textLength="32.10" lengthAdjust="spacingAndGlyphs">apoptosis, 1.2</text>
<text x="348.00" y="242.63" textLength="35.75" lengthAdjust="spacingAndGlyphs">transport, 12.0</text>
<text x="400.00" y="216.63" textLength="7.50" lengthAdjust="spacingAndGlyphs">cell</text>
<text x="392.00" y="223.13" textLength="21.75" lengthAdjust="spacingAndGlyphs">adhesion,</text>
<text x="400.00" y="229.53" textLength="7.50" lengthAdjust="spacingAndGlyphs">1.5</text>
<text x="433.40" y="215.13" textLength="5.80" lengthAdjust="spacingAndGlyphs">cell</text>
<text x="419.00" y="222.83" textLength="36.00" lengthAdjust="spacingAndGlyphs">communication</text>
<text x="434.00" y="230.13" textLength="6.60" lengthAdjust="spacingAndGlyphs">5.4</text>
<text x="455.90" y="239.03" textLength="32.30" lengthAdjust="spacingAndGlyphs">cell cycle, 6.6</text>
<text x="495.40" y="247.93" textLength="16.90" lengthAdjust="spacingAndGlyphs">cellular</text>
<text x="490.80" y="254.03" textLength="26.10" lengthAdjust="spacingAndGlyphs">component</text>
<text x="488.90" y="260.93" textLength="29.60" lengthAdjust="spacingAndGlyphs">organization,</text>
<text x="500.00" y="266.33" textLength="6.20" lengthAdjust="spacingAndGlyphs">6.4</text>
<text x="452.30" y="282.53" textLength="37.70" lengthAdjust="spacingAndGlyphs">cellular process,</text>
<text x="464.50" y="287.88" textLength="9.25" lengthAdjust="spacingAndGlyphs">16.5</text>
<text x="301.00" y="293.63" textLength="43.60" lengthAdjust="spacingAndGlyphs">metabolic process,</text>
<text x="317.00" y="300.13" textLength="9.00" lengthAdjust="spacingAndGlyphs">34.6</text>
<text x="483.80" y="336.03" textLength="31.00" lengthAdjust="spacingAndGlyphs">development</text>
<text x="483.80" y="342.13" textLength="29.60" lengthAdjust="spacingAndGlyphs">process, 5.9</text>
<text x="460.30" y="352.13" textLength="31.60" lengthAdjust="spacingAndGlyphs">generation of</text>
<text x="466.30" y="358.13" textLength="20.20" lengthAdjust="spacingAndGlyphs">precursor</text>
<text x="462.20" y="364.33" textLength="27.00" lengthAdjust="spacingAndGlyphs">metabolites</text>
<text x="457.60" y="370.53" textLength="35.60" lengthAdjust="spacingAndGlyphs">and energy, 1.5</text>
<text x="389.40" y="354.83" textLength="38.60" lengthAdjust="spacingAndGlyphs">localization, 0.2</text>
<text x="386.70" y="365.13" textLength="36.40" lengthAdjust="spacingAndGlyphs">immune system</text>
<text x="390.20" y="371.03" textLength="29.70" lengthAdjust="spacingAndGlyphs">process, 2.5</text>
<text x="424.50" y="365.13" textLength="28.30" lengthAdjust="spacingAndGlyphs">homeostatic</text>
<text x="424.50" y="371.03" textLength="28.30" lengthAdjust="spacingAndGlyphs">process, 0.2</text>
<polyline points="53.75,30.50 57.00,30.50 72.50,47.50" fill="none" stroke="#444" stroke-width="0.7"/>
<polyline points="56.00,45.00 65.00,51.00" fill="none" stroke="#444" stroke-width="0.7"/>
<polyline points="42.50,57.50 51.00,56.00" fill="none" stroke="#444" stroke-width="0.7"/>
<polyline points="123.50,31.50 127.50,31.50 128.50,40.00" fill="none" stroke="#444" stroke-width="0.7"/>
<polyline points="136.25,23.75 136.25,41.00" fill="none" stroke="#444" stroke-width="0.7"/>
<polyline points="160.00,33.75 152.50,41.25" fill="none" stroke="#444" stroke-width="0.7"/>
<polyline points="214.20,63.20 223.60,63.20" fill="none" stroke="#444" stroke-width="0.7"/>
<polyline points="190.50,142.80 212.40,142.20" fill="none" stroke="#444" stroke-width="0.7"/>
<polyline points="173.50,150.80 211.50,158.50" fill="none" stroke="#444" stroke-width="0.7"/>
<polyline points="168.50,150.00 172.50,165.50 176.00,166.00" fill="none" stroke="#444" stroke-width="0.7"/>
<polyline points="132.60,167.50 137.50,167.50 139.50,155.00" fill="none" stroke="#444" stroke-width="0.7"/>
<polyline points="152.50,155.60 152.50,160.80" fill="none" stroke="#444" stroke-width="0.7"/>
<polyline points="343.00,23.75 346.25,23.75 352.50,45.00" fill="none" stroke="#444" stroke-width="0.7"/>
<polyline points="400.00,28.00 400.00,41.25" fill="none" stroke="#444" stroke-width="0.7"/>
<polyline points="419.60,28.90 409.20,40.40" fill="none" stroke="#444" stroke-width="0.7"/>
<polyline points="471.00,29.20 426.50,43.80" fill="none" stroke="#444" stroke-width="0.7"/>
<polyline points="465.80,47.30 461.20,52.00" fill="none" stroke="#444" stroke-width="0.7"/>
<polyline points="312.50,55.00 320.00,55.00" fill="none" stroke="#444" stroke-width="0.7"/>
<polyline points="53.00,222.50 56.25,222.50 68.75,243.75" fill="none" stroke="#444" stroke-width="0.7"/>
<polyline points="46.25,240.00 51.25,241.25 62.50,246.25" fill="none" stroke="#444" stroke-width="0.7"/>
<polyline points="46.25,250.00 52.50,250.00" fill="none" stroke="#444" stroke-width="0.7"/>
<polyline points="129.20,224.00 132.30,224.00 132.30,233.80" fill="none" stroke="#444" stroke-width="0.7"/>
<polyline points="138.50,217.00 138.50,233.80" fill="none" stroke="#444" stroke-width="0.7"/>
<polyline points="204.60,232.30 192.30,240.00" fill="none" stroke="#444" stroke-width="0.7"/>
<polyline points="211.60,333.90 217.00,336.60" fill="none" stroke="#444" stroke-width="0.7"/>
<polyline points="188.70,340.60 223.80,352.70" fill="none" stroke="#444" stroke-width="0.7"/>
<polyline points="182.50,342.00 184.70,364.90 188.70,364.90" fill="none" stroke="#444" stroke-width="0.7"/>
<polyline points="163.00,347.30 163.00,355.40" fill="none" stroke="#444" stroke-width="0.7"/>
<polyline points="171.70,347.30 171.70,362.20" fill="none" stroke="#444" stroke-width="0.7"/>
<polyline points="313.75,223.75 317.00,223.75 326.25,245.00" fill="none" stroke="#444" stroke-width="0.7"/>
<polyline points="305.75,243.00 310.00,244.50 320.00,248.75" fill="none" stroke="#444" stroke-width="0.7"/>
<polyline points="433.40,228.80 424.80,233.10" fill="none" stroke="#444" stroke-width="0.7"/>
<polyline points="480.80,254.20 490.00,254.20" fill="none" stroke="#444" stroke-width="0.7"/>
<polyline points="459.50,335.20 483.80,333.90" fill="none" stroke="#444" stroke-width="0.7"/>
<polyline points="438.00,342.00 460.90,350.00" fill="none" stroke="#444" stroke-width="0.7"/>
<polyline points="420.00,345.50 420.00,351.50" fill="none" stroke="#444" stroke-width="0.7"/>
<polyline points="429.30,343.30 429.30,360.80" fill="none" stroke="#444" stroke-width="0.7"/>
<polyline points="391.50,224.40 395.00,225.00 396.00,233.00" fill="none" stroke="#444" stroke-width="0.7"/>
</g>
<g style="font-family:'Liberation Serif',serif;font-weight:normal;fill:#1a1a1a;stroke:#1a1a1a;stroke-width:0.35px">
<text x="12.5" y="9.8" style="font-size:14px" textLength="72.5" lengthAdjust="spacingAndGlyphs">Benzopyrene</text>
<text x="282" y="10" style="font-size:13px" textLength="68.5" lengthAdjust="spacingAndGlyphs">Fluoranthene</text>
<text x="17" y="201.5" style="font-size:13.5px" textLength="56.75" lengthAdjust="spacingAndGlyphs">Pentacene</text>
<text x="282" y="201.3" style="font-size:13.2px" textLength="36.75" lengthAdjust="spacingAndGlyphs">Pyrene</text></g>
</svg></body></html>
